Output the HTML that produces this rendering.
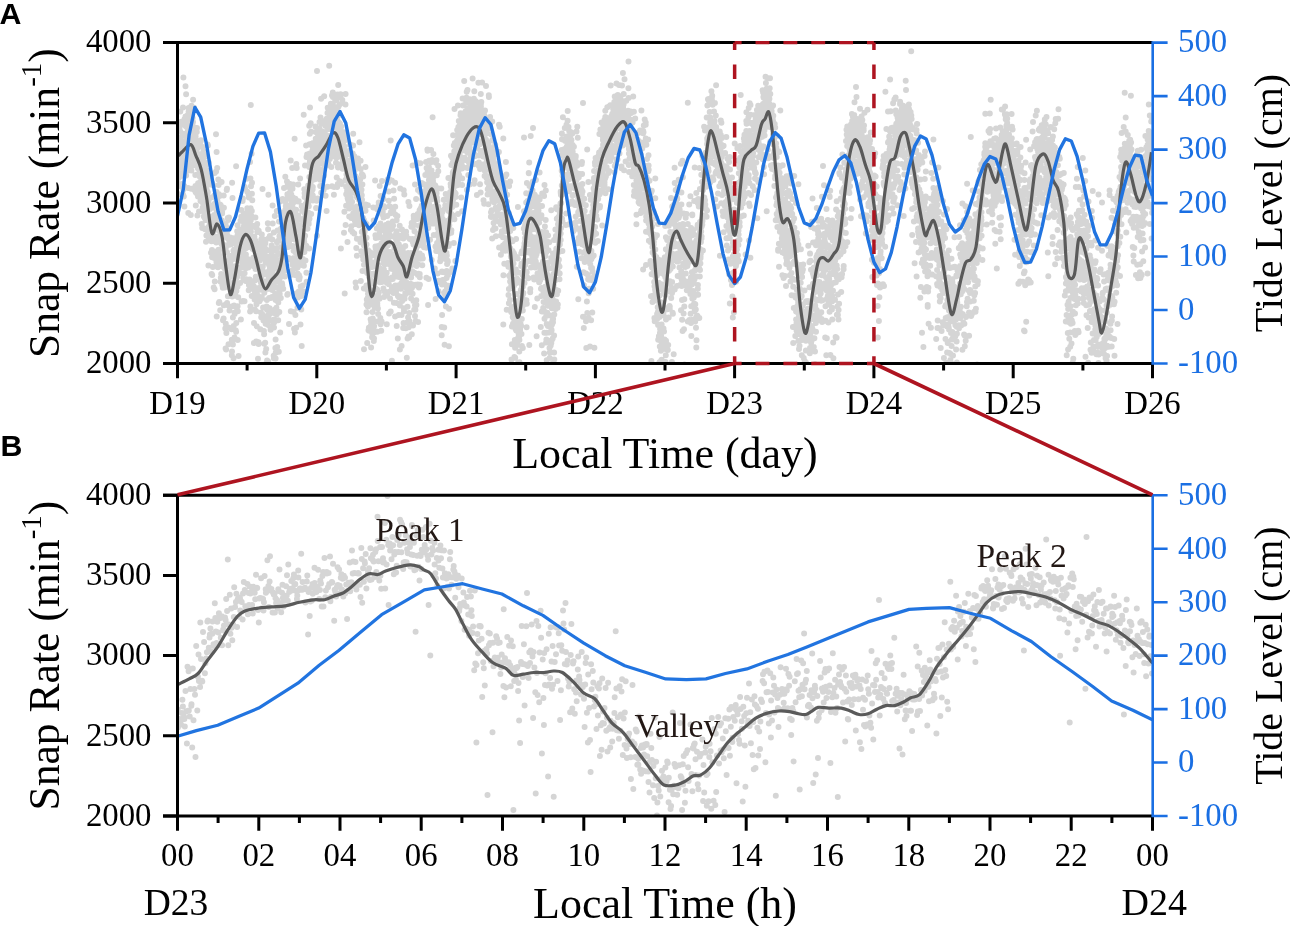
<!DOCTYPE html>
<html><head><meta charset="utf-8"><style>html,body{margin:0;padding:0;background:#fff;overflow:hidden}svg{display:block;will-change:transform}</style></head>
<body><svg width="1290" height="926" viewBox="0 0 1290 926">
<rect width="1290" height="926" fill="#fff"/>
<defs><clipPath id="ca"><rect x="177.5" y="42.6" width="975.0" height="320.9"/></clipPath><clipPath id="cb"><rect x="177.5" y="495.3" width="975.0" height="320.7"/></clipPath></defs>
<g clip-path="url(#ca)"><path d="M177.8 148.5h0M178.0 147.2h0M177.6 170.9h0M177.6 156.4h0M177.9 168.6h0M178.1 168.4h0M178.1 157.5h0M178.4 151.2h0M177.6 142.1h0M177.7 183.5h0M179.1 146.0h0M178.6 150.1h0M179.2 143.4h0M179.0 173.6h0M179.3 152.4h0M179.0 194.3h0M179.2 160.0h0M178.9 149.6h0M178.7 178.1h0M179.3 157.5h0M180.4 143.0h0M180.1 131.5h0M180.3 111.5h0M179.6 158.3h0M180.1 185.9h0M179.9 130.8h0M179.5 155.0h0M179.6 164.8h0M179.6 127.5h0M179.6 173.8h0M181.0 176.1h0M180.8 122.8h0M180.9 166.9h0M180.7 146.9h0M180.7 139.5h0M180.5 143.3h0M180.9 175.4h0M181.0 137.2h0M181.2 173.9h0M181.4 121.7h0M181.9 167.9h0M181.6 163.5h0M181.7 145.3h0M181.5 153.1h0M181.6 184.1h0M182.1 153.2h0M181.8 143.0h0M182.3 184.6h0M182.0 154.7h0M181.8 152.0h0M183.3 189.5h0M183.0 152.9h0M183.0 107.6h0M183.4 133.8h0M182.8 162.1h0M183.0 194.4h0M182.8 166.2h0M183.4 77.5h0M183.3 151.9h0M182.9 168.0h0M183.5 144.8h0M184.5 172.3h0M184.4 206.4h0M183.7 142.1h0M183.7 124.2h0M184.3 124.0h0M184.2 185.9h0M184.4 169.0h0M184.3 159.0h0M183.8 196.5h0M185.5 116.5h0M185.2 169.2h0M184.6 171.5h0M184.6 119.1h0M185.5 125.4h0M184.6 163.0h0M185.5 86.2h0M184.9 134.9h0M185.3 144.3h0M184.7 159.6h0M185.8 170.1h0M185.9 172.1h0M186.1 94.2h0M186.0 162.5h0M186.0 135.4h0M185.5 151.6h0M185.7 141.3h0M185.8 126.2h0M186.1 175.5h0M185.7 157.9h0M187.3 120.8h0M187.4 133.6h0M187.1 121.4h0M187.0 141.2h0M187.0 126.8h0M187.4 115.4h0M187.1 151.9h0M186.6 136.8h0M186.6 166.5h0M187.3 163.2h0M187.7 134.8h0M188.4 140.6h0M187.7 119.0h0M188.5 162.9h0M187.7 129.6h0M187.7 140.9h0M188.2 127.6h0M187.5 137.3h0M188.1 187.9h0M188.3 212.9h0M188.6 170.3h0M188.8 148.5h0M188.9 151.1h0M188.6 123.8h0M189.1 149.9h0M189.2 143.9h0M188.6 111.7h0M188.6 107.9h0M188.6 119.7h0M189.1 149.0h0M189.8 130.2h0M189.6 138.7h0M189.6 136.0h0M190.3 153.2h0M190.0 138.5h0M189.8 142.9h0M190.2 147.0h0M190.4 157.6h0M190.3 113.8h0M189.9 141.1h0M191.2 118.7h0M191.2 188.8h0M190.9 148.0h0M190.6 144.9h0M190.8 167.4h0M191.4 170.6h0M190.8 135.2h0M190.7 157.6h0M190.8 215.1h0M190.7 149.6h0M191.8 158.5h0M192.0 142.1h0M191.7 154.8h0M191.6 141.5h0M191.5 137.6h0M192.1 154.1h0M192.3 131.7h0M191.9 114.0h0M192.5 139.9h0M191.5 105.8h0M193.4 140.5h0M192.6 118.0h0M193.0 164.2h0M193.1 99.8h0M193.2 145.7h0M192.6 147.8h0M192.6 110.4h0M193.1 131.8h0M193.0 152.9h0M193.0 122.0h0M194.2 146.0h0M193.6 134.8h0M194.2 144.6h0M194.0 107.8h0M194.0 151.3h0M194.1 127.2h0M193.6 145.2h0M194.1 134.6h0M193.6 135.3h0M194.2 127.6h0M195.0 141.8h0M195.4 151.7h0M195.5 186.1h0M195.3 175.1h0M194.9 159.6h0M194.7 190.2h0M194.6 157.2h0M195.3 147.3h0M195.4 157.9h0M195.0 187.2h0M195.5 138.2h0M195.6 155.0h0M195.8 205.6h0M196.3 152.4h0M196.4 174.8h0M195.9 143.8h0M196.5 142.5h0M195.8 165.4h0M195.6 136.6h0M195.7 192.3h0M197.0 127.9h0M197.4 215.4h0M197.1 193.8h0M197.2 147.7h0M197.2 155.1h0M196.8 132.0h0M197.4 141.6h0M196.8 158.7h0M197.5 148.2h0M197.1 143.6h0M197.7 166.5h0M198.0 196.5h0M198.4 155.1h0M197.7 159.1h0M197.8 157.3h0M198.1 183.3h0M198.2 141.6h0M197.9 168.3h0M197.6 165.1h0M198.0 153.9h0M199.4 159.0h0M198.9 173.7h0M199.5 166.0h0M198.5 154.1h0M199.4 160.4h0M198.9 159.0h0M199.3 186.4h0M198.6 156.4h0M199.0 211.4h0M199.1 144.0h0M200.0 195.3h0M199.7 176.6h0M200.1 173.1h0M200.1 182.1h0M199.6 140.9h0M199.9 158.9h0M200.1 157.1h0M200.5 201.0h0M200.4 164.9h0M200.5 190.3h0M200.8 140.9h0M200.9 165.2h0M201.2 167.0h0M200.8 169.8h0M201.2 175.2h0M201.0 140.2h0M201.5 173.2h0M200.7 145.7h0M200.8 146.2h0M200.7 164.7h0M202.2 193.3h0M201.7 224.1h0M201.6 186.7h0M202.4 186.0h0M202.2 227.9h0M201.7 157.3h0M202.2 163.2h0M201.9 155.6h0M201.7 165.3h0M202.5 191.5h0M203.5 158.7h0M203.3 208.4h0M202.5 147.1h0M202.7 207.4h0M203.4 151.6h0M203.3 197.8h0M202.5 187.0h0M203.2 165.8h0M202.8 202.7h0M202.8 163.3h0M203.8 216.4h0M204.4 185.3h0M204.4 186.4h0M204.5 228.6h0M203.9 162.5h0M204.4 194.7h0M204.3 212.9h0M204.1 155.1h0M203.8 182.1h0M203.7 167.3h0M204.7 213.0h0M204.8 218.1h0M205.4 207.5h0M204.6 193.9h0M205.2 190.5h0M205.1 229.3h0M205.2 180.0h0M205.3 181.1h0M205.1 186.5h0M204.7 173.8h0M205.7 165.1h0M205.9 193.2h0M206.0 204.7h0M206.5 170.3h0M206.0 241.8h0M205.5 156.3h0M205.6 220.1h0M206.4 191.0h0M206.4 192.8h0M206.4 235.4h0M207.1 208.0h0M206.6 218.3h0M206.8 189.9h0M206.5 185.4h0M207.2 195.4h0M207.3 216.0h0M206.6 177.3h0M207.1 218.3h0M206.7 173.4h0M206.8 216.1h0M207.8 192.3h0M208.4 265.4h0M207.9 203.4h0M207.5 179.5h0M207.9 145.4h0M208.0 234.0h0M207.5 176.0h0M207.6 144.5h0M207.9 217.3h0M208.0 234.8h0M208.6 232.5h0M208.7 162.2h0M209.4 221.8h0M209.4 217.4h0M209.4 228.6h0M209.3 204.8h0M208.9 226.4h0M208.7 200.2h0M209.0 227.1h0M209.2 239.1h0M209.5 217.7h0M210.3 217.3h0M210.1 208.9h0M209.9 207.4h0M209.9 182.3h0M209.5 233.4h0M210.0 224.4h0M210.0 184.4h0M210.0 239.5h0M209.6 237.3h0M211.0 222.1h0M211.2 217.4h0M211.0 207.1h0M211.5 230.6h0M211.4 241.2h0M210.7 175.9h0M211.0 252.8h0M211.3 218.2h0M210.6 225.3h0M211.4 218.0h0M212.3 183.6h0M211.7 232.3h0M212.0 250.1h0M211.7 239.8h0M212.2 275.1h0M211.6 274.0h0M212.1 257.3h0M212.1 197.2h0M211.6 223.5h0M212.3 216.8h0M213.5 206.9h0M212.9 267.0h0M213.2 239.7h0M213.1 222.2h0M213.1 230.3h0M212.5 233.7h0M213.1 185.2h0M212.6 228.4h0M213.2 256.5h0M212.6 232.5h0M213.7 217.6h0M214.1 221.5h0M213.6 231.2h0M213.6 257.8h0M214.4 204.0h0M213.5 252.4h0M214.1 215.1h0M214.4 195.4h0M213.7 287.5h0M213.9 238.7h0M214.6 289.3h0M215.4 229.3h0M214.7 172.9h0M215.3 225.6h0M214.8 281.5h0M215.3 257.2h0M214.5 227.1h0M215.2 203.2h0M214.7 228.9h0M214.8 241.3h0M216.2 218.1h0M216.1 209.3h0M216.3 222.2h0M216.5 262.4h0M216.4 223.9h0M216.2 260.1h0M216.2 242.4h0M215.7 202.8h0M216.1 171.5h0M216.0 134.2h0M217.2 168.0h0M217.1 240.2h0M216.7 316.4h0M216.6 251.6h0M216.6 212.7h0M216.5 236.7h0M217.2 204.0h0M216.6 191.9h0M216.9 266.2h0M216.6 152.0h0M218.4 253.0h0M217.6 236.5h0M218.3 179.6h0M218.1 197.0h0M217.6 226.1h0M217.8 211.5h0M217.5 218.3h0M217.9 267.3h0M218.5 249.7h0M217.5 201.5h0M218.9 194.3h0M219.0 263.6h0M219.4 237.0h0M218.5 215.9h0M219.3 302.0h0M219.0 230.6h0M218.7 205.0h0M218.8 303.1h0M218.8 220.6h0M218.6 185.0h0M219.6 208.2h0M220.1 195.8h0M219.9 240.4h0M220.4 226.9h0M219.7 256.9h0M219.9 204.6h0M219.7 195.4h0M220.3 219.4h0M219.8 260.6h0M220.2 310.3h0M220.7 238.8h0M220.6 204.9h0M221.4 243.8h0M221.2 274.1h0M220.7 233.8h0M221.0 258.9h0M220.8 277.7h0M220.6 242.0h0M220.6 281.8h0M221.2 231.0h0M221.7 262.8h0M221.9 248.5h0M221.9 220.4h0M222.1 213.5h0M221.6 182.0h0M222.4 266.6h0M222.1 212.3h0M222.2 256.2h0M222.3 285.1h0M222.1 211.3h0M222.8 287.7h0M223.3 279.3h0M223.1 224.1h0M223.1 261.3h0M223.2 278.0h0M223.3 286.5h0M223.0 320.2h0M222.7 257.9h0M223.4 279.9h0M223.0 286.0h0M224.0 285.0h0M223.9 207.8h0M223.7 195.6h0M223.6 318.6h0M223.9 249.2h0M223.5 279.1h0M223.9 233.4h0M223.7 285.0h0M224.4 268.3h0M223.9 305.2h0M224.6 287.6h0M225.0 230.0h0M224.7 245.2h0M225.3 328.5h0M225.0 250.2h0M225.3 261.6h0M225.4 252.1h0M224.9 278.3h0M224.5 252.0h0M224.8 283.2h0M225.9 247.3h0M226.4 237.2h0M225.6 348.6h0M225.6 224.1h0M226.1 349.6h0M226.2 277.7h0M225.6 273.2h0M225.8 323.8h0M226.4 333.1h0M227.2 305.0h0M226.7 190.0h0M227.0 188.7h0M227.1 303.0h0M226.7 266.9h0M227.0 277.8h0M227.0 227.7h0M226.5 251.8h0M227.0 252.3h0M226.9 234.3h0M228.5 262.4h0M227.5 230.3h0M228.2 220.0h0M228.0 365.7h0M228.4 279.2h0M227.8 218.1h0M227.9 238.7h0M227.7 275.0h0M227.9 296.2h0M228.3 266.6h0M229.0 217.5h0M229.2 286.2h0M228.8 278.6h0M228.5 344.2h0M228.5 265.6h0M228.5 327.5h0M229.2 260.0h0M229.4 242.2h0M229.2 266.4h0M230.2 283.0h0M230.3 272.2h0M229.7 306.6h0M230.2 237.6h0M230.3 263.5h0M229.8 287.7h0M229.8 255.7h0M229.6 244.8h0M229.5 310.5h0M230.4 265.8h0M230.5 244.5h0M231.5 260.0h0M230.9 285.8h0M230.7 283.5h0M230.6 294.7h0M231.2 276.2h0M230.6 276.8h0M231.2 243.7h0M232.1 182.8h0M231.8 339.7h0M232.2 341.1h0M232.3 296.4h0M231.8 355.2h0M232.0 351.4h0M231.9 255.8h0M231.6 329.2h0M231.9 258.7h0M231.9 256.5h0M233.4 250.8h0M232.6 295.6h0M233.2 255.9h0M233.5 358.3h0M233.1 238.2h0M232.9 344.4h0M233.1 306.0h0M232.5 270.5h0M232.9 317.6h0M232.5 198.1h0M234.3 249.6h0M234.4 267.0h0M234.2 272.8h0M234.1 305.4h0M233.7 325.9h0M234.1 270.1h0M234.0 283.8h0M234.3 338.7h0M233.6 292.7h0M234.1 250.4h0M235.4 243.6h0M234.7 288.4h0M234.7 242.5h0M234.9 312.5h0M234.6 314.0h0M234.6 281.7h0M235.3 258.8h0M235.0 266.2h0M234.5 337.5h0M235.1 257.3h0M236.3 322.9h0M236.3 267.4h0M235.8 281.4h0M235.6 295.7h0M236.1 166.2h0M236.4 290.9h0M236.1 331.7h0M235.8 330.6h0M236.1 250.8h0M235.9 251.8h0M237.5 286.7h0M236.8 277.6h0M237.4 273.8h0M237.3 253.8h0M237.1 310.1h0M237.3 276.5h0M237.2 231.2h0M236.6 246.9h0M236.8 253.8h0M236.7 271.3h0M238.2 256.7h0M237.5 235.5h0M237.7 340.1h0M237.6 225.2h0M237.6 306.2h0M238.0 232.7h0M238.3 249.7h0M237.7 253.0h0M238.2 297.3h0M237.8 311.3h0M238.7 271.3h0M238.7 238.5h0M238.6 356.0h0M239.2 234.4h0M238.8 259.7h0M238.6 256.6h0M239.4 249.3h0M239.5 232.3h0M240.3 248.6h0M240.3 248.8h0M239.7 267.7h0M240.1 239.6h0M239.7 243.7h0M239.6 235.9h0M240.1 245.7h0M240.1 283.0h0M240.3 250.6h0M240.2 257.9h0M241.2 254.6h0M241.3 210.1h0M241.0 273.2h0M241.4 230.7h0M240.7 229.8h0M240.9 258.7h0M240.5 220.7h0M240.6 267.5h0M241.3 216.7h0M240.9 319.5h0M241.6 301.6h0M242.0 235.3h0M242.0 262.5h0M241.7 240.4h0M241.8 266.2h0M242.2 244.7h0M241.5 219.5h0M242.2 229.6h0M242.4 266.9h0M242.0 247.0h0M242.8 230.6h0M243.1 255.2h0M242.6 240.8h0M243.3 215.1h0M242.9 258.8h0M242.9 198.6h0M243.3 240.9h0M242.9 300.9h0M243.3 278.2h0M242.6 201.1h0M244.5 236.4h0M244.1 266.2h0M244.0 213.3h0M243.5 252.2h0M244.5 301.3h0M244.3 214.8h0M244.4 225.4h0M244.2 223.4h0M244.0 215.3h0M244.0 225.7h0M245.5 224.3h0M244.6 273.2h0M245.5 232.4h0M245.0 265.4h0M244.6 229.6h0M244.8 262.4h0M244.6 256.1h0M245.1 188.8h0M244.7 186.9h0M245.1 243.3h0M245.8 241.4h0M245.9 268.2h0M245.5 248.4h0M246.1 223.3h0M245.8 234.1h0M245.7 280.9h0M246.4 261.5h0M245.9 254.4h0M245.6 279.0h0M245.7 226.2h0M246.9 178.7h0M247.3 208.2h0M247.2 240.5h0M247.3 191.7h0M247.4 239.0h0M247.3 235.5h0M247.0 219.1h0M247.3 218.9h0M247.1 213.4h0M247.2 246.1h0M247.9 223.0h0M248.3 267.5h0M248.0 247.3h0M247.6 259.1h0M248.1 259.5h0M248.3 221.1h0M248.5 194.4h0M247.5 264.5h0M248.1 280.0h0M248.0 224.0h0M249.0 230.0h0M248.9 218.3h0M248.9 216.8h0M248.6 214.0h0M248.9 197.6h0M249.5 218.6h0M248.9 284.9h0M249.0 238.0h0M248.7 290.2h0M249.0 233.2h0M250.4 306.4h0M250.4 178.4h0M249.7 213.0h0M249.7 237.6h0M250.1 162.1h0M250.1 311.4h0M249.9 218.1h0M249.5 279.6h0M250.3 232.9h0M250.0 226.9h0M250.8 105.1h0M251.1 227.4h0M250.6 241.8h0M250.6 230.3h0M251.0 186.3h0M250.6 214.2h0M251.3 238.8h0M250.7 220.6h0M250.6 208.3h0M250.9 231.8h0M251.6 153.8h0M251.9 193.7h0M251.7 296.1h0M251.8 211.1h0M252.3 200.2h0M252.0 182.8h0M251.7 241.8h0M251.8 216.6h0M252.0 247.2h0M251.9 263.1h0M253.5 240.4h0M253.0 245.3h0M252.9 288.0h0M252.9 287.0h0M252.7 249.0h0M253.2 257.8h0M252.7 282.9h0M253.3 263.5h0M252.9 259.7h0M252.9 225.8h0M253.9 286.6h0M254.0 323.1h0M254.0 247.9h0M254.4 236.7h0M253.9 239.9h0M254.4 244.1h0M254.0 247.9h0M253.9 343.1h0M254.1 245.6h0M253.7 266.2h0M254.8 309.5h0M254.9 280.4h0M254.8 249.5h0M254.6 290.9h0M254.8 299.2h0M255.4 217.5h0M254.6 299.5h0M255.2 265.6h0M254.9 246.1h0M255.3 240.6h0M256.1 311.2h0M256.2 341.6h0M255.5 269.1h0M255.8 276.7h0M255.5 248.7h0M256.3 250.1h0M256.2 227.4h0M255.8 278.0h0M256.3 258.9h0M256.4 277.8h0M256.5 304.2h0M256.7 326.3h0M257.2 257.3h0M257.2 223.9h0M256.8 294.2h0M257.4 251.0h0M257.2 231.8h0M256.6 227.9h0M256.9 278.9h0M257.3 260.2h0M258.2 265.9h0M258.5 342.2h0M258.0 296.6h0M257.9 279.3h0M257.8 258.2h0M257.7 232.1h0M258.0 295.8h0M257.8 251.7h0M257.6 244.5h0M258.0 358.8h0M258.7 230.7h0M259.3 244.8h0M258.6 260.6h0M258.6 287.9h0M258.7 250.9h0M258.8 277.5h0M258.9 276.9h0M259.5 279.1h0M258.6 344.1h0M258.6 267.6h0M259.9 274.1h0M260.4 277.8h0M260.1 257.8h0M259.7 260.5h0M259.5 301.3h0M259.7 243.5h0M260.3 329.2h0M259.8 289.7h0M259.9 256.9h0M260.9 282.5h0M261.1 299.1h0M261.0 246.5h0M260.7 271.1h0M261.2 277.1h0M260.9 312.5h0M260.9 286.6h0M261.2 317.3h0M261.3 239.2h0M261.8 234.5h0M261.8 281.5h0M262.2 314.2h0M261.8 274.9h0M262.1 289.2h0M261.8 297.0h0M262.5 189.0h0M262.3 269.0h0M261.8 251.6h0M263.5 274.5h0M262.8 254.3h0M262.5 273.2h0M262.6 239.0h0M262.9 258.3h0M263.1 307.6h0M262.6 318.2h0M262.6 247.6h0M262.8 266.5h0M263.0 283.0h0M263.7 319.2h0M264.1 315.9h0M263.9 239.5h0M264.1 334.3h0M264.3 343.7h0M263.6 283.9h0M263.9 330.9h0M264.3 281.5h0M264.3 292.8h0M263.5 320.4h0M264.7 283.7h0M265.4 243.3h0M265.4 352.5h0M264.7 242.5h0M264.8 253.1h0M264.6 245.3h0M265.2 290.0h0M265.1 284.3h0M265.2 342.7h0M265.7 316.5h0M265.6 262.6h0M265.6 323.8h0M265.8 364.0h0M265.9 322.5h0M266.2 249.4h0M266.4 283.2h0M266.0 321.6h0M266.3 317.7h0M266.2 349.0h0M267.0 309.8h0M267.4 250.2h0M266.6 306.5h0M267.1 360.4h0M266.7 256.7h0M266.9 299.9h0M266.5 288.9h0M267.0 318.8h0M266.5 281.3h0M266.8 272.3h0M267.8 223.3h0M268.5 276.6h0M268.1 361.5h0M268.1 229.2h0M267.9 308.6h0M268.4 194.7h0M267.8 285.8h0M268.1 257.1h0M268.1 317.4h0M267.8 324.7h0M269.0 288.7h0M268.8 312.3h0M268.5 238.4h0M269.1 298.1h0M268.7 280.9h0M269.2 314.4h0M269.4 325.7h0M268.6 271.5h0M269.1 264.9h0M269.6 308.3h0M269.8 273.8h0M269.7 281.4h0M269.9 268.4h0M270.1 267.1h0M270.2 282.6h0M270.1 310.6h0M269.8 235.9h0M269.7 320.3h0M270.4 258.7h0M270.8 256.0h0M271.2 262.6h0M270.6 329.8h0M270.8 297.9h0M271.1 280.1h0M271.4 285.1h0M271.5 251.9h0M270.8 257.0h0M270.7 286.6h0M271.3 272.7h0M272.0 246.9h0M272.1 270.0h0M272.2 272.1h0M272.3 239.5h0M272.3 271.0h0M272.0 296.9h0M271.6 245.6h0M272.3 290.0h0M272.5 283.1h0M271.5 272.3h0M272.6 266.8h0M273.4 275.7h0M272.6 277.8h0M272.7 223.4h0M273.3 319.7h0M273.1 278.3h0M273.3 256.2h0M272.6 205.6h0M272.6 320.3h0M273.9 358.3h0M273.7 268.6h0M273.8 283.5h0M274.3 319.5h0M273.8 313.1h0M273.7 355.7h0M274.4 280.8h0M273.8 232.4h0M274.0 327.5h0M274.1 322.5h0M275.1 309.6h0M275.4 347.9h0M274.8 216.1h0M274.7 287.5h0M274.6 275.3h0M274.8 261.1h0M275.2 294.1h0M274.7 278.2h0M276.2 259.2h0M275.9 277.7h0M275.5 264.8h0M275.6 339.4h0M275.6 299.9h0M275.6 358.5h0M276.0 259.9h0M276.4 307.7h0M275.7 352.7h0M275.8 250.4h0M276.8 314.3h0M276.9 287.4h0M276.9 262.9h0M277.0 242.3h0M277.2 347.0h0M276.9 248.0h0M276.9 266.1h0M276.9 297.8h0M277.5 230.6h0M276.8 210.9h0M277.9 281.0h0M278.3 302.4h0M278.4 267.4h0M278.1 254.2h0M278.4 275.6h0M278.1 301.8h0M278.2 320.3h0M278.2 240.7h0M278.2 269.7h0M279.1 279.7h0M278.8 351.8h0M279.0 221.6h0M278.7 270.2h0M279.4 240.6h0M279.3 267.0h0M278.7 210.7h0M279.3 291.6h0M279.4 236.3h0M279.3 312.1h0M279.7 293.7h0M280.3 284.9h0M280.0 201.4h0M280.2 332.6h0M280.0 270.5h0M280.2 253.7h0M280.0 252.9h0M279.9 289.9h0M279.7 288.4h0M280.2 274.6h0M280.8 271.9h0M281.1 247.1h0M280.7 276.9h0M280.9 231.9h0M280.9 259.8h0M280.9 228.7h0M281.3 238.8h0M281.4 289.0h0M281.5 217.0h0M280.8 297.9h0M282.3 229.6h0M282.4 247.6h0M281.5 235.7h0M282.3 264.2h0M282.0 213.0h0M282.0 283.3h0M282.2 248.1h0M282.2 263.1h0M282.3 285.3h0M281.6 288.1h0M282.6 254.4h0M282.6 199.1h0M283.2 288.7h0M282.9 265.3h0M283.5 263.9h0M282.8 241.6h0M282.5 269.2h0M282.8 274.0h0M283.4 221.5h0M282.6 252.5h0M284.4 258.3h0M283.7 228.1h0M284.0 213.0h0M284.1 244.9h0M284.3 266.1h0M283.6 229.3h0M284.0 220.1h0M283.8 226.8h0M283.8 262.8h0M284.0 188.0h0M284.9 276.6h0M285.1 236.4h0M285.4 213.0h0M285.4 215.7h0M285.3 210.0h0M284.8 201.3h0M285.3 239.8h0M284.6 224.8h0M285.3 176.8h0M284.8 266.9h0M286.2 258.6h0M285.5 247.7h0M285.8 205.9h0M286.1 212.3h0M286.4 228.6h0M286.3 219.4h0M285.9 199.9h0M285.7 247.6h0M285.6 219.3h0M286.2 199.2h0M287.3 294.7h0M287.4 186.6h0M286.8 219.9h0M287.4 194.3h0M287.0 181.5h0M286.6 205.3h0M286.8 238.7h0M287.4 206.2h0M287.1 186.8h0M287.2 270.4h0M287.8 218.3h0M287.7 294.1h0M287.8 209.1h0M288.1 211.2h0M288.1 247.1h0M287.6 229.8h0M287.6 206.1h0M288.2 236.7h0M287.7 183.1h0M288.4 259.2h0M288.6 225.1h0M289.0 208.2h0M288.6 232.2h0M289.0 242.1h0M288.7 219.7h0M288.7 238.6h0M289.0 324.1h0M289.0 225.6h0M289.1 224.9h0M288.7 258.0h0M289.5 197.4h0M290.4 210.4h0M290.1 183.9h0M290.2 192.9h0M289.7 220.9h0M290.1 211.7h0M290.3 222.8h0M290.4 191.5h0M290.4 205.0h0M289.7 224.4h0M291.2 207.2h0M290.7 223.1h0M290.8 311.3h0M291.0 211.8h0M291.3 214.5h0M290.7 160.5h0M291.3 274.7h0M290.8 233.5h0M291.5 214.3h0M291.3 194.6h0M292.4 261.2h0M292.1 186.0h0M292.3 246.3h0M292.5 207.3h0M292.4 264.6h0M291.8 203.7h0M291.7 201.8h0M292.0 226.5h0M292.2 168.1h0M292.3 270.2h0M293.4 211.5h0M293.2 234.8h0M292.8 245.9h0M292.5 188.8h0M292.5 230.7h0M293.1 203.1h0M292.8 197.5h0M293.1 263.7h0M292.6 213.9h0M293.2 184.6h0M293.6 312.0h0M293.7 239.1h0M294.5 239.5h0M294.1 328.7h0M293.9 258.0h0M294.5 223.4h0M294.3 229.1h0M293.7 226.1h0M294.0 227.6h0M293.6 250.7h0M295.4 198.8h0M295.4 314.9h0M294.6 138.7h0M294.9 274.9h0M295.1 201.2h0M295.4 230.6h0M294.9 332.4h0M295.2 252.3h0M294.9 294.4h0M295.2 211.9h0M295.8 293.4h0M295.6 222.9h0M296.1 209.7h0M296.1 268.1h0M296.3 217.0h0M296.5 229.0h0M296.3 163.9h0M296.2 327.7h0M295.8 200.1h0M296.3 220.6h0M296.6 253.5h0M297.2 234.9h0M296.8 235.7h0M297.5 307.8h0M296.7 259.3h0M296.8 237.2h0M296.6 223.8h0M297.5 263.0h0M296.7 167.9h0M297.1 274.0h0M297.8 248.8h0M298.1 201.4h0M298.3 215.6h0M298.0 297.6h0M298.1 250.0h0M298.3 243.1h0M297.9 244.5h0M297.6 267.5h0M298.3 184.4h0M297.6 273.6h0M299.1 233.1h0M299.3 227.4h0M299.4 232.0h0M299.3 279.6h0M298.7 201.3h0M299.2 243.8h0M298.6 279.1h0M299.0 275.3h0M299.2 228.6h0M298.8 291.4h0M300.3 306.9h0M300.3 296.1h0M300.4 256.6h0M300.1 178.4h0M299.6 239.4h0M299.8 225.4h0M300.1 254.3h0M299.7 277.3h0M300.2 292.7h0M300.2 237.5h0M301.3 296.1h0M300.6 261.7h0M300.6 219.4h0M300.5 234.0h0M300.6 245.8h0M300.8 243.0h0M300.7 286.6h0M301.3 309.5h0M300.5 324.6h0M300.9 264.5h0M302.1 210.8h0M302.0 236.1h0M301.7 345.9h0M302.5 242.8h0M302.5 231.6h0M302.0 252.5h0M302.2 238.1h0M301.9 264.9h0M301.7 205.9h0M301.7 246.4h0M302.7 209.0h0M303.5 211.8h0M303.4 223.9h0M302.6 207.2h0M302.5 233.3h0M302.8 209.8h0M302.7 285.5h0M302.5 242.1h0M302.9 259.0h0M302.6 219.0h0M303.7 114.7h0M304.4 252.0h0M304.0 246.0h0M304.1 238.4h0M303.7 291.5h0M304.2 241.7h0M304.5 222.9h0M304.3 189.2h0M303.6 241.2h0M303.9 265.8h0M305.3 206.6h0M305.4 218.5h0M304.6 193.2h0M305.0 165.6h0M304.7 244.5h0M304.6 212.5h0M304.6 196.9h0M305.1 235.8h0M304.9 219.8h0M305.0 213.8h0M306.2 214.2h0M306.2 245.7h0M305.6 203.9h0M305.7 224.3h0M305.7 224.9h0M306.1 145.6h0M305.5 260.6h0M305.5 209.9h0M305.7 226.6h0M306.4 272.7h0M307.4 202.1h0M307.3 204.7h0M307.5 228.8h0M306.7 246.7h0M306.6 281.7h0M306.5 157.0h0M307.1 154.6h0M307.1 201.5h0M306.6 191.1h0M306.9 199.4h0M308.2 212.6h0M308.0 165.3h0M308.2 185.4h0M308.5 195.4h0M307.9 191.4h0M308.3 156.5h0M307.9 196.8h0M308.1 189.4h0M308.3 202.4h0M308.2 198.1h0M309.0 165.7h0M309.1 214.9h0M309.2 248.6h0M309.2 166.9h0M309.2 125.7h0M308.7 223.9h0M308.9 186.2h0M308.8 206.3h0M308.6 222.2h0M309.4 177.1h0M310.3 195.5h0M309.7 166.1h0M309.5 218.7h0M309.8 133.7h0M310.3 188.3h0M309.6 144.2h0M309.8 153.6h0M310.5 193.0h0M310.0 107.5h0M309.9 161.2h0M311.2 214.0h0M310.8 184.7h0M310.5 162.7h0M310.7 123.3h0M311.2 166.5h0M310.7 143.9h0M310.5 180.6h0M311.5 192.2h0M311.1 131.8h0M310.8 156.4h0M311.6 158.8h0M311.6 172.5h0M312.5 154.4h0M311.7 196.9h0M311.8 156.2h0M312.2 146.1h0M312.4 163.9h0M312.3 158.3h0M312.4 150.8h0M311.5 153.7h0M313.4 148.9h0M313.2 143.0h0M312.6 180.1h0M313.2 158.7h0M312.7 198.8h0M312.6 189.4h0M312.9 200.5h0M312.8 187.1h0M313.0 160.9h0M312.8 195.5h0M314.3 163.2h0M313.9 171.8h0M314.1 162.9h0M314.2 152.2h0M313.7 152.3h0M314.0 165.5h0M313.6 150.2h0M313.7 160.9h0M313.6 148.4h0M314.4 174.7h0M314.6 157.3h0M315.4 126.5h0M315.4 178.4h0M314.7 151.3h0M315.4 169.6h0M315.4 164.1h0M315.2 144.3h0M314.7 166.5h0M314.9 179.3h0M314.7 156.1h0M316.2 176.4h0M316.2 158.6h0M315.7 138.8h0M315.6 132.1h0M316.4 175.2h0M316.4 143.9h0M315.7 162.5h0M315.7 152.6h0M315.9 167.1h0M316.1 208.1h0M316.9 235.8h0M316.7 158.1h0M317.0 70.9h0M317.1 156.8h0M317.3 174.1h0M316.7 174.4h0M316.8 142.1h0M316.5 178.1h0M316.7 200.7h0M316.8 154.5h0M318.1 168.4h0M317.6 198.5h0M317.6 133.7h0M318.4 149.2h0M317.7 139.0h0M317.9 137.7h0M318.2 177.6h0M318.4 148.7h0M317.6 158.2h0M317.8 155.0h0M319.5 121.9h0M319.3 169.8h0M319.2 160.8h0M319.2 159.8h0M319.3 171.3h0M318.6 147.5h0M319.1 146.8h0M318.7 140.8h0M319.0 199.4h0M319.1 164.1h0M320.2 186.0h0M320.2 151.3h0M320.1 179.8h0M319.7 143.2h0M320.5 117.6h0M320.4 173.6h0M320.2 136.2h0M319.6 128.7h0M319.7 159.4h0M319.9 151.7h0M320.6 170.5h0M320.9 135.9h0M320.9 145.2h0M321.2 147.8h0M320.9 176.9h0M321.1 98.7h0M321.2 192.8h0M320.8 177.0h0M321.3 185.7h0M321.1 123.9h0M321.5 145.2h0M321.6 135.6h0M321.7 169.9h0M321.8 147.1h0M322.5 176.5h0M322.5 172.6h0M321.8 140.1h0M322.0 162.9h0M321.6 151.0h0M322.1 157.9h0M322.8 141.9h0M323.0 131.8h0M323.4 153.5h0M323.2 147.5h0M323.2 153.5h0M322.6 120.9h0M322.7 163.8h0M322.7 121.4h0M323.2 151.8h0M323.1 153.2h0M324.1 142.0h0M324.0 175.8h0M323.5 148.5h0M324.1 168.3h0M324.1 150.4h0M324.2 157.2h0M323.7 147.9h0M324.2 96.2h0M324.3 133.7h0M323.6 189.9h0M324.6 134.2h0M325.4 139.5h0M325.0 156.5h0M325.0 155.4h0M325.2 142.4h0M324.6 135.6h0M325.0 136.7h0M324.8 133.2h0M325.2 122.4h0M325.4 165.0h0M326.1 121.0h0M325.8 146.9h0M326.5 162.6h0M326.1 153.5h0M325.6 144.9h0M325.6 125.9h0M325.6 195.7h0M326.3 143.8h0M325.6 151.4h0M326.3 157.2h0M326.7 118.8h0M326.6 145.6h0M327.5 135.8h0M327.4 186.8h0M327.0 122.1h0M327.0 125.9h0M327.2 152.3h0M326.6 210.9h0M326.8 137.8h0M327.5 155.9h0M328.4 148.2h0M327.8 160.9h0M327.9 161.9h0M327.5 113.1h0M328.1 161.4h0M328.3 129.2h0M327.8 127.8h0M327.9 147.4h0M327.7 107.7h0M328.4 158.0h0M328.7 165.1h0M329.2 65.7h0M329.3 126.5h0M329.3 123.0h0M329.0 140.7h0M329.3 114.0h0M329.4 158.6h0M329.2 119.1h0M328.5 110.0h0M328.8 126.8h0M330.3 137.8h0M329.7 147.4h0M329.8 136.1h0M329.6 124.2h0M330.2 119.2h0M330.3 138.8h0M329.8 158.9h0M330.4 115.5h0M329.8 122.8h0M330.1 127.3h0M331.0 107.6h0M331.2 146.8h0M330.9 154.8h0M330.6 122.0h0M330.5 112.7h0M330.9 141.2h0M331.0 137.0h0M330.7 109.9h0M331.3 167.1h0M330.9 103.7h0M332.2 135.5h0M331.8 152.1h0M331.7 110.3h0M331.6 129.3h0M332.5 130.5h0M332.4 120.2h0M332.3 94.8h0M331.7 156.8h0M332.0 186.2h0M332.0 95.4h0M333.1 111.5h0M332.9 97.1h0M332.8 114.0h0M333.0 135.9h0M332.5 123.4h0M332.7 106.9h0M333.0 105.2h0M332.7 110.9h0M333.2 118.6h0M332.8 92.6h0M334.4 144.4h0M333.6 122.8h0M334.3 148.0h0M334.1 186.9h0M333.8 128.3h0M333.7 138.0h0M334.1 133.8h0M333.6 136.8h0M333.8 135.0h0M333.9 194.8h0M335.0 114.0h0M335.1 131.0h0M334.7 118.7h0M334.9 97.2h0M334.9 124.3h0M334.7 107.4h0M335.1 144.1h0M334.9 98.9h0M335.4 119.6h0M335.1 138.9h0M336.2 147.2h0M336.4 152.3h0M336.1 100.4h0M336.0 162.7h0M335.7 152.7h0M335.5 115.8h0M336.0 112.3h0M335.8 155.6h0M336.4 110.0h0M335.9 133.7h0M337.3 122.7h0M336.9 151.9h0M337.0 119.4h0M336.7 177.5h0M336.5 157.7h0M336.6 141.4h0M336.6 128.6h0M337.4 94.6h0M337.1 187.1h0M336.9 150.7h0M338.2 125.5h0M338.4 142.4h0M338.1 167.5h0M337.6 133.2h0M338.2 146.4h0M337.7 143.2h0M338.2 84.9h0M337.9 166.9h0M337.8 184.0h0M338.2 126.4h0M338.7 122.3h0M338.6 156.3h0M339.2 115.1h0M339.1 147.8h0M339.4 125.4h0M339.4 164.5h0M339.4 144.8h0M338.9 150.5h0M338.5 142.4h0M338.5 106.6h0M339.9 104.3h0M339.9 123.4h0M340.5 126.2h0M339.9 132.2h0M340.4 156.1h0M340.5 97.6h0M339.8 137.3h0M339.7 181.2h0M340.0 147.0h0M340.4 137.6h0M340.6 94.3h0M341.1 131.5h0M341.4 148.1h0M340.8 137.5h0M341.4 144.8h0M341.2 126.4h0M340.6 141.5h0M341.2 135.8h0M340.9 248.4h0M340.9 127.3h0M342.3 99.9h0M341.9 166.3h0M342.0 148.9h0M342.2 141.7h0M342.5 150.7h0M342.1 142.0h0M341.7 184.1h0M341.6 155.0h0M342.4 134.7h0M342.2 158.1h0M342.8 159.8h0M343.3 163.9h0M342.7 147.4h0M343.4 164.7h0M343.3 165.8h0M343.4 145.0h0M343.5 132.5h0M343.4 141.2h0M342.6 168.7h0M343.2 133.1h0M344.0 232.7h0M343.7 141.5h0M344.1 162.9h0M344.0 166.4h0M343.8 132.3h0M344.1 149.3h0M344.4 211.8h0M343.6 145.3h0M344.5 146.7h0M343.5 151.7h0M344.6 146.5h0M345.4 137.2h0M344.9 137.9h0M345.4 136.9h0M344.9 138.2h0M344.7 293.5h0M344.6 150.0h0M345.0 158.3h0M345.3 137.2h0M345.5 104.4h0M346.2 187.1h0M346.5 174.5h0M346.1 136.5h0M346.1 205.7h0M345.5 180.0h0M345.6 225.1h0M345.8 139.9h0M346.5 166.6h0M346.2 194.2h0M345.6 94.1h0M346.8 153.5h0M347.5 242.1h0M347.5 162.3h0M347.2 163.2h0M346.9 169.2h0M346.7 180.0h0M347.1 194.0h0M347.1 191.0h0M346.9 176.9h0M346.9 170.6h0M348.3 182.6h0M347.6 161.8h0M347.9 175.4h0M348.2 153.9h0M348.0 199.5h0M347.7 162.7h0M347.6 198.1h0M347.9 190.2h0M348.0 175.3h0M347.8 185.7h0M349.4 162.0h0M348.5 182.3h0M349.3 208.4h0M348.6 201.5h0M348.8 176.4h0M349.0 151.0h0M349.2 174.3h0M349.4 172.3h0M348.7 180.4h0M349.2 216.6h0M349.8 173.6h0M349.9 160.2h0M349.9 203.8h0M350.5 201.3h0M349.6 167.8h0M350.2 181.0h0M350.3 216.3h0M350.0 166.9h0M350.0 169.2h0M350.1 144.6h0M350.5 186.5h0M350.8 173.0h0M351.1 153.7h0M350.9 230.1h0M350.8 197.4h0M350.6 181.9h0M351.4 226.3h0M351.2 218.1h0M350.9 192.6h0M350.9 181.3h0M352.5 216.2h0M352.4 166.9h0M352.5 232.0h0M351.7 175.2h0M352.0 168.3h0M352.1 201.7h0M351.8 164.5h0M352.2 182.8h0M352.0 187.3h0M352.3 156.4h0M352.7 153.6h0M352.8 183.1h0M353.2 133.8h0M352.7 188.1h0M352.9 165.7h0M353.2 213.6h0M352.7 157.4h0M353.1 145.5h0M352.8 181.4h0M353.5 189.8h0M354.2 217.5h0M353.8 174.0h0M354.3 156.2h0M353.8 187.6h0M354.2 233.5h0M353.9 157.2h0M353.8 216.7h0M353.8 207.3h0M354.4 214.9h0M353.9 156.2h0M355.3 223.9h0M354.9 220.8h0M355.1 210.3h0M354.9 190.6h0M354.9 163.6h0M355.1 217.5h0M354.5 166.7h0M354.7 170.3h0M355.4 168.6h0M354.8 175.7h0M355.8 158.5h0M355.6 176.2h0M355.8 164.2h0M355.6 282.6h0M355.7 191.5h0M355.9 219.8h0M356.3 184.5h0M356.0 287.5h0M355.6 193.3h0M356.3 248.0h0M357.0 197.3h0M356.8 178.2h0M356.9 255.7h0M356.7 206.6h0M356.6 179.1h0M357.0 211.8h0M357.2 208.5h0M357.0 192.5h0M356.9 214.7h0M356.9 238.8h0M358.1 196.1h0M358.5 208.6h0M357.6 166.7h0M357.8 190.7h0M357.8 218.0h0M357.9 192.3h0M358.2 165.4h0M357.7 210.5h0M358.0 158.5h0M357.5 222.4h0M359.5 184.3h0M359.0 180.9h0M358.7 190.6h0M359.1 187.5h0M359.1 184.8h0M359.1 200.1h0M359.0 225.2h0M359.2 216.9h0M359.1 179.4h0M358.9 190.1h0M360.1 179.7h0M360.5 242.2h0M360.2 201.1h0M360.4 218.4h0M360.2 213.8h0M360.3 195.6h0M359.5 142.2h0M360.2 221.9h0M360.4 223.5h0M359.5 192.4h0M360.6 199.4h0M360.7 199.8h0M360.8 281.0h0M361.5 189.8h0M361.3 251.3h0M361.2 194.0h0M360.6 160.7h0M361.4 202.4h0M361.2 216.0h0M360.7 169.1h0M361.8 232.0h0M362.2 205.3h0M361.7 237.9h0M362.0 211.6h0M361.5 210.6h0M361.9 174.3h0M361.8 195.3h0M362.0 199.8h0M362.4 184.4h0M361.7 211.6h0M362.9 256.6h0M363.1 239.5h0M362.9 230.8h0M362.5 271.0h0M362.8 175.3h0M363.1 218.0h0M363.3 259.5h0M363.2 176.4h0M362.9 255.2h0M362.6 218.6h0M364.0 245.4h0M363.9 288.6h0M363.7 243.9h0M364.0 264.8h0M364.0 349.3h0M363.7 239.2h0M364.3 222.6h0M364.3 234.2h0M364.2 208.5h0M363.9 220.1h0M364.6 232.1h0M365.1 222.7h0M364.6 252.0h0M364.7 236.9h0M364.8 225.0h0M364.8 244.1h0M364.9 239.8h0M364.7 230.9h0M364.8 230.0h0M365.5 210.7h0M365.5 166.9h0M365.9 288.5h0M365.6 204.5h0M365.9 249.5h0M366.3 270.5h0M366.4 285.5h0M366.2 225.1h0M365.7 260.5h0M366.4 223.9h0M366.5 304.4h0M367.1 300.5h0M366.6 237.7h0M367.2 289.4h0M367.2 343.0h0M366.5 244.5h0M366.8 299.5h0M367.2 273.1h0M367.0 228.3h0M366.5 312.3h0M367.9 250.3h0M367.9 297.6h0M368.0 306.5h0M367.9 269.6h0M368.5 250.7h0M367.9 205.3h0M367.8 306.5h0M368.4 288.8h0M367.9 270.5h0M368.0 293.8h0M369.4 297.0h0M368.9 327.8h0M368.9 265.1h0M369.2 330.7h0M369.4 277.4h0M368.5 330.2h0M368.6 300.9h0M368.7 285.2h0M368.6 267.8h0M369.3 288.3h0M369.8 300.2h0M370.2 290.2h0M370.4 252.6h0M369.6 261.8h0M370.2 293.4h0M370.0 275.4h0M369.9 276.7h0M369.8 273.6h0M369.6 257.6h0M369.6 293.8h0M371.0 261.9h0M371.4 323.3h0M370.8 290.4h0M371.1 347.6h0M371.3 297.3h0M370.6 319.3h0M371.1 321.7h0M370.6 326.3h0M372.1 337.3h0M372.5 304.5h0M371.9 283.2h0M372.2 255.6h0M372.1 330.4h0M372.5 312.1h0M372.2 267.1h0M372.4 334.1h0M372.3 283.4h0M372.8 318.8h0M373.3 207.6h0M372.7 281.2h0M372.8 290.8h0M372.7 318.5h0M372.8 295.3h0M372.9 302.0h0M372.5 297.5h0M373.5 299.7h0M373.8 341.0h0M374.1 326.3h0M373.7 329.8h0M374.5 283.1h0M374.3 305.9h0M374.0 338.4h0M373.8 332.4h0M373.7 220.4h0M374.1 273.5h0M375.4 246.6h0M375.4 275.6h0M374.6 274.2h0M375.1 180.4h0M375.4 235.2h0M375.3 298.8h0M374.6 307.6h0M375.2 253.2h0M374.6 266.6h0M375.4 306.8h0M375.9 261.8h0M376.5 266.0h0M375.6 321.6h0M375.9 289.2h0M375.9 296.2h0M375.7 248.7h0M376.0 262.2h0M375.8 238.0h0M376.5 275.4h0M375.6 288.4h0M376.9 235.9h0M377.3 209.3h0M377.1 258.6h0M377.1 289.5h0M377.0 247.7h0M376.6 279.7h0M377.3 303.6h0M377.4 331.7h0M377.3 305.8h0M376.8 228.4h0M378.3 265.5h0M377.9 308.4h0M378.3 237.5h0M378.4 297.1h0M378.4 271.2h0M378.0 266.7h0M378.2 251.7h0M378.1 246.0h0M378.2 313.9h0M378.4 266.4h0M379.3 233.9h0M378.7 226.3h0M378.7 202.6h0M378.8 254.9h0M379.5 298.7h0M379.0 255.0h0M378.8 292.6h0M379.3 322.0h0M378.5 205.5h0M378.7 267.5h0M379.9 268.4h0M379.8 254.8h0M379.6 249.4h0M379.6 204.5h0M380.0 282.2h0M379.7 186.1h0M380.3 318.0h0M380.3 258.0h0M380.3 203.1h0M380.5 223.5h0M381.3 230.1h0M381.2 330.7h0M381.1 255.6h0M380.6 324.3h0M381.4 243.6h0M380.6 195.9h0M381.3 275.3h0M381.3 269.5h0M381.3 277.1h0M381.4 272.4h0M381.6 321.5h0M381.6 278.7h0M382.2 214.3h0M381.5 272.4h0M381.7 237.7h0M382.0 181.0h0M381.6 249.5h0M382.2 276.6h0M381.8 282.0h0M382.0 228.4h0M383.4 198.9h0M383.4 262.7h0M382.8 211.9h0M382.7 251.9h0M383.5 217.5h0M383.4 288.5h0M382.6 246.7h0M383.2 198.2h0M383.0 226.7h0M383.4 270.5h0M384.4 264.0h0M384.4 243.4h0M384.4 255.2h0M384.3 248.1h0M383.9 269.6h0M384.0 296.9h0M383.7 247.9h0M384.5 238.4h0M383.9 206.2h0M384.4 207.8h0M384.9 279.3h0M385.1 261.7h0M385.5 232.0h0M384.7 291.6h0M385.1 231.4h0M384.8 257.5h0M384.9 240.7h0M384.6 242.1h0M384.8 276.9h0M385.3 235.7h0M386.0 255.6h0M386.2 250.5h0M385.9 264.0h0M385.6 228.3h0M386.2 277.3h0M385.5 262.3h0M386.1 229.7h0M385.7 252.7h0M386.3 240.8h0M386.3 224.7h0M387.2 231.5h0M387.5 235.2h0M387.0 283.0h0M386.7 272.8h0M386.5 279.3h0M387.2 215.9h0M386.7 225.4h0M386.8 324.3h0M387.1 295.5h0M387.5 243.3h0M388.4 223.4h0M388.3 238.9h0M387.7 179.4h0M388.0 233.3h0M388.3 244.5h0M387.8 245.6h0M388.3 182.4h0M388.2 261.6h0M388.0 243.3h0M387.8 230.2h0M388.6 241.4h0M388.7 191.5h0M388.6 259.2h0M388.8 255.6h0M388.8 284.2h0M389.2 232.5h0M389.1 313.4h0M388.5 227.3h0M388.8 200.8h0M388.5 292.0h0M389.8 263.6h0M389.7 234.4h0M389.9 254.5h0M390.1 264.8h0M389.8 252.1h0M389.8 179.7h0M390.3 224.9h0M389.6 252.2h0M390.1 298.6h0M389.5 206.3h0M390.7 258.6h0M391.0 212.0h0M390.7 140.4h0M390.7 311.6h0M390.5 257.1h0M391.0 256.1h0M391.3 212.5h0M390.6 213.3h0M391.3 268.8h0M390.9 229.6h0M391.8 288.4h0M392.0 227.6h0M391.6 258.1h0M392.1 207.4h0M392.5 254.7h0M391.8 180.4h0M391.9 360.7h0M391.9 277.4h0M392.0 228.7h0M391.5 279.2h0M392.6 225.9h0M393.5 207.7h0M393.5 236.4h0M393.1 210.4h0M393.4 211.8h0M392.8 221.4h0M393.4 262.0h0M393.5 254.3h0M392.7 279.0h0M393.1 225.5h0M393.9 302.7h0M393.6 268.2h0M393.6 293.1h0M393.5 190.5h0M394.0 269.8h0M394.3 277.0h0M394.4 247.9h0M394.0 286.8h0M394.1 198.7h0M394.5 247.9h0M394.5 245.3h0M394.9 265.1h0M395.4 285.6h0M395.2 206.8h0M394.8 269.1h0M395.1 316.4h0M394.7 274.2h0M395.5 214.7h0M394.7 244.2h0M395.1 182.7h0M396.0 292.0h0M396.2 238.4h0M396.0 234.1h0M395.9 248.6h0M395.9 238.8h0M395.9 276.6h0M396.5 303.1h0M395.9 259.0h0M396.1 254.9h0M396.4 264.8h0M396.8 252.8h0M397.4 275.1h0M396.7 242.7h0M397.0 216.5h0M396.7 326.0h0M396.6 220.3h0M397.5 235.1h0M396.6 263.5h0M396.6 231.3h0M397.4 215.9h0M398.1 238.7h0M397.7 235.3h0M398.2 264.1h0M398.1 287.7h0M397.9 296.0h0M397.8 338.6h0M398.5 251.6h0M397.9 246.7h0M398.1 275.6h0M398.1 263.5h0M398.8 315.0h0M398.8 244.3h0M398.8 285.2h0M398.9 297.3h0M398.7 275.5h0M398.8 277.1h0M399.3 238.0h0M399.3 270.9h0M398.9 261.2h0M399.9 305.6h0M399.9 349.6h0M400.0 268.7h0M399.8 296.5h0M400.0 257.3h0M399.6 237.5h0M399.7 225.8h0M399.7 256.4h0M399.8 276.9h0M400.2 188.5h0M401.2 283.5h0M400.8 270.1h0M401.3 249.3h0M401.5 284.0h0M400.8 288.7h0M401.3 263.9h0M401.2 285.6h0M400.6 251.4h0M401.3 248.0h0M400.8 235.8h0M401.6 346.1h0M401.8 278.4h0M401.9 267.6h0M402.1 301.0h0M402.0 277.8h0M401.7 258.1h0M402.0 229.4h0M402.4 254.6h0M401.5 314.9h0M401.6 272.2h0M403.3 256.0h0M403.2 328.1h0M403.2 247.3h0M403.2 279.2h0M402.6 257.7h0M402.9 278.2h0M403.1 273.3h0M402.8 250.3h0M403.4 276.4h0M403.3 238.6h0M403.6 323.1h0M403.8 308.2h0M404.0 259.6h0M404.3 194.5h0M403.8 274.7h0M403.9 232.7h0M403.7 190.3h0M403.8 285.4h0M404.0 311.2h0M404.2 256.5h0M405.4 235.0h0M404.8 259.5h0M405.3 294.2h0M405.5 287.3h0M405.3 245.9h0M404.9 264.2h0M404.6 298.7h0M405.2 294.6h0M405.3 293.1h0M404.5 270.0h0M406.3 235.6h0M405.7 268.6h0M406.4 236.8h0M405.8 328.3h0M406.3 253.9h0M405.9 257.6h0M406.1 231.8h0M406.2 282.1h0M407.3 257.3h0M407.3 322.5h0M407.5 306.8h0M406.6 284.9h0M406.8 270.9h0M407.4 286.1h0M407.1 267.2h0M406.8 357.8h0M407.5 288.9h0M406.6 271.2h0M407.6 338.6h0M408.5 270.1h0M407.7 276.0h0M408.0 286.8h0M408.2 257.8h0M408.2 252.9h0M408.2 254.8h0M407.5 284.0h0M408.1 317.6h0M408.4 201.9h0M409.0 266.7h0M409.5 321.2h0M408.5 254.1h0M408.6 336.4h0M408.8 254.2h0M408.7 327.2h0M409.1 337.5h0M409.2 313.0h0M409.4 206.1h0M409.8 292.3h0M410.1 261.5h0M409.8 238.9h0M409.5 292.7h0M409.9 262.1h0M409.7 257.7h0M410.4 257.4h0M410.2 275.2h0M410.5 283.8h0M411.0 253.5h0M411.0 275.8h0M411.3 226.7h0M411.1 298.4h0M410.5 324.3h0M411.1 293.1h0M410.7 253.0h0M411.1 277.4h0M411.2 263.6h0M411.8 334.2h0M411.7 223.1h0M412.3 256.3h0M411.9 264.9h0M412.1 284.4h0M412.2 271.2h0M411.7 288.2h0M411.8 259.1h0M411.7 255.0h0M412.3 238.9h0M412.6 165.5h0M412.6 293.7h0M413.2 285.0h0M413.3 285.9h0M413.0 222.1h0M412.7 242.0h0M413.0 325.6h0M412.8 256.6h0M413.1 257.8h0M413.5 301.0h0M414.4 225.1h0M413.7 215.8h0M414.5 243.0h0M414.2 309.8h0M414.4 272.8h0M413.5 255.4h0M413.5 244.6h0M414.4 240.9h0M414.5 230.9h0M413.8 218.0h0M414.5 231.3h0M415.0 305.3h0M414.8 260.5h0M415.3 239.3h0M415.0 184.4h0M415.4 309.7h0M415.2 258.7h0M415.3 260.5h0M415.1 244.6h0M415.0 316.0h0M415.8 320.9h0M416.4 305.1h0M415.5 284.8h0M416.3 300.2h0M416.3 259.2h0M416.3 248.2h0M416.0 256.5h0M415.8 238.8h0M416.5 252.7h0M416.1 199.0h0M417.3 264.0h0M417.3 241.3h0M416.8 254.9h0M416.9 243.9h0M417.5 234.4h0M417.3 217.0h0M416.9 219.3h0M416.8 162.4h0M417.2 218.8h0M416.6 265.9h0M417.8 284.5h0M418.2 264.5h0M417.7 274.5h0M417.7 214.0h0M417.9 275.0h0M418.1 322.1h0M417.7 234.2h0M417.8 241.2h0M418.0 189.9h0M418.1 213.7h0M418.9 287.4h0M418.6 234.2h0M418.7 245.6h0M419.0 242.0h0M418.8 239.2h0M418.8 240.5h0M418.8 225.8h0M418.5 273.8h0M419.2 256.7h0M419.4 236.0h0M419.7 253.5h0M420.0 225.3h0M419.6 210.2h0M420.1 191.9h0M419.9 284.8h0M420.4 239.6h0M419.6 256.2h0M419.7 274.1h0M420.3 163.3h0M419.8 277.2h0M421.2 218.5h0M421.3 233.3h0M420.6 209.3h0M421.0 184.4h0M421.3 212.7h0M420.7 225.3h0M420.6 258.8h0M420.6 208.4h0M421.1 237.8h0M421.1 229.9h0M421.6 227.3h0M422.0 255.6h0M422.4 195.9h0M422.3 265.3h0M422.3 213.5h0M422.5 184.3h0M422.3 199.4h0M421.7 205.7h0M421.7 183.0h0M422.2 223.3h0M423.5 243.7h0M423.2 199.5h0M423.4 210.2h0M423.0 220.3h0M422.8 208.9h0M422.7 218.4h0M422.8 196.5h0M422.6 213.8h0M423.1 227.0h0M422.8 258.5h0M424.0 233.8h0M423.7 212.1h0M423.9 236.7h0M424.1 219.2h0M424.1 219.7h0M423.5 183.9h0M424.0 247.2h0M423.9 240.8h0M423.8 191.6h0M424.4 222.2h0M424.8 218.7h0M424.7 204.8h0M424.6 215.3h0M425.3 175.1h0M425.4 215.6h0M425.4 184.7h0M424.8 200.5h0M424.7 207.3h0M425.1 235.0h0M425.0 228.7h0M425.8 196.9h0M426.1 162.1h0M426.5 247.7h0M425.7 219.3h0M425.6 185.5h0M426.0 192.6h0M426.2 189.3h0M426.4 277.7h0M426.5 185.6h0M425.8 234.4h0M427.4 149.6h0M427.4 197.1h0M426.6 168.0h0M426.7 197.4h0M427.5 192.2h0M427.3 194.0h0M427.4 211.0h0M426.5 191.9h0M426.6 223.4h0M427.2 196.4h0M428.0 222.3h0M427.9 215.2h0M428.3 210.7h0M427.6 206.2h0M428.1 305.0h0M427.6 185.1h0M428.3 227.9h0M427.6 197.7h0M427.6 150.8h0M427.5 172.5h0M429.5 189.6h0M428.6 278.9h0M429.4 191.5h0M429.1 191.7h0M429.3 205.8h0M429.2 204.5h0M428.6 203.8h0M428.9 167.3h0M429.1 160.8h0M428.9 180.1h0M430.1 192.8h0M430.1 182.3h0M430.0 239.8h0M429.8 195.4h0M430.3 180.1h0M429.8 181.1h0M430.0 193.8h0M429.9 170.4h0M430.3 218.8h0M429.6 183.2h0M430.5 177.2h0M430.9 162.2h0M430.7 197.3h0M431.1 161.8h0M430.7 220.8h0M431.1 199.5h0M431.1 150.1h0M430.8 194.4h0M431.4 208.2h0M430.7 189.9h0M432.0 223.6h0M431.6 174.5h0M432.2 177.7h0M431.5 170.5h0M432.3 210.6h0M432.4 193.8h0M431.7 260.0h0M432.1 160.1h0M431.6 195.5h0M431.6 160.7h0M433.2 220.3h0M433.5 214.7h0M433.4 183.5h0M432.8 186.7h0M433.0 177.9h0M433.4 154.1h0M432.6 117.2h0M433.0 181.1h0M433.2 221.7h0M433.4 191.6h0M433.8 186.1h0M433.8 175.3h0M434.2 211.3h0M434.2 218.9h0M433.8 206.9h0M433.8 234.9h0M434.0 198.1h0M434.2 186.2h0M434.0 174.8h0M434.2 195.0h0M434.8 161.7h0M435.2 190.5h0M434.9 220.6h0M434.5 223.6h0M435.4 246.5h0M434.8 268.4h0M435.2 198.3h0M435.3 185.4h0M435.3 199.1h0M434.9 223.1h0M436.4 160.3h0M436.4 205.8h0M435.9 162.7h0M435.8 197.0h0M436.2 251.0h0M436.5 188.2h0M436.0 197.9h0M436.0 215.8h0M436.3 196.1h0M435.6 299.1h0M437.4 243.6h0M436.9 197.8h0M437.1 243.1h0M436.8 175.3h0M437.3 201.2h0M436.6 193.2h0M436.9 221.9h0M437.1 205.9h0M437.1 248.5h0M437.5 273.5h0M438.3 206.7h0M438.3 171.3h0M438.1 233.2h0M437.8 250.1h0M438.3 225.2h0M437.6 210.9h0M437.6 188.8h0M438.4 236.4h0M438.1 165.8h0M437.8 228.3h0M439.0 240.1h0M439.3 248.4h0M438.6 280.7h0M438.5 291.3h0M438.6 188.4h0M438.9 241.6h0M438.9 210.9h0M438.7 281.9h0M439.0 220.7h0M439.2 216.9h0M440.4 214.3h0M440.0 238.5h0M440.2 225.2h0M440.0 211.1h0M440.2 215.3h0M439.6 230.7h0M439.7 216.2h0M440.4 214.6h0M439.7 251.7h0M440.1 261.3h0M441.3 188.5h0M441.2 253.4h0M440.6 257.8h0M441.1 229.7h0M441.3 210.7h0M441.0 255.0h0M440.7 223.6h0M441.5 215.4h0M441.4 244.4h0M440.6 244.6h0M442.4 212.0h0M441.9 225.8h0M442.0 284.6h0M442.1 315.0h0M441.8 234.3h0M441.7 335.2h0M442.1 271.9h0M442.0 271.5h0M441.7 227.0h0M441.7 327.0h0M442.5 237.8h0M442.6 219.1h0M443.4 225.2h0M443.0 237.9h0M443.4 236.8h0M442.7 279.9h0M443.3 224.1h0M442.7 227.8h0M443.2 243.2h0M442.5 243.0h0M444.2 327.4h0M444.0 247.9h0M444.5 256.6h0M444.3 245.5h0M443.7 282.9h0M443.7 280.1h0M443.7 199.8h0M444.5 226.3h0M444.2 293.2h0M444.3 223.6h0M444.8 232.3h0M445.2 272.5h0M444.9 208.4h0M445.2 258.9h0M444.5 247.2h0M444.6 344.8h0M444.7 284.2h0M445.3 205.3h0M445.1 291.5h0M446.0 226.6h0M446.2 255.7h0M446.2 253.2h0M445.9 221.8h0M445.6 296.2h0M445.7 194.1h0M446.3 259.5h0M445.8 239.5h0M446.2 233.3h0M445.9 306.5h0M446.7 238.8h0M447.2 220.9h0M446.5 252.9h0M447.5 273.5h0M446.6 278.0h0M447.0 288.0h0M446.8 255.5h0M447.4 261.0h0M446.7 271.0h0M447.1 263.9h0M448.0 234.0h0M448.4 178.1h0M447.7 226.0h0M447.6 199.5h0M447.8 261.7h0M448.2 197.2h0M447.8 204.9h0M448.0 274.9h0M447.7 260.8h0M448.3 285.8h0M448.9 346.3h0M448.7 245.9h0M449.3 225.2h0M448.6 228.2h0M448.6 210.9h0M449.0 308.7h0M449.3 272.8h0M449.1 204.8h0M448.7 233.8h0M449.1 244.0h0M450.3 219.2h0M450.3 205.6h0M450.1 208.7h0M450.2 195.1h0M449.6 221.0h0M450.1 212.0h0M450.2 191.9h0M450.2 218.5h0M450.0 203.5h0M449.7 211.7h0M451.4 230.2h0M450.8 186.6h0M450.5 199.5h0M451.0 198.9h0M451.2 232.7h0M450.6 183.9h0M451.4 192.8h0M451.4 165.1h0M451.3 214.1h0M451.0 155.7h0M452.3 268.6h0M452.2 181.5h0M451.9 183.3h0M451.8 196.6h0M452.3 176.6h0M452.1 157.6h0M451.5 216.4h0M452.0 193.1h0M451.8 271.8h0M452.3 206.9h0M452.8 162.6h0M453.5 196.1h0M453.2 199.2h0M452.6 189.4h0M452.7 177.8h0M453.2 171.7h0M453.0 203.1h0M453.1 135.2h0M452.8 172.7h0M453.1 215.5h0M453.7 182.4h0M453.9 174.3h0M454.4 170.1h0M453.8 145.4h0M454.5 109.0h0M453.8 243.1h0M453.8 165.5h0M454.4 219.2h0M453.7 187.6h0M454.3 151.2h0M455.1 176.1h0M454.6 145.4h0M454.8 142.9h0M455.0 180.8h0M455.4 164.3h0M454.6 192.3h0M455.4 143.7h0M455.4 261.0h0M455.5 179.2h0M455.0 173.7h0M455.8 160.5h0M455.6 156.5h0M455.6 193.4h0M456.4 182.7h0M456.3 148.1h0M456.3 151.2h0M455.5 179.4h0M456.3 204.8h0M455.6 197.1h0M456.2 185.5h0M457.0 177.7h0M457.2 130.0h0M456.6 168.5h0M457.1 140.4h0M457.3 154.6h0M456.7 183.1h0M457.0 155.2h0M457.0 148.6h0M457.1 135.2h0M457.4 155.9h0M458.3 172.3h0M457.8 165.3h0M458.0 185.1h0M457.9 154.5h0M458.4 127.0h0M457.9 105.6h0M458.3 174.0h0M457.9 181.7h0M458.0 213.9h0M458.3 133.0h0M458.9 155.9h0M458.7 167.6h0M458.6 134.9h0M459.2 156.7h0M458.5 154.1h0M458.8 121.1h0M459.2 175.3h0M459.0 145.6h0M458.8 161.4h0M459.1 148.9h0M460.5 166.0h0M459.7 125.6h0M459.5 158.1h0M459.7 157.9h0M460.3 156.5h0M459.6 146.2h0M460.3 151.5h0M460.3 128.9h0M459.5 145.1h0M460.3 129.6h0M460.8 161.2h0M460.7 113.3h0M460.5 144.5h0M461.2 197.5h0M460.7 131.3h0M460.5 115.3h0M461.4 123.3h0M461.4 139.0h0M461.0 137.8h0M461.0 144.6h0M461.8 145.1h0M462.2 167.8h0M462.0 168.5h0M462.2 167.9h0M461.9 165.3h0M462.2 137.0h0M461.6 118.7h0M462.2 178.4h0M462.1 211.2h0M462.1 184.9h0M462.7 134.1h0M463.2 118.1h0M463.0 105.4h0M462.6 98.6h0M462.5 131.2h0M462.9 137.6h0M463.4 114.5h0M462.6 137.8h0M463.4 140.9h0M462.7 149.5h0M464.2 81.0h0M463.9 115.7h0M463.5 147.2h0M464.3 137.6h0M463.8 134.2h0M463.6 137.1h0M463.9 124.4h0M464.5 138.0h0M463.7 105.3h0M464.3 125.6h0M465.0 160.1h0M465.1 131.4h0M464.9 122.5h0M464.6 150.4h0M465.5 111.5h0M465.3 132.4h0M464.9 147.8h0M464.5 157.7h0M464.7 135.2h0M465.4 131.0h0M466.5 97.7h0M466.4 114.8h0M466.4 135.8h0M466.3 113.2h0M465.6 117.6h0M465.7 120.6h0M466.5 148.5h0M466.2 101.9h0M465.9 136.9h0M465.8 137.3h0M467.4 144.4h0M467.4 108.9h0M467.2 130.9h0M466.8 167.8h0M466.5 118.1h0M467.0 190.1h0M467.5 168.1h0M467.0 121.8h0M466.7 91.7h0M467.4 134.2h0M468.2 140.7h0M467.6 142.6h0M468.5 139.5h0M467.6 152.6h0M467.7 110.4h0M467.5 90.0h0M468.1 127.2h0M467.9 130.3h0M467.8 107.9h0M468.3 175.1h0M469.0 132.1h0M468.7 122.8h0M469.0 162.7h0M468.9 119.8h0M468.6 114.5h0M469.4 126.3h0M468.7 136.7h0M468.8 127.8h0M468.8 148.7h0M468.8 130.4h0M469.6 184.6h0M470.3 104.0h0M470.0 134.8h0M470.2 134.1h0M469.6 159.6h0M470.3 140.3h0M470.5 155.0h0M469.7 147.6h0M470.1 129.1h0M469.8 99.3h0M471.4 117.7h0M471.2 125.4h0M471.3 159.9h0M471.1 129.9h0M471.3 152.3h0M470.6 163.8h0M471.4 160.4h0M471.2 119.4h0M470.7 124.8h0M470.6 112.0h0M471.8 139.2h0M472.2 101.9h0M471.9 113.3h0M472.3 134.0h0M471.8 124.7h0M472.2 126.8h0M471.8 136.3h0M472.3 104.4h0M471.6 108.0h0M471.9 128.8h0M473.0 142.2h0M473.2 136.3h0M472.9 136.8h0M472.5 123.9h0M473.0 121.3h0M472.5 142.4h0M473.4 113.8h0M473.0 100.7h0M473.1 102.0h0M472.6 78.6h0M473.8 139.9h0M474.3 91.3h0M474.0 153.3h0M474.1 133.8h0M473.8 119.8h0M474.2 100.5h0M473.9 98.8h0M473.8 124.6h0M473.9 164.2h0M474.0 183.8h0M474.9 109.9h0M474.6 180.3h0M475.1 132.9h0M474.8 125.4h0M474.7 119.7h0M475.2 141.0h0M475.3 156.1h0M475.0 141.7h0M475.4 128.1h0M475.2 114.7h0M476.3 108.2h0M475.9 126.7h0M476.2 142.1h0M476.4 125.8h0M475.8 101.3h0M476.5 148.0h0M475.7 112.5h0M476.2 129.3h0M475.6 131.7h0M475.6 130.2h0M476.9 195.0h0M476.9 109.4h0M476.6 163.8h0M476.6 105.0h0M477.4 122.6h0M477.1 117.3h0M477.2 121.0h0M477.2 144.8h0M477.1 111.3h0M477.5 146.0h0M477.7 102.8h0M477.8 134.7h0M478.5 131.1h0M477.9 104.4h0M478.5 110.3h0M478.4 82.7h0M478.0 140.2h0M477.9 122.6h0M478.5 124.2h0M477.9 120.2h0M479.2 113.2h0M479.3 124.1h0M479.0 128.1h0M479.0 108.9h0M479.2 103.7h0M478.9 162.6h0M478.9 165.9h0M478.9 114.3h0M478.9 155.6h0M479.4 127.5h0M480.4 151.1h0M480.2 125.1h0M479.9 144.2h0M480.2 105.5h0M480.0 115.6h0M480.0 184.3h0M480.1 169.0h0M480.3 121.5h0M480.1 124.6h0M480.2 115.1h0M481.3 102.0h0M480.8 94.1h0M481.4 114.3h0M481.4 109.8h0M481.5 125.6h0M480.9 103.9h0M480.9 106.6h0M480.6 192.4h0M481.3 121.8h0M481.3 113.5h0M481.9 132.5h0M482.4 153.2h0M481.9 131.3h0M481.9 131.3h0M481.7 125.1h0M482.2 142.3h0M482.2 126.9h0M482.3 134.4h0M482.1 82.6h0M481.5 121.5h0M483.1 164.5h0M483.1 119.5h0M483.1 112.8h0M482.6 113.0h0M482.8 141.2h0M482.8 135.3h0M483.4 133.5h0M483.1 150.8h0M483.2 156.4h0M483.2 141.6h0M483.5 200.3h0M484.2 155.8h0M483.9 152.3h0M484.4 156.2h0M484.3 115.0h0M484.2 131.8h0M483.9 130.9h0M484.2 203.7h0M483.8 130.9h0M483.9 150.7h0M484.7 138.6h0M485.3 168.0h0M485.0 131.1h0M484.7 126.0h0M484.8 170.8h0M485.3 127.4h0M485.0 110.4h0M484.6 152.6h0M484.7 133.3h0M484.6 176.0h0M486.0 141.1h0M485.8 124.2h0M486.1 175.8h0M486.0 139.7h0M485.6 148.0h0M485.6 134.1h0M486.0 85.9h0M486.4 177.8h0M486.0 123.4h0M486.2 168.1h0M486.8 133.4h0M486.5 141.6h0M486.9 167.6h0M487.2 127.4h0M487.1 182.3h0M486.7 162.0h0M486.7 159.5h0M487.0 162.2h0M487.0 142.0h0M486.6 149.4h0M487.7 166.9h0M487.7 189.3h0M488.4 204.3h0M487.6 194.4h0M488.3 167.3h0M488.2 148.9h0M488.4 129.0h0M488.3 168.3h0M487.8 159.7h0M488.4 169.8h0M488.9 164.0h0M488.6 145.0h0M488.8 95.2h0M488.8 186.0h0M489.4 170.1h0M488.8 124.6h0M488.9 97.1h0M489.4 150.4h0M489.2 159.5h0M489.2 157.8h0M489.7 187.7h0M489.6 183.0h0M489.9 181.2h0M489.7 148.2h0M490.1 191.6h0M489.5 148.4h0M490.2 188.8h0M490.1 117.0h0M489.6 158.3h0M489.7 153.9h0M490.8 163.6h0M491.0 212.3h0M490.8 163.3h0M491.4 134.4h0M491.2 185.6h0M491.2 175.1h0M491.1 147.9h0M491.3 216.9h0M490.9 216.7h0M491.1 167.6h0M492.4 199.4h0M491.7 210.3h0M492.2 238.4h0M492.2 121.6h0M492.3 198.5h0M492.2 140.2h0M491.9 162.2h0M492.0 184.0h0M492.0 173.0h0M492.4 165.1h0M493.1 195.9h0M493.0 229.9h0M492.7 192.8h0M492.7 157.7h0M493.4 159.0h0M492.9 181.9h0M492.6 153.0h0M493.0 183.4h0M492.6 178.7h0M492.8 166.9h0M493.8 180.7h0M494.3 154.7h0M494.1 202.2h0M493.6 223.1h0M493.6 201.6h0M494.1 180.3h0M493.6 160.7h0M494.3 228.1h0M493.7 191.5h0M493.8 170.6h0M495.5 176.8h0M495.0 150.3h0M494.6 170.0h0M495.2 216.7h0M494.7 169.8h0M495.2 144.7h0M494.7 193.0h0M495.4 170.7h0M495.5 228.6h0M495.3 177.2h0M496.0 192.5h0M496.4 168.5h0M496.0 193.6h0M495.5 199.9h0M496.1 193.3h0M496.2 164.1h0M495.8 207.5h0M495.6 220.2h0M495.9 236.2h0M496.5 153.0h0M496.9 209.7h0M496.8 172.3h0M497.3 213.6h0M497.1 170.4h0M496.9 182.6h0M497.2 153.5h0M496.6 199.7h0M497.3 183.5h0M496.7 164.7h0M496.6 199.1h0M497.8 188.7h0M497.9 175.1h0M498.2 176.5h0M497.7 209.5h0M498.2 209.3h0M498.1 196.5h0M497.9 181.4h0M498.4 200.7h0M498.4 168.6h0M497.9 175.4h0M499.4 206.3h0M499.4 197.7h0M499.3 179.3h0M499.1 247.5h0M498.7 176.3h0M499.0 124.7h0M498.6 166.5h0M498.8 221.5h0M498.8 173.8h0M498.9 152.1h0M500.3 190.2h0M499.9 172.5h0M499.7 126.8h0M500.3 206.4h0M500.5 176.4h0M499.6 222.1h0M499.6 190.3h0M500.0 215.8h0M499.7 183.2h0M500.5 189.5h0M500.7 181.5h0M501.4 218.1h0M501.1 195.2h0M500.9 235.6h0M501.3 217.3h0M501.3 206.6h0M500.9 254.8h0M501.2 205.5h0M500.9 193.0h0M500.8 224.5h0M501.9 231.3h0M502.5 187.5h0M502.0 214.5h0M502.2 186.5h0M502.0 218.9h0M502.5 191.3h0M501.8 231.8h0M502.3 188.1h0M502.1 216.4h0M502.1 176.2h0M503.3 177.6h0M503.3 324.4h0M503.3 138.6h0M503.4 275.2h0M502.9 250.3h0M503.3 217.6h0M503.0 245.4h0M502.8 207.4h0M502.9 237.3h0M502.6 189.4h0M504.3 201.8h0M503.6 206.3h0M504.4 196.8h0M504.1 230.3h0M504.1 225.1h0M503.8 203.9h0M503.8 247.8h0M503.8 219.6h0M504.3 263.8h0M504.4 215.4h0M505.1 222.6h0M504.9 186.0h0M505.0 190.8h0M505.2 176.4h0M504.9 243.7h0M505.2 231.4h0M504.8 204.4h0M505.1 197.7h0M505.2 250.8h0M505.4 206.0h0M506.2 208.8h0M505.9 162.0h0M505.9 213.7h0M506.4 208.5h0M506.4 244.6h0M505.7 238.3h0M505.7 209.8h0M505.6 183.1h0M506.1 212.0h0M506.4 174.4h0M507.2 194.8h0M506.6 220.0h0M507.2 184.5h0M507.4 227.0h0M506.6 229.4h0M507.5 183.6h0M506.7 201.6h0M507.3 229.3h0M507.5 220.6h0M506.7 309.8h0M507.8 215.7h0M508.3 243.5h0M508.4 266.8h0M508.2 240.5h0M508.5 243.2h0M507.9 217.4h0M507.9 222.6h0M508.0 262.9h0M508.1 220.5h0M508.3 244.6h0M508.9 228.8h0M509.5 276.3h0M509.0 213.2h0M508.9 303.2h0M509.1 186.0h0M508.9 225.7h0M508.9 289.1h0M509.0 246.8h0M509.2 275.8h0M508.5 295.0h0M510.0 299.9h0M509.8 230.8h0M510.3 239.3h0M510.2 181.4h0M510.2 231.1h0M510.4 252.2h0M510.1 281.4h0M510.4 277.5h0M510.3 248.6h0M510.1 217.9h0M510.5 224.0h0M510.8 256.6h0M511.2 285.2h0M511.1 273.1h0M511.3 225.2h0M510.6 310.4h0M511.1 257.0h0M511.5 256.2h0M511.4 287.4h0M511.1 311.9h0M512.2 263.5h0M512.5 251.1h0M511.9 326.6h0M511.7 269.9h0M512.0 278.8h0M511.5 359.6h0M511.9 270.8h0M511.7 307.0h0M512.4 262.6h0M511.9 344.3h0M512.6 326.6h0M513.3 227.9h0M512.7 317.1h0M513.0 323.8h0M513.2 268.8h0M512.6 252.3h0M512.7 288.2h0M513.0 258.8h0M512.6 241.3h0M512.9 317.1h0M513.7 270.5h0M514.4 311.4h0M513.7 252.9h0M513.5 263.6h0M514.2 254.3h0M513.6 312.9h0M514.4 357.0h0M514.4 272.5h0M513.9 285.7h0M513.5 318.3h0M515.1 306.0h0M515.4 342.6h0M514.8 339.9h0M515.2 306.6h0M515.2 357.7h0M514.9 314.0h0M515.1 347.7h0M515.1 325.9h0M514.9 312.1h0M516.0 273.0h0M516.1 238.9h0M516.3 301.2h0M515.9 269.4h0M516.3 330.4h0M516.0 308.5h0M515.9 320.0h0M515.7 329.6h0M517.1 272.7h0M516.7 308.9h0M516.6 283.0h0M517.1 278.7h0M516.7 294.0h0M516.9 315.8h0M517.4 312.1h0M516.8 256.9h0M516.8 341.5h0M517.6 305.3h0M518.2 362.8h0M517.5 344.9h0M517.7 315.2h0M518.3 337.4h0M518.4 318.0h0M518.1 325.3h0M517.9 206.9h0M518.4 332.7h0M517.7 258.4h0M519.3 351.5h0M518.9 303.5h0M518.8 311.8h0M518.8 272.5h0M519.4 340.0h0M519.2 336.2h0M518.8 334.5h0M520.1 329.9h0M519.5 362.3h0M519.5 325.0h0M520.1 328.3h0M520.4 297.9h0M519.7 280.9h0M520.5 325.7h0M520.5 323.5h0M521.0 300.6h0M521.3 253.2h0M521.5 263.7h0M520.8 300.8h0M521.2 266.1h0M521.2 310.5h0M521.1 325.7h0M520.8 290.0h0M521.5 334.1h0M522.0 251.3h0M522.0 285.4h0M521.9 306.5h0M521.8 318.9h0M521.9 346.1h0M521.9 290.9h0M522.0 287.2h0M522.2 298.4h0M522.5 302.0h0M522.8 347.9h0M522.9 305.5h0M523.3 292.9h0M522.7 302.4h0M522.8 310.5h0M522.8 275.2h0M523.1 293.9h0M522.7 298.6h0M522.6 293.0h0M522.8 286.8h0M524.1 247.2h0M523.8 228.4h0M524.0 211.2h0M524.2 261.1h0M524.0 137.4h0M523.8 219.0h0M524.5 227.0h0M523.7 267.4h0M523.9 269.7h0M524.1 304.2h0M525.2 265.1h0M524.5 282.9h0M525.2 224.3h0M524.5 243.6h0M525.0 241.4h0M524.8 232.7h0M525.1 237.9h0M524.8 271.8h0M525.3 271.9h0M524.5 245.7h0M526.4 271.6h0M525.9 252.1h0M525.5 214.1h0M525.5 242.3h0M526.4 300.3h0M526.2 202.6h0M525.8 227.8h0M525.6 263.4h0M526.2 193.3h0M525.6 263.6h0M526.7 272.2h0M526.9 183.1h0M526.8 303.7h0M527.5 200.9h0M527.0 277.1h0M527.4 208.4h0M526.8 229.6h0M526.8 222.3h0M526.6 327.3h0M527.0 232.1h0M528.2 215.9h0M527.7 227.8h0M527.9 230.5h0M528.4 261.1h0M528.4 244.3h0M528.3 278.2h0M527.7 226.6h0M527.7 226.2h0M528.2 203.5h0M527.8 217.4h0M529.2 162.4h0M529.3 252.8h0M529.3 345.0h0M529.0 250.7h0M529.2 213.6h0M529.2 216.7h0M528.9 237.0h0M528.8 173.2h0M528.7 173.0h0M529.1 200.5h0M530.2 197.2h0M529.8 205.1h0M530.3 289.1h0M530.0 212.8h0M530.2 292.2h0M529.9 207.6h0M529.5 186.1h0M529.6 231.0h0M530.4 218.5h0M530.2 184.9h0M530.7 136.1h0M531.0 192.9h0M531.4 191.1h0M530.7 251.5h0M531.4 226.3h0M531.0 206.6h0M531.3 204.4h0M530.7 235.9h0M531.2 240.7h0M531.0 267.4h0M531.9 261.7h0M532.0 215.1h0M531.7 191.4h0M531.6 227.0h0M531.7 189.7h0M532.3 253.0h0M531.9 229.4h0M532.3 256.4h0M532.5 190.2h0M532.2 245.2h0M532.9 181.4h0M533.1 224.3h0M533.0 237.3h0M533.2 249.3h0M533.0 128.0h0M532.7 256.2h0M533.1 193.6h0M532.8 239.1h0M533.3 212.9h0M533.0 254.6h0M534.2 279.6h0M534.4 219.8h0M533.6 277.6h0M533.7 267.0h0M533.6 243.1h0M534.0 206.2h0M534.3 216.7h0M534.0 202.3h0M533.7 220.1h0M534.4 239.2h0M535.1 213.4h0M535.5 204.2h0M535.3 242.0h0M534.5 196.2h0M535.2 267.4h0M535.3 219.3h0M534.8 307.1h0M534.6 223.3h0M534.9 198.6h0M534.7 194.7h0M536.3 249.1h0M536.4 229.6h0M535.8 261.5h0M535.9 179.9h0M535.5 203.6h0M535.6 251.6h0M536.4 237.3h0M535.6 228.2h0M536.1 215.6h0M535.8 256.3h0M536.6 336.2h0M536.7 227.8h0M536.7 224.9h0M537.3 298.5h0M537.5 210.8h0M536.8 221.8h0M537.5 229.6h0M537.1 209.9h0M537.2 220.5h0M536.5 254.2h0M538.4 206.6h0M537.5 273.5h0M537.7 202.8h0M538.1 246.3h0M538.0 251.0h0M538.2 197.6h0M537.9 275.9h0M537.6 241.9h0M537.8 266.8h0M538.2 216.1h0M539.1 279.0h0M538.7 243.8h0M538.9 238.1h0M539.4 274.6h0M538.9 232.8h0M539.2 222.5h0M539.3 282.3h0M538.5 210.6h0M539.4 216.9h0M539.1 282.2h0M540.2 271.9h0M540.2 280.2h0M539.9 215.7h0M540.0 265.2h0M539.6 172.4h0M540.5 248.5h0M540.1 241.6h0M540.0 280.6h0M540.5 274.1h0M539.6 199.6h0M540.8 327.0h0M541.0 288.8h0M540.7 243.4h0M541.5 217.7h0M541.4 243.9h0M541.4 215.3h0M541.0 241.9h0M541.3 296.0h0M541.0 246.0h0M540.7 218.3h0M541.6 287.9h0M542.2 193.6h0M541.9 311.5h0M541.6 248.4h0M541.8 345.2h0M541.9 274.4h0M541.6 232.0h0M541.6 275.7h0M542.0 206.0h0M542.1 251.1h0M543.1 261.7h0M543.0 261.6h0M542.8 269.7h0M543.2 244.4h0M542.9 235.6h0M543.2 307.9h0M543.2 244.3h0M543.0 262.1h0M543.2 291.0h0M543.4 272.3h0M544.1 195.9h0M544.5 185.0h0M544.3 264.0h0M544.1 353.4h0M544.3 289.0h0M543.6 302.0h0M543.8 244.0h0M544.1 237.3h0M544.4 332.8h0M544.1 232.6h0M545.2 286.7h0M545.2 277.4h0M544.9 226.6h0M545.3 296.6h0M544.7 270.0h0M545.4 256.1h0M544.7 311.7h0M544.5 318.8h0M544.9 288.5h0M546.4 339.4h0M546.1 246.4h0M546.2 316.0h0M546.4 275.6h0M545.9 267.8h0M546.1 342.6h0M545.7 220.0h0M545.8 190.4h0M546.4 251.9h0M546.1 232.2h0M546.7 360.3h0M546.5 272.1h0M546.7 323.9h0M546.7 332.8h0M547.5 267.4h0M547.3 274.4h0M547.2 312.8h0M547.2 278.1h0M546.6 241.6h0M547.9 326.0h0M547.8 262.8h0M548.1 290.0h0M547.7 305.7h0M547.8 292.7h0M548.1 325.0h0M548.0 235.4h0M547.6 315.0h0M547.8 283.3h0M548.5 300.8h0M548.5 250.2h0M549.3 332.4h0M549.5 348.1h0M548.5 292.6h0M548.7 287.6h0M549.1 301.9h0M549.3 242.3h0M550.5 268.3h0M549.8 294.7h0M549.8 352.5h0M550.2 324.1h0M549.7 326.5h0M550.2 315.5h0M550.0 279.6h0M549.9 292.0h0M549.7 358.1h0M551.2 285.9h0M550.5 277.1h0M551.2 257.9h0M551.2 210.3h0M551.3 283.8h0M550.7 298.6h0M550.6 292.1h0M551.3 343.0h0M551.4 329.4h0M550.7 345.5h0M551.7 306.6h0M552.3 297.5h0M552.4 363.7h0M551.9 308.3h0M552.2 289.7h0M551.6 330.3h0M552.4 303.5h0M551.8 340.1h0M552.0 324.4h0M552.3 320.9h0M553.0 253.6h0M553.4 273.9h0M553.5 263.5h0M553.3 300.4h0M553.1 319.1h0M552.6 279.6h0M552.7 338.5h0M553.3 288.6h0M553.0 322.2h0M552.9 262.4h0M554.4 267.6h0M554.3 293.7h0M553.7 285.2h0M554.3 314.5h0M554.1 335.4h0M554.3 359.4h0M554.1 240.1h0M554.3 289.5h0M554.1 352.4h0M553.5 315.3h0M554.9 252.7h0M555.4 229.5h0M554.7 279.4h0M555.5 291.4h0M555.0 303.9h0M555.3 269.9h0M554.8 264.0h0M555.1 273.8h0M554.7 259.0h0M554.9 280.8h0M555.7 271.0h0M556.2 207.3h0M556.0 306.3h0M556.0 257.2h0M555.9 236.1h0M555.6 308.9h0M555.8 266.7h0M556.1 301.4h0M556.4 289.9h0M556.3 248.7h0M556.8 218.8h0M557.0 209.3h0M557.5 307.7h0M556.8 257.0h0M557.3 218.2h0M557.4 270.7h0M556.7 257.9h0M556.9 294.3h0M556.5 259.3h0M557.0 262.4h0M558.2 290.8h0M557.5 236.1h0M558.1 241.1h0M558.3 263.9h0M558.0 224.2h0M558.2 232.6h0M557.6 237.8h0M557.8 304.5h0M557.9 240.3h0M557.5 260.6h0M558.9 259.7h0M559.4 239.0h0M559.5 279.2h0M558.9 234.2h0M558.6 228.3h0M558.7 216.7h0M559.4 273.3h0M558.7 245.4h0M559.2 251.7h0M558.6 266.9h0M559.7 236.7h0M559.7 273.6h0M559.9 241.0h0M559.5 244.9h0M559.5 266.5h0M559.8 212.8h0M559.9 244.6h0M559.6 240.6h0M559.8 220.8h0M560.0 211.0h0M561.0 218.0h0M560.7 192.8h0M561.2 203.0h0M560.7 233.5h0M561.0 228.2h0M560.7 191.4h0M560.7 240.0h0M560.9 194.8h0M561.4 195.2h0M560.5 203.6h0M562.4 221.5h0M561.7 149.9h0M561.8 185.4h0M562.4 251.1h0M562.0 218.6h0M561.9 155.3h0M562.0 139.3h0M561.7 170.8h0M562.4 191.9h0M561.9 133.5h0M563.2 139.7h0M563.4 177.9h0M562.9 117.3h0M562.7 164.7h0M562.8 173.8h0M562.6 175.7h0M563.1 162.9h0M563.1 181.9h0M562.9 164.5h0M563.3 180.7h0M564.2 166.8h0M564.2 193.6h0M564.4 163.4h0M563.7 176.2h0M564.2 151.3h0M563.9 161.4h0M563.8 156.8h0M563.8 166.4h0M564.1 154.6h0M564.3 179.5h0M565.2 155.0h0M564.5 156.7h0M564.7 149.1h0M564.8 127.9h0M565.4 141.0h0M565.4 191.8h0M565.4 184.9h0M565.2 157.5h0M564.6 178.5h0M564.8 154.4h0M566.5 124.8h0M565.6 187.6h0M565.6 161.1h0M565.9 225.0h0M566.0 154.7h0M566.0 166.4h0M566.5 184.9h0M566.3 167.4h0M565.6 186.2h0M566.2 213.5h0M566.6 160.7h0M566.6 149.3h0M567.3 165.6h0M566.7 180.4h0M566.6 136.4h0M567.3 157.3h0M566.9 146.5h0M566.8 166.2h0M567.1 140.8h0M567.2 156.4h0M567.6 145.0h0M568.2 173.9h0M567.7 144.9h0M568.0 174.9h0M567.5 158.4h0M568.1 174.6h0M568.0 145.8h0M568.5 126.9h0M567.7 110.9h0M567.6 120.8h0M568.6 168.6h0M568.9 179.3h0M569.4 145.3h0M568.9 149.4h0M568.5 150.6h0M569.2 131.1h0M568.9 160.0h0M569.1 224.2h0M569.0 153.1h0M568.9 191.2h0M570.4 152.6h0M570.5 167.5h0M570.0 144.8h0M569.5 164.8h0M570.0 160.0h0M569.8 167.0h0M569.6 164.4h0M570.2 186.3h0M570.0 203.9h0M570.3 136.4h0M570.7 166.4h0M571.4 149.2h0M571.4 140.0h0M570.7 157.2h0M570.5 177.3h0M570.9 162.7h0M571.4 177.8h0M571.0 155.8h0M571.1 132.2h0M570.8 148.3h0M571.5 146.8h0M572.3 133.4h0M572.4 150.8h0M572.1 152.5h0M572.4 186.1h0M572.2 162.2h0M572.1 201.3h0M571.9 187.6h0M571.6 165.5h0M572.0 167.8h0M573.5 163.0h0M572.6 145.0h0M573.1 173.6h0M572.8 186.0h0M572.7 151.8h0M572.6 195.5h0M573.0 166.8h0M572.6 186.1h0M572.9 176.4h0M573.2 195.0h0M573.5 230.9h0M573.8 170.6h0M573.7 223.3h0M573.9 146.7h0M574.4 175.8h0M574.5 164.5h0M573.9 175.8h0M574.0 186.7h0M574.0 157.5h0M573.7 171.7h0M575.0 204.5h0M574.9 204.9h0M574.7 171.2h0M574.8 179.7h0M575.4 182.8h0M575.0 188.4h0M574.6 169.9h0M575.2 164.9h0M574.6 158.3h0M575.1 180.0h0M575.8 155.9h0M575.7 216.5h0M576.0 189.0h0M576.5 131.4h0M576.2 186.1h0M575.9 222.3h0M575.6 172.9h0M575.7 157.0h0M576.1 227.4h0M576.1 161.6h0M577.1 165.8h0M577.1 242.2h0M577.3 126.8h0M577.1 173.5h0M576.8 179.5h0M577.5 189.8h0M577.4 204.9h0M576.8 266.7h0M577.1 189.6h0M577.0 202.7h0M577.8 137.7h0M578.2 212.3h0M578.3 198.8h0M578.5 204.4h0M578.3 299.3h0M577.5 243.3h0M578.3 229.0h0M578.0 176.5h0M577.7 173.5h0M577.7 189.6h0M578.6 194.1h0M579.0 191.8h0M579.4 251.7h0M579.5 185.2h0M579.2 238.2h0M578.5 194.2h0M578.6 238.0h0M578.8 177.3h0M578.5 193.4h0M579.4 214.0h0M580.5 194.4h0M580.0 192.9h0M580.1 173.9h0M579.5 209.2h0M579.7 242.5h0M580.5 232.5h0M580.3 221.1h0M580.4 191.6h0M579.8 207.9h0M580.2 240.2h0M581.5 189.5h0M581.1 233.7h0M581.4 241.0h0M580.9 204.7h0M580.8 235.9h0M580.6 210.3h0M581.4 258.3h0M581.0 232.2h0M580.8 186.3h0M580.6 234.2h0M582.1 174.1h0M582.4 184.1h0M582.0 161.9h0M581.9 227.7h0M582.2 202.4h0M581.9 194.3h0M581.9 204.5h0M582.1 244.3h0M581.7 164.1h0M582.2 212.4h0M582.5 191.5h0M583.4 219.3h0M583.2 228.5h0M583.4 215.4h0M583.0 103.0h0M582.6 202.9h0M583.1 237.5h0M583.0 316.7h0M582.9 222.6h0M583.5 252.5h0M583.9 285.2h0M583.6 215.2h0M584.1 210.7h0M583.5 237.4h0M583.7 244.9h0M583.8 328.1h0M584.2 198.7h0M583.8 219.4h0M583.6 211.3h0M583.5 272.3h0M585.0 231.5h0M585.2 224.1h0M585.4 252.5h0M584.7 243.6h0M584.8 226.1h0M585.3 258.2h0M584.6 222.7h0M584.7 261.9h0M585.5 233.9h0M584.7 211.0h0M585.8 245.6h0M585.9 225.4h0M585.5 217.0h0M585.7 219.6h0M586.3 348.1h0M585.7 246.2h0M586.1 273.6h0M585.8 205.2h0M586.0 321.2h0M585.6 251.2h0M586.7 228.6h0M587.4 244.7h0M587.2 238.5h0M587.0 232.9h0M586.9 301.6h0M587.2 149.6h0M586.8 254.4h0M587.3 312.9h0M587.4 248.2h0M587.0 259.1h0M588.4 181.9h0M588.2 244.0h0M587.9 275.1h0M588.5 223.5h0M588.3 248.2h0M588.1 279.2h0M587.7 289.2h0M588.1 253.0h0M587.8 248.7h0M589.0 279.8h0M589.1 288.8h0M588.7 293.2h0M589.1 226.9h0M588.7 259.6h0M588.6 317.8h0M588.9 246.2h0M588.6 245.2h0M588.9 241.3h0M590.2 254.6h0M590.3 240.7h0M590.0 346.4h0M589.7 217.1h0M589.9 195.1h0M589.5 278.7h0M590.0 216.6h0M590.4 250.2h0M590.2 263.9h0M590.4 252.6h0M591.4 250.9h0M591.2 240.9h0M591.1 268.1h0M590.8 256.2h0M590.7 199.7h0M591.1 320.3h0M591.2 218.7h0M591.3 259.3h0M590.6 252.3h0M592.3 220.6h0M592.4 211.9h0M591.7 236.7h0M592.3 312.6h0M591.8 226.9h0M592.0 267.9h0M592.3 236.3h0M591.7 221.7h0M592.3 280.3h0M591.7 229.5h0M592.8 232.4h0M593.2 205.0h0M592.5 256.9h0M593.4 181.5h0M593.5 207.9h0M593.3 230.6h0M593.2 288.7h0M592.8 231.3h0M593.1 240.8h0M592.6 271.5h0M594.4 347.7h0M594.2 190.9h0M594.0 276.3h0M593.9 197.0h0M594.0 235.1h0M594.1 171.1h0M594.0 178.0h0M594.2 204.4h0M593.7 255.5h0M593.6 188.4h0M594.9 193.9h0M594.6 232.4h0M595.0 203.9h0M594.7 184.5h0M595.1 165.1h0M594.9 162.4h0M595.1 226.9h0M595.3 242.8h0M595.3 178.9h0M594.8 192.1h0M595.8 192.4h0M595.6 196.4h0M596.3 210.8h0M596.5 195.0h0M596.3 215.7h0M595.6 157.9h0M596.2 208.6h0M596.0 188.2h0M596.1 233.8h0M596.0 211.1h0M597.0 159.0h0M597.3 197.5h0M596.8 185.8h0M597.1 175.7h0M596.6 203.9h0M597.2 219.5h0M596.6 195.9h0M596.5 193.8h0M597.2 205.5h0M596.5 188.4h0M597.8 183.7h0M598.1 170.5h0M598.2 198.6h0M597.8 241.0h0M598.2 176.6h0M598.2 173.0h0M598.1 181.4h0M598.0 172.8h0M598.4 178.6h0M598.1 198.9h0M598.6 172.3h0M598.7 178.0h0M599.4 134.1h0M599.3 155.8h0M598.8 182.9h0M598.7 163.7h0M599.1 152.5h0M599.2 164.4h0M598.6 155.5h0M599.0 162.9h0M599.7 154.5h0M600.0 151.9h0M600.0 206.0h0M599.6 178.2h0M599.7 194.2h0M599.8 207.6h0M599.6 174.8h0M600.4 129.5h0M600.1 177.2h0M599.6 153.7h0M601.3 170.7h0M601.2 184.4h0M601.2 156.4h0M600.9 174.7h0M601.1 130.2h0M601.0 131.4h0M601.3 166.8h0M600.8 190.8h0M601.3 178.2h0M601.4 149.8h0M601.9 180.8h0M602.0 131.1h0M602.5 151.7h0M602.4 171.8h0M602.0 181.5h0M601.6 122.4h0M602.4 135.4h0M601.7 168.9h0M602.2 225.5h0M602.0 173.9h0M602.7 151.1h0M602.9 140.0h0M603.3 187.7h0M603.1 138.1h0M603.1 144.8h0M603.2 169.0h0M603.2 177.1h0M603.1 147.5h0M603.2 125.4h0M602.7 151.9h0M604.5 130.2h0M604.3 144.1h0M604.4 119.9h0M603.8 165.5h0M604.0 141.8h0M604.5 182.3h0M603.7 143.5h0M604.3 152.6h0M604.0 145.8h0M604.0 139.9h0M604.5 179.8h0M605.2 162.1h0M605.4 123.5h0M605.1 149.4h0M604.5 185.3h0M604.8 137.8h0M605.1 178.5h0M605.3 110.7h0M605.3 116.9h0M604.5 184.6h0M605.9 176.0h0M606.2 129.3h0M606.1 146.8h0M606.2 168.5h0M606.1 135.3h0M605.8 139.6h0M606.3 140.0h0M605.8 133.4h0M605.9 176.6h0M605.5 193.3h0M606.8 141.4h0M607.2 145.6h0M607.3 107.3h0M607.2 151.0h0M606.7 136.0h0M606.7 141.3h0M606.6 134.1h0M607.3 157.5h0M606.6 167.3h0M607.5 140.1h0M607.7 141.3h0M607.8 150.3h0M608.3 189.3h0M608.1 146.4h0M607.5 156.6h0M607.8 157.8h0M608.4 172.9h0M608.0 118.3h0M607.7 147.2h0M607.8 146.2h0M608.8 139.4h0M609.4 156.2h0M609.2 171.1h0M609.3 143.1h0M609.5 130.0h0M608.5 125.6h0M609.2 158.0h0M608.8 142.1h0M609.4 155.4h0M609.2 154.1h0M610.5 131.6h0M609.8 131.8h0M609.9 154.3h0M609.6 152.8h0M610.1 123.5h0M610.2 161.1h0M609.7 144.1h0M609.9 131.2h0M610.2 144.6h0M610.3 105.2h0M611.2 127.3h0M610.9 155.9h0M611.1 149.1h0M611.5 116.0h0M611.2 151.3h0M611.2 132.0h0M611.0 124.0h0M611.2 145.1h0M610.7 85.6h0M610.5 139.7h0M612.3 113.8h0M611.9 147.0h0M611.6 139.4h0M611.8 125.6h0M612.2 123.1h0M611.5 157.1h0M611.9 136.5h0M611.6 150.1h0M611.6 120.6h0M611.6 128.4h0M612.6 129.0h0M612.8 135.0h0M613.2 109.1h0M613.1 152.5h0M612.7 149.2h0M613.4 124.6h0M613.0 129.9h0M612.7 151.2h0M613.5 132.7h0M613.1 118.9h0M614.4 107.8h0M614.0 115.3h0M614.2 117.6h0M613.7 123.1h0M614.5 136.4h0M614.1 128.4h0M614.5 172.3h0M614.5 148.4h0M614.5 113.4h0M614.3 102.0h0M615.3 130.6h0M615.5 108.6h0M615.1 127.9h0M614.6 106.9h0M614.8 166.0h0M614.6 130.9h0M614.8 119.9h0M614.7 96.4h0M615.4 146.1h0M614.6 116.5h0M615.7 118.7h0M616.4 152.2h0M616.5 83.5h0M616.4 159.4h0M615.9 126.4h0M616.0 112.5h0M615.7 111.8h0M615.9 163.7h0M615.8 119.3h0M615.7 115.9h0M617.0 114.0h0M616.9 109.5h0M616.6 99.5h0M617.1 104.1h0M617.5 125.1h0M616.5 148.3h0M616.7 114.5h0M617.1 101.0h0M616.5 140.8h0M617.3 122.5h0M617.9 126.1h0M618.1 128.3h0M617.7 149.8h0M617.6 110.6h0M617.9 120.1h0M617.5 159.6h0M617.8 128.1h0M617.6 118.4h0M617.8 94.9h0M617.9 105.7h0M618.9 112.8h0M618.7 122.0h0M618.9 110.7h0M618.5 103.2h0M619.3 123.5h0M619.2 112.4h0M619.2 134.9h0M619.0 84.9h0M619.4 101.7h0M618.9 96.1h0M619.6 124.9h0M620.2 122.4h0M619.7 112.6h0M620.0 137.0h0M620.5 136.3h0M620.4 107.6h0M620.4 122.4h0M619.6 128.6h0M619.6 107.6h0M619.5 153.5h0M621.5 102.5h0M620.8 143.6h0M621.5 111.8h0M621.1 120.1h0M621.5 166.6h0M621.3 117.4h0M621.2 103.2h0M621.5 145.4h0M621.0 107.1h0M620.8 99.2h0M622.0 107.7h0M622.0 85.6h0M622.3 143.7h0M622.2 131.5h0M622.3 133.0h0M622.4 106.2h0M622.4 127.3h0M622.2 134.0h0M621.6 168.3h0M621.7 142.3h0M623.1 113.3h0M623.0 127.0h0M623.0 133.9h0M622.8 145.5h0M622.9 112.5h0M622.9 73.1h0M622.8 133.8h0M622.5 121.6h0M623.1 107.1h0M622.9 125.3h0M624.0 170.2h0M623.8 122.1h0M623.7 94.0h0M623.9 127.7h0M623.6 104.3h0M624.3 122.6h0M624.3 130.9h0M623.8 129.8h0M624.5 79.3h0M624.2 121.5h0M624.6 125.5h0M625.1 141.0h0M625.3 40.1h0M624.9 122.5h0M625.0 133.1h0M625.5 112.1h0M624.9 139.3h0M624.5 123.8h0M624.9 117.8h0M625.2 120.9h0M625.6 161.4h0M626.3 100.7h0M626.2 114.5h0M625.8 111.6h0M625.6 119.9h0M626.0 119.3h0M626.0 133.8h0M626.0 118.4h0M626.4 119.3h0M626.2 131.8h0M627.4 137.1h0M626.6 134.6h0M627.0 126.2h0M627.0 133.4h0M627.0 126.6h0M626.6 125.8h0M627.2 119.5h0M627.4 136.9h0M627.2 135.3h0M627.1 127.2h0M628.4 88.3h0M628.5 61.4h0M627.6 138.8h0M628.0 144.1h0M627.6 116.7h0M628.0 110.7h0M628.2 115.7h0M628.4 133.1h0M627.7 111.7h0M627.6 116.1h0M629.1 171.9h0M628.8 140.9h0M628.6 98.1h0M629.0 114.3h0M628.9 153.4h0M628.5 145.2h0M628.5 136.0h0M628.9 149.0h0M628.8 165.1h0M628.9 125.6h0M630.3 150.7h0M630.2 154.8h0M629.9 119.9h0M629.5 158.8h0M630.5 149.9h0M629.6 133.0h0M630.4 146.3h0M629.7 129.0h0M630.0 157.0h0M629.8 122.2h0M630.8 124.0h0M631.4 120.9h0M630.7 154.3h0M631.2 131.3h0M631.0 142.0h0M631.5 121.4h0M631.5 157.2h0M631.1 112.9h0M630.6 111.5h0M630.7 141.0h0M631.6 119.9h0M632.0 154.7h0M632.2 130.4h0M632.4 143.3h0M631.7 141.6h0M632.2 176.2h0M631.9 164.5h0M632.4 143.1h0M632.5 150.1h0M632.2 142.4h0M633.3 157.4h0M633.4 170.7h0M632.7 137.7h0M632.7 132.6h0M632.6 122.4h0M633.4 170.9h0M633.3 161.6h0M632.5 122.4h0M633.2 96.4h0M632.6 138.9h0M634.3 162.3h0M633.9 195.8h0M633.9 155.0h0M633.9 111.7h0M633.8 158.6h0M633.9 168.7h0M633.8 144.2h0M634.4 191.0h0M633.8 185.0h0M634.3 191.5h0M635.4 163.7h0M634.9 171.1h0M634.6 167.8h0M635.1 170.4h0M635.4 160.5h0M634.7 163.6h0M634.5 139.7h0M635.4 155.8h0M634.6 143.4h0M635.2 118.5h0M635.8 148.6h0M635.7 166.3h0M636.4 224.3h0M636.2 158.4h0M635.6 146.1h0M636.0 190.3h0M636.0 167.3h0M636.4 180.6h0M636.5 214.8h0M636.2 191.8h0M636.7 175.2h0M636.7 181.0h0M637.5 140.2h0M637.2 158.4h0M636.8 133.0h0M637.4 139.5h0M636.8 182.9h0M637.3 196.9h0M636.6 139.8h0M637.5 165.2h0M637.6 163.2h0M637.9 155.7h0M637.9 192.1h0M638.0 176.6h0M638.2 140.6h0M638.4 173.6h0M638.3 151.0h0M638.4 160.4h0M637.8 190.7h0M637.6 143.3h0M638.8 132.8h0M639.2 165.1h0M639.5 160.1h0M639.1 178.4h0M638.6 202.3h0M639.1 152.0h0M639.0 160.4h0M639.1 154.2h0M638.8 175.7h0M638.6 188.3h0M639.6 195.9h0M639.5 203.6h0M639.8 158.6h0M640.2 177.1h0M640.3 165.3h0M639.7 192.5h0M639.6 167.8h0M639.9 178.1h0M640.1 157.9h0M640.0 130.4h0M640.6 212.9h0M641.4 174.1h0M641.3 210.6h0M640.8 154.4h0M640.9 142.2h0M640.5 172.1h0M641.4 183.0h0M641.4 110.5h0M641.0 203.9h0M641.2 159.5h0M642.1 194.9h0M642.0 186.1h0M641.6 168.8h0M642.3 174.2h0M641.8 162.8h0M642.2 198.7h0M642.2 185.7h0M642.3 148.4h0M641.9 178.0h0M642.4 165.0h0M642.7 188.5h0M642.9 208.2h0M643.0 201.5h0M643.1 133.3h0M643.0 188.6h0M643.2 143.0h0M643.2 131.0h0M643.4 185.8h0M643.3 198.6h0M643.1 269.6h0M644.1 211.8h0M643.8 209.0h0M644.0 169.8h0M644.3 175.4h0M643.8 125.5h0M643.6 178.3h0M644.3 165.4h0M643.5 132.2h0M643.5 170.5h0M643.6 200.7h0M644.6 176.8h0M645.3 193.9h0M644.7 119.4h0M644.8 211.9h0M645.0 205.7h0M645.3 183.8h0M644.8 188.8h0M645.1 181.4h0M645.0 181.5h0M645.0 173.3h0M646.4 144.8h0M646.0 231.8h0M645.7 122.6h0M645.8 138.6h0M646.3 194.2h0M645.7 124.8h0M645.8 168.9h0M646.1 220.6h0M646.2 216.4h0M646.0 265.0h0M647.4 167.0h0M646.5 198.4h0M647.0 158.9h0M646.6 189.9h0M646.8 183.3h0M647.0 196.4h0M646.9 209.2h0M646.9 192.9h0M647.2 207.5h0M646.6 177.2h0M648.1 197.3h0M648.3 171.2h0M648.3 180.0h0M647.9 212.3h0M648.1 211.5h0M648.5 223.0h0M648.5 155.3h0M648.1 139.4h0M648.0 200.2h0M648.4 200.5h0M649.1 205.8h0M648.6 165.5h0M648.7 169.8h0M648.9 240.8h0M648.9 206.1h0M648.6 223.6h0M648.8 218.2h0M649.5 228.0h0M648.6 205.4h0M649.5 180.8h0M649.6 232.7h0M650.1 240.7h0M649.6 228.1h0M650.4 241.9h0M649.5 215.9h0M649.8 227.4h0M649.8 196.1h0M650.1 263.9h0M649.8 195.3h0M649.7 202.6h0M651.4 225.8h0M651.0 212.1h0M651.4 361.0h0M650.5 260.9h0M651.0 296.3h0M650.6 198.6h0M650.6 234.0h0M650.6 234.3h0M650.6 222.5h0M651.1 192.5h0M652.1 267.6h0M651.7 235.6h0M652.4 247.1h0M651.7 222.5h0M651.6 242.6h0M651.6 274.3h0M652.1 238.0h0M652.2 226.5h0M652.0 241.2h0M651.8 190.8h0M653.3 239.2h0M652.5 237.9h0M652.5 295.9h0M652.5 302.0h0M652.7 212.8h0M653.3 253.0h0M653.5 271.9h0M652.9 246.7h0M652.6 252.5h0M653.5 211.2h0M654.2 282.1h0M653.7 300.9h0M654.0 254.4h0M654.2 299.4h0M653.8 235.9h0M653.7 234.4h0M653.8 241.8h0M653.7 244.5h0M654.5 286.3h0M654.4 317.9h0M655.3 178.6h0M655.2 237.4h0M655.4 276.4h0M655.2 273.0h0M655.4 291.6h0M655.1 289.6h0M654.6 255.2h0M654.7 321.2h0M655.3 198.2h0M655.3 249.6h0M655.8 289.0h0M655.9 261.2h0M656.1 265.7h0M655.6 288.0h0M655.8 273.5h0M656.0 217.9h0M656.3 263.9h0M655.7 271.3h0M656.3 257.0h0M655.7 284.4h0M656.9 235.3h0M657.1 288.4h0M656.9 317.4h0M657.1 313.9h0M656.8 275.7h0M656.5 295.3h0M657.2 259.0h0M656.5 266.8h0M657.1 319.0h0M657.7 286.0h0M657.7 307.2h0M658.3 264.6h0M657.5 294.3h0M658.3 270.5h0M658.1 266.8h0M658.0 223.9h0M658.2 339.8h0M657.9 311.9h0M658.1 325.1h0M658.8 285.8h0M659.3 303.2h0M658.9 336.2h0M659.4 264.0h0M659.1 324.7h0M658.7 282.8h0M658.6 284.0h0M659.3 316.3h0M658.5 264.1h0M659.9 332.9h0M660.1 328.9h0M660.3 332.1h0M659.8 346.6h0M659.6 295.6h0M659.5 317.1h0M660.2 260.3h0M659.5 362.2h0M661.4 345.8h0M660.9 350.8h0M661.3 272.9h0M661.1 302.6h0M661.1 336.1h0M660.7 283.9h0M661.3 303.1h0M661.2 360.4h0M661.4 289.3h0M661.3 341.5h0M661.7 359.8h0M661.6 324.6h0M661.9 286.9h0M662.1 303.3h0M661.5 305.3h0M662.5 266.7h0M662.0 267.9h0M661.9 342.6h0M662.3 262.3h0M661.6 302.6h0M662.7 303.1h0M663.1 290.2h0M663.3 290.3h0M663.4 344.9h0M663.4 313.7h0M662.8 287.4h0M663.5 328.4h0M662.6 347.0h0M663.0 268.6h0M663.6 315.2h0M664.2 274.8h0M663.9 310.8h0M663.9 271.8h0M663.8 340.9h0M664.3 348.5h0M663.6 284.9h0M664.4 274.0h0M664.0 331.4h0M663.7 292.2h0M665.3 349.1h0M665.5 362.0h0M665.3 277.2h0M664.5 284.7h0M665.2 225.9h0M664.8 257.3h0M664.6 339.5h0M665.5 276.7h0M665.6 348.7h0M665.9 237.3h0M665.5 295.0h0M666.0 319.5h0M666.0 341.3h0M665.8 355.2h0M666.4 280.9h0M665.9 249.3h0M666.0 340.8h0M667.2 238.7h0M666.7 308.1h0M666.8 263.8h0M667.2 239.9h0M667.5 257.1h0M667.0 264.7h0M666.8 259.2h0M667.0 282.8h0M667.5 309.3h0M667.1 283.6h0M668.0 283.6h0M668.0 253.8h0M667.8 349.9h0M667.9 223.0h0M667.6 268.2h0M668.2 253.2h0M668.2 270.3h0M667.5 261.9h0M668.2 344.9h0M669.5 306.0h0M668.9 291.0h0M668.7 270.3h0M669.4 308.7h0M669.0 270.7h0M668.8 225.7h0M668.8 245.7h0M669.5 239.9h0M668.7 317.4h0M668.6 239.8h0M669.7 251.0h0M670.3 232.0h0M670.3 265.8h0M670.4 238.4h0M669.9 281.3h0M670.0 221.2h0M669.8 306.4h0M670.5 268.9h0M670.0 218.5h0M669.7 308.5h0M671.2 241.9h0M671.2 263.3h0M671.3 287.4h0M671.0 198.0h0M671.3 247.6h0M670.6 266.5h0M671.2 298.0h0M670.9 237.9h0M670.9 259.3h0M671.7 246.1h0M672.2 206.5h0M672.4 257.8h0M672.1 216.3h0M672.3 243.2h0M671.9 362.1h0M671.7 247.0h0M671.6 253.2h0M672.0 293.1h0M672.1 281.9h0M672.8 266.6h0M673.0 218.3h0M672.9 313.8h0M672.6 260.3h0M672.6 312.8h0M673.0 216.1h0M673.0 240.6h0M673.5 237.7h0M673.1 233.6h0M672.5 211.2h0M673.5 223.3h0M673.8 204.9h0M673.8 222.6h0M674.4 231.8h0M673.7 223.5h0M673.9 242.9h0M674.3 216.9h0M673.9 213.3h0M674.0 242.6h0M673.7 354.2h0M674.7 289.6h0M675.4 246.2h0M674.8 224.4h0M675.0 211.5h0M674.8 218.8h0M674.5 211.2h0M675.3 208.7h0M674.7 183.1h0M674.6 167.7h0M675.2 213.2h0M676.2 203.4h0M676.3 233.2h0M676.3 227.3h0M676.0 227.5h0M676.1 203.0h0M676.1 253.9h0M676.5 219.3h0M675.6 201.7h0M675.7 189.9h0M675.6 199.7h0M676.8 231.9h0M677.0 286.0h0M676.6 225.8h0M676.8 225.5h0M677.1 261.5h0M677.4 232.9h0M677.3 199.1h0M677.1 244.3h0M676.7 204.9h0M677.0 197.7h0M678.2 228.2h0M677.6 261.6h0M677.6 218.0h0M677.7 257.1h0M677.7 187.8h0M677.8 253.5h0M678.1 236.2h0M678.5 235.9h0M677.7 275.9h0M678.3 216.4h0M678.7 217.7h0M678.6 231.6h0M679.4 232.8h0M679.4 225.1h0M678.8 235.5h0M679.4 215.7h0M678.8 259.3h0M678.7 179.8h0M679.0 213.7h0M679.1 256.9h0M679.9 212.2h0M679.7 209.7h0M679.9 247.8h0M680.2 244.4h0M679.8 252.4h0M680.0 276.0h0M680.2 285.1h0M680.3 230.3h0M680.1 232.5h0M679.5 267.6h0M681.3 228.1h0M681.0 236.9h0M680.8 233.0h0M681.0 310.3h0M681.2 242.1h0M681.4 204.6h0M681.2 271.4h0M681.4 192.5h0M680.9 277.6h0M680.9 163.7h0M682.3 228.3h0M681.8 279.9h0M682.0 276.8h0M681.7 286.0h0M682.0 232.5h0M682.4 256.9h0M682.0 300.1h0M682.4 252.6h0M682.1 319.8h0M682.4 160.7h0M682.6 331.0h0M683.4 245.0h0M682.9 177.3h0M683.2 263.7h0M682.8 229.7h0M683.0 257.5h0M682.9 223.9h0M683.0 278.8h0M683.4 249.5h0M682.7 227.1h0M683.6 313.6h0M683.7 232.2h0M684.3 306.5h0M684.5 364.5h0M683.7 224.8h0M684.0 273.9h0M684.3 299.3h0M684.0 329.3h0M683.7 213.5h0M685.2 265.2h0M685.2 241.7h0M684.8 239.1h0M685.2 251.2h0M685.3 267.1h0M684.6 250.1h0M685.0 284.6h0M684.7 254.2h0M685.3 256.6h0M685.3 281.3h0M685.6 285.2h0M685.7 258.2h0M685.8 273.4h0M685.6 259.4h0M685.9 248.8h0M685.6 234.5h0M686.3 257.1h0M686.5 214.1h0M685.7 217.7h0M686.0 231.1h0M687.0 250.2h0M687.3 256.3h0M687.4 239.6h0M687.2 242.3h0M687.2 282.7h0M686.7 254.2h0M687.4 266.0h0M686.8 290.3h0M687.3 263.9h0M686.8 246.0h0M688.3 251.9h0M687.9 252.5h0M688.2 284.5h0M688.0 255.3h0M687.8 321.5h0M688.5 287.5h0M687.6 254.0h0M687.8 264.2h0M687.8 102.8h0M687.8 224.0h0M689.3 281.2h0M689.3 238.4h0M689.2 204.4h0M689.0 245.7h0M689.0 287.1h0M689.1 241.3h0M688.5 260.8h0M689.2 251.1h0M689.4 320.0h0M689.9 261.6h0M690.2 285.8h0M690.3 254.5h0M689.8 233.2h0M690.4 196.2h0M689.9 248.4h0M690.4 290.9h0M689.9 251.5h0M690.4 294.1h0M690.2 248.8h0M691.0 248.0h0M690.9 277.4h0M691.2 306.2h0M690.8 254.0h0M690.8 284.0h0M691.1 228.1h0M690.6 313.8h0M691.3 335.9h0M691.0 322.9h0M692.0 243.3h0M692.3 214.5h0M692.4 252.9h0M692.3 215.2h0M692.4 294.6h0M692.1 284.2h0M691.9 272.2h0M692.1 319.7h0M692.2 273.1h0M692.3 298.5h0M693.2 249.5h0M693.1 234.9h0M692.6 271.9h0M693.0 291.9h0M693.4 253.9h0M693.2 229.9h0M693.3 244.8h0M693.2 291.1h0M693.4 261.0h0M694.5 279.2h0M693.9 234.5h0M694.2 200.9h0M693.6 257.9h0M694.2 303.4h0M693.5 259.9h0M693.8 297.5h0M693.7 281.8h0M694.5 245.6h0M695.4 270.0h0M694.7 167.5h0M694.9 261.5h0M694.6 311.1h0M695.3 304.3h0M694.5 270.7h0M695.5 244.0h0M695.2 255.0h0M695.2 321.6h0M694.6 260.8h0M696.3 193.1h0M696.1 317.5h0M695.5 248.5h0M695.8 309.5h0M695.9 267.8h0M696.0 327.8h0M696.4 267.7h0M695.8 276.7h0M696.4 240.4h0M696.3 347.4h0M696.7 252.1h0M697.0 243.9h0M696.9 249.8h0M696.9 294.8h0M696.7 276.5h0M696.5 340.2h0M697.5 269.3h0M697.0 315.6h0M696.6 263.3h0M697.5 316.1h0M698.1 199.0h0M697.9 203.2h0M697.7 256.5h0M697.8 288.8h0M697.5 226.4h0M698.3 228.1h0M698.1 294.7h0M698.3 237.9h0M697.9 285.1h0M697.7 224.7h0M698.7 226.9h0M699.5 234.4h0M699.4 234.3h0M699.2 260.8h0M698.8 206.6h0M699.3 318.0h0M699.1 267.9h0M699.5 168.1h0M698.8 248.9h0M699.2 260.4h0M700.4 263.5h0M700.0 221.9h0M699.9 249.0h0M699.9 255.5h0M699.8 276.6h0M700.0 269.9h0M699.8 250.1h0M699.9 188.9h0M699.9 232.3h0M700.0 235.6h0M701.4 237.5h0M701.2 231.5h0M700.9 227.6h0M700.6 256.8h0M700.7 227.6h0M700.9 241.9h0M701.5 238.4h0M701.3 174.8h0M700.5 258.2h0M700.9 253.6h0M701.7 226.6h0M701.9 220.5h0M701.7 205.4h0M702.4 199.1h0M702.4 156.1h0M701.5 203.5h0M702.3 224.8h0M701.6 236.5h0M702.1 182.0h0M701.8 199.8h0M702.5 220.9h0M702.9 186.5h0M703.2 159.9h0M702.9 250.6h0M703.0 199.2h0M703.0 181.4h0M702.6 204.0h0M702.6 218.0h0M703.2 168.4h0M703.0 189.9h0M703.8 156.4h0M704.1 202.8h0M704.1 126.8h0M703.8 162.9h0M704.0 171.9h0M704.0 175.1h0M703.7 173.0h0M704.3 197.5h0M703.7 182.5h0M703.8 176.0h0M705.0 130.6h0M704.7 160.1h0M705.2 215.2h0M705.0 200.2h0M705.1 185.0h0M705.3 204.6h0M704.5 163.7h0M705.0 170.1h0M704.7 207.7h0M705.3 153.4h0M705.7 171.4h0M705.6 152.8h0M705.5 186.5h0M705.5 159.1h0M706.3 186.8h0M706.0 167.9h0M705.6 129.3h0M705.8 208.8h0M705.5 165.2h0M705.8 168.6h0M707.1 143.9h0M707.4 105.5h0M706.6 216.7h0M707.2 138.4h0M707.4 140.4h0M706.7 117.5h0M707.4 174.1h0M707.4 162.8h0M707.0 210.4h0M706.7 178.9h0M708.1 163.7h0M708.0 99.3h0M707.7 164.1h0M708.2 136.5h0M708.4 130.9h0M708.0 149.0h0M707.8 138.2h0M708.2 171.6h0M708.4 117.8h0M708.3 168.5h0M708.8 135.7h0M708.8 100.6h0M708.6 99.1h0M709.1 144.3h0M708.8 140.1h0M709.1 140.2h0M709.4 127.1h0M708.8 141.3h0M708.6 171.0h0M709.4 118.2h0M710.2 122.2h0M709.7 112.0h0M710.5 160.0h0M710.2 141.7h0M710.2 154.7h0M710.4 117.7h0M710.3 136.1h0M710.3 182.2h0M710.0 142.9h0M710.2 101.3h0M710.5 139.0h0M710.5 119.4h0M710.8 138.6h0M711.0 125.4h0M711.4 91.2h0M710.7 149.0h0M711.3 152.1h0M711.2 133.8h0M711.0 99.9h0M710.8 134.9h0M712.4 122.9h0M711.8 140.0h0M711.7 120.9h0M711.9 140.7h0M712.4 127.0h0M711.9 97.6h0M712.2 95.7h0M711.6 124.5h0M712.0 100.6h0M712.3 145.0h0M713.0 122.8h0M713.3 150.4h0M713.3 135.9h0M713.0 125.8h0M713.3 141.8h0M713.4 180.1h0M712.7 104.7h0M712.8 177.3h0M712.9 122.3h0M712.6 148.3h0M713.9 139.5h0M714.5 121.1h0M714.2 138.4h0M713.9 147.9h0M714.0 141.9h0M714.3 122.2h0M713.5 163.4h0M714.0 111.5h0M714.5 154.8h0M713.7 139.5h0M715.1 156.6h0M715.2 146.7h0M715.3 199.5h0M714.9 135.8h0M714.7 145.7h0M714.9 103.0h0M715.0 137.2h0M715.4 164.7h0M714.8 128.5h0M714.7 143.8h0M715.6 172.9h0M716.1 156.6h0M715.8 115.5h0M716.3 171.5h0M716.0 154.8h0M715.5 139.2h0M716.4 140.9h0M716.2 126.9h0M716.0 162.6h0M716.1 85.3h0M716.7 150.4h0M717.0 143.3h0M717.0 153.2h0M717.3 140.8h0M716.9 132.3h0M717.0 139.5h0M716.8 161.0h0M717.0 206.6h0M717.0 132.6h0M717.5 149.3h0M717.7 134.7h0M717.6 147.4h0M718.4 142.9h0M717.7 167.4h0M717.8 152.6h0M718.4 137.1h0M717.8 152.2h0M718.1 142.1h0M718.2 142.9h0M718.0 193.4h0M719.0 159.4h0M719.0 160.2h0M718.9 151.7h0M719.3 186.3h0M719.4 155.0h0M718.9 157.4h0M719.3 136.5h0M718.6 161.4h0M719.3 175.7h0M719.1 165.5h0M719.9 255.8h0M719.7 155.8h0M719.8 132.0h0M719.6 134.0h0M720.5 160.5h0M720.3 163.4h0M719.7 144.1h0M719.7 131.5h0M719.8 141.0h0M720.5 149.2h0M720.8 183.3h0M721.4 173.9h0M720.8 174.8h0M720.8 135.1h0M720.8 120.6h0M721.2 171.6h0M721.0 157.4h0M721.4 154.9h0M721.2 203.2h0M721.4 122.8h0M721.8 137.9h0M722.1 195.0h0M721.6 172.3h0M722.4 181.3h0M721.8 144.9h0M721.6 157.1h0M721.5 163.3h0M722.1 154.1h0M722.0 175.7h0M722.3 153.7h0M723.4 172.7h0M722.5 174.3h0M723.0 179.6h0M723.4 185.3h0M722.9 154.2h0M722.6 211.5h0M723.1 186.3h0M722.6 165.8h0M722.7 146.5h0M723.1 216.1h0M724.0 191.0h0M724.2 166.1h0M724.3 172.0h0M723.8 181.0h0M723.6 145.8h0M724.2 176.9h0M724.4 183.0h0M724.5 204.1h0M723.7 232.3h0M724.0 183.1h0M725.1 153.0h0M724.9 172.1h0M725.4 183.3h0M724.9 183.2h0M724.8 166.8h0M725.4 186.2h0M724.9 186.8h0M725.3 186.1h0M724.9 183.9h0M724.7 205.8h0M725.7 190.0h0M726.4 238.2h0M726.4 225.9h0M725.6 170.5h0M726.3 137.0h0M726.4 209.7h0M726.3 174.9h0M725.6 172.2h0M725.8 173.4h0M725.8 202.1h0M726.8 175.4h0M727.4 238.3h0M726.8 245.6h0M726.7 167.0h0M726.5 181.7h0M727.3 212.9h0M727.2 186.9h0M727.3 193.8h0M727.3 217.3h0M727.3 212.9h0M727.9 203.9h0M728.0 227.2h0M728.4 157.5h0M728.1 186.6h0M727.5 158.7h0M727.7 212.2h0M727.8 198.9h0M727.9 179.0h0M728.2 229.0h0M728.0 250.4h0M728.7 248.8h0M728.7 185.5h0M728.9 220.8h0M728.9 221.8h0M729.2 204.0h0M729.0 218.7h0M729.3 274.4h0M728.5 259.5h0M729.1 162.0h0M729.0 223.6h0M729.8 237.9h0M729.7 230.9h0M730.4 224.5h0M730.3 200.0h0M729.7 182.8h0M729.7 157.0h0M729.8 303.4h0M729.8 211.1h0M730.3 233.7h0M730.0 169.4h0M731.3 220.9h0M730.9 280.1h0M731.4 273.9h0M730.9 230.4h0M730.8 211.7h0M730.7 190.3h0M730.8 188.6h0M730.6 189.4h0M731.3 212.1h0M730.5 263.8h0M732.3 221.3h0M732.4 296.5h0M732.0 177.6h0M732.1 218.6h0M731.9 232.1h0M731.8 195.1h0M731.6 188.0h0M732.0 285.0h0M732.3 231.1h0M732.1 211.6h0M733.1 245.6h0M732.8 317.5h0M732.9 228.0h0M733.2 198.9h0M732.9 242.7h0M732.9 227.8h0M733.1 223.7h0M733.0 262.3h0M732.8 228.3h0M732.8 256.6h0M734.2 245.5h0M733.8 231.0h0M734.2 227.6h0M733.9 312.4h0M734.4 227.0h0M734.1 209.4h0M734.1 217.6h0M734.0 254.2h0M734.0 245.0h0M733.6 272.6h0M734.6 255.6h0M735.4 250.6h0M735.0 195.5h0M734.9 229.4h0M734.7 143.5h0M734.7 249.2h0M734.9 229.4h0M734.7 214.8h0M734.9 260.8h0M734.9 231.3h0M735.6 262.7h0M736.1 257.3h0M735.8 231.3h0M735.7 224.1h0M736.4 263.7h0M735.7 245.8h0M735.9 252.0h0M735.8 216.3h0M735.9 265.9h0M736.1 281.7h0M737.5 232.1h0M737.4 148.3h0M736.9 249.5h0M737.0 200.9h0M737.3 227.4h0M736.9 218.5h0M736.8 202.8h0M737.2 213.6h0M736.6 224.1h0M736.7 227.9h0M737.9 255.2h0M737.9 240.6h0M738.4 244.9h0M737.5 216.1h0M738.4 201.1h0M738.1 260.0h0M738.2 227.7h0M738.2 190.4h0M738.0 160.6h0M738.0 221.9h0M738.6 234.6h0M739.5 239.7h0M738.8 182.7h0M738.8 173.2h0M739.0 190.7h0M738.5 230.5h0M739.5 167.6h0M738.8 261.3h0M739.4 190.3h0M738.6 195.5h0M740.3 173.6h0M740.1 145.9h0M739.7 162.8h0M739.7 226.2h0M740.3 204.4h0M740.3 195.6h0M739.5 186.4h0M740.2 157.7h0M739.9 189.7h0M739.6 222.2h0M741.2 176.7h0M741.1 185.5h0M741.3 216.6h0M741.3 160.5h0M741.4 162.3h0M741.3 170.1h0M741.1 207.5h0M740.7 95.1h0M740.8 180.7h0M740.8 151.5h0M742.0 161.8h0M741.5 196.3h0M741.8 164.6h0M741.7 170.4h0M741.7 178.5h0M741.7 156.9h0M742.2 153.2h0M741.5 183.2h0M742.0 193.5h0M742.0 185.7h0M742.7 181.9h0M743.1 199.8h0M742.9 203.5h0M743.3 168.1h0M742.8 162.4h0M743.4 191.7h0M743.3 173.5h0M742.7 165.7h0M742.8 173.7h0M742.7 154.0h0M743.7 164.2h0M744.2 182.6h0M744.3 141.3h0M743.8 215.6h0M744.5 134.8h0M743.7 176.2h0M744.4 182.6h0M743.6 153.2h0M744.5 170.1h0M743.9 138.5h0M744.7 196.5h0M745.1 139.7h0M744.8 166.4h0M745.5 151.0h0M744.5 135.3h0M744.7 186.7h0M745.3 157.2h0M745.2 144.7h0M745.3 152.6h0M745.0 149.8h0M745.6 159.2h0M746.5 152.4h0M746.3 121.1h0M746.5 142.9h0M746.3 131.0h0M745.6 254.6h0M746.2 157.4h0M746.2 165.2h0M746.3 139.2h0M746.4 112.3h0M746.9 147.5h0M747.4 157.7h0M747.5 132.4h0M746.9 164.6h0M746.8 170.1h0M746.8 131.2h0M746.6 123.7h0M747.1 153.8h0M747.1 140.1h0M747.0 160.7h0M747.7 135.6h0M747.5 180.3h0M748.3 122.5h0M748.5 151.7h0M748.4 117.4h0M747.7 123.3h0M748.1 134.5h0M748.4 140.0h0M747.9 155.5h0M747.5 151.7h0M749.4 146.7h0M748.7 175.1h0M749.0 203.5h0M749.1 240.5h0M748.6 193.0h0M748.7 107.9h0M749.4 183.0h0M748.8 178.6h0M748.6 137.5h0M748.8 161.1h0M750.4 257.8h0M750.1 157.1h0M749.5 131.0h0M750.0 145.8h0M750.4 139.0h0M749.7 103.3h0M750.5 139.5h0M750.0 142.7h0M750.0 150.7h0M749.7 206.0h0M750.7 156.5h0M750.5 146.5h0M751.1 194.9h0M750.5 105.0h0M750.7 154.4h0M751.0 135.0h0M750.9 150.0h0M750.6 122.8h0M750.5 114.8h0M750.6 149.8h0M751.9 167.6h0M752.0 160.0h0M752.2 161.9h0M752.1 148.9h0M752.3 144.6h0M752.0 166.7h0M752.1 164.6h0M752.0 167.7h0M752.4 146.5h0M752.4 139.8h0M753.2 124.3h0M752.8 123.2h0M753.1 124.5h0M753.1 153.3h0M753.0 139.4h0M752.6 124.3h0M752.8 186.2h0M753.0 156.2h0M752.6 141.0h0M753.0 146.6h0M754.1 167.7h0M753.5 144.9h0M753.9 129.5h0M753.6 141.2h0M753.7 136.6h0M753.9 165.2h0M753.9 126.3h0M754.5 190.1h0M754.3 140.3h0M754.5 122.2h0M754.5 139.6h0M755.5 130.1h0M755.1 172.8h0M755.2 140.8h0M755.0 145.8h0M754.6 114.9h0M755.0 178.5h0M754.9 125.9h0M755.0 171.8h0M755.4 142.3h0M756.0 131.3h0M756.3 162.5h0M756.1 130.9h0M755.9 132.3h0M756.1 117.9h0M756.2 179.3h0M755.7 118.7h0M755.5 124.5h0M755.7 162.8h0M755.8 173.5h0M756.9 110.0h0M757.4 130.5h0M757.2 128.1h0M757.3 118.5h0M757.1 131.6h0M756.8 138.5h0M757.3 218.2h0M757.3 133.3h0M756.6 131.4h0M756.6 123.6h0M758.2 105.8h0M758.4 143.5h0M758.2 138.4h0M757.6 115.9h0M758.2 149.4h0M758.0 128.1h0M757.6 126.5h0M758.0 116.8h0M758.3 182.1h0M758.3 144.1h0M759.3 115.8h0M758.5 140.8h0M758.7 131.1h0M759.4 117.2h0M758.9 124.3h0M759.5 114.5h0M759.1 138.2h0M758.7 143.3h0M758.7 157.1h0M758.8 114.9h0M760.3 131.2h0M760.1 122.5h0M759.8 125.3h0M760.5 125.4h0M760.3 137.6h0M760.3 115.0h0M759.7 116.3h0M759.7 133.5h0M759.5 135.0h0M760.2 151.8h0M760.6 152.8h0M761.4 111.1h0M761.1 110.5h0M761.1 108.5h0M760.7 111.2h0M760.9 119.7h0M761.1 111.2h0M761.1 148.5h0M761.1 109.4h0M761.2 149.6h0M762.2 109.9h0M762.1 111.3h0M761.8 154.5h0M761.8 109.3h0M761.6 113.4h0M761.7 146.2h0M762.2 136.8h0M762.0 106.8h0M761.9 119.2h0M761.8 113.1h0M762.6 90.3h0M762.7 159.3h0M763.4 96.9h0M763.4 107.2h0M763.4 132.3h0M763.0 113.2h0M763.1 92.5h0M763.0 103.9h0M762.8 108.4h0M762.8 119.0h0M763.7 97.8h0M763.8 116.6h0M764.0 103.5h0M764.4 109.3h0M764.0 119.0h0M764.1 119.8h0M764.1 174.3h0M764.4 130.6h0M763.7 146.4h0M763.8 167.0h0M764.6 118.2h0M765.2 121.4h0M764.7 155.1h0M764.7 122.4h0M765.1 121.1h0M765.5 76.8h0M764.6 135.4h0M765.1 155.1h0M765.3 127.6h0M764.9 111.2h0M766.1 110.1h0M766.2 122.0h0M766.3 89.8h0M765.7 123.9h0M765.7 92.8h0M765.9 82.9h0M765.8 121.3h0M766.2 104.9h0M765.9 119.7h0M765.9 100.7h0M766.9 92.1h0M766.9 90.3h0M766.7 211.2h0M767.0 111.5h0M766.7 110.9h0M766.8 88.6h0M767.1 95.1h0M766.5 102.3h0M767.1 118.7h0M767.1 101.9h0M767.9 92.7h0M767.8 117.0h0M767.8 149.8h0M768.3 101.5h0M768.2 100.2h0M768.3 158.3h0M768.0 120.5h0M767.5 103.1h0M767.6 155.8h0M767.6 78.1h0M768.6 113.7h0M768.7 109.0h0M769.4 98.7h0M768.9 89.7h0M768.7 113.9h0M769.1 111.9h0M769.1 104.7h0M768.9 114.3h0M769.2 103.4h0M769.3 115.2h0M770.0 113.0h0M769.8 114.6h0M770.0 78.3h0M769.7 88.3h0M769.9 108.3h0M769.9 127.1h0M770.3 141.4h0M770.1 105.5h0M770.4 124.4h0M770.3 93.9h0M770.8 109.6h0M770.9 121.4h0M770.8 111.4h0M771.1 105.9h0M771.0 105.7h0M771.1 115.8h0M770.6 111.8h0M770.5 125.2h0M771.3 123.4h0M770.9 165.4h0M771.6 112.9h0M771.8 119.8h0M772.2 118.1h0M771.6 110.9h0M772.2 115.4h0M771.9 107.0h0M771.9 117.3h0M772.1 169.0h0M772.4 140.6h0M772.2 119.7h0M773.1 105.5h0M773.2 136.2h0M773.3 115.8h0M773.2 154.9h0M773.0 124.6h0M773.0 144.3h0M772.7 117.9h0M773.0 120.7h0M772.9 135.2h0M772.8 165.1h0M773.8 158.1h0M774.0 153.4h0M774.3 143.8h0M774.0 166.1h0M774.4 186.0h0M774.1 140.0h0M774.2 138.1h0M774.0 142.0h0M774.4 151.3h0M774.0 134.5h0M774.8 165.5h0M774.8 157.7h0M775.1 178.4h0M775.4 169.7h0M774.7 124.0h0M775.4 171.1h0M774.9 165.7h0M775.0 155.9h0M775.2 176.1h0M775.2 127.4h0M776.4 205.2h0M776.2 176.6h0M776.0 197.6h0M776.3 178.6h0M776.3 147.5h0M776.2 185.9h0M775.6 176.1h0M776.1 143.5h0M775.7 220.3h0M776.2 166.6h0M777.0 173.3h0M777.3 193.0h0M777.5 216.7h0M777.0 177.3h0M776.6 196.3h0M776.7 214.1h0M777.1 202.2h0M776.7 156.9h0M777.2 135.8h0M777.4 226.9h0M778.1 249.4h0M778.4 210.6h0M778.3 204.5h0M778.1 165.6h0M777.6 175.2h0M778.1 250.7h0M778.4 192.7h0M777.6 177.1h0M778.4 151.2h0M778.1 188.7h0M779.0 266.8h0M778.6 203.8h0M778.7 220.4h0M779.5 215.2h0M778.9 191.6h0M778.9 243.7h0M778.6 210.1h0M779.2 182.6h0M779.5 207.5h0M779.2 152.1h0M779.6 205.3h0M780.0 194.5h0M780.2 231.5h0M779.7 167.0h0M780.3 110.6h0M780.5 243.3h0M779.9 231.8h0M779.9 209.6h0M779.7 205.7h0M779.6 172.8h0M781.4 192.9h0M780.8 184.4h0M780.5 215.5h0M781.2 225.8h0M780.8 178.0h0M781.4 192.1h0M780.9 209.9h0M780.5 177.8h0M780.6 189.8h0M781.2 197.6h0M782.4 245.4h0M781.8 223.9h0M781.8 203.6h0M782.4 275.2h0M781.5 231.5h0M782.2 211.2h0M781.8 238.2h0M782.5 252.4h0M782.4 235.8h0M782.3 235.7h0M782.8 193.5h0M783.4 209.4h0M782.7 165.3h0M783.3 225.8h0M782.7 224.3h0M782.8 234.7h0M783.0 209.2h0M783.5 207.3h0M783.3 178.7h0M782.6 187.8h0M784.5 250.3h0M783.8 231.2h0M783.8 185.9h0M783.8 182.9h0M784.4 234.9h0M784.1 200.3h0M783.5 238.9h0M784.3 253.4h0M783.6 278.1h0M783.8 204.4h0M784.8 242.5h0M785.1 209.5h0M785.0 275.9h0M785.5 226.2h0M784.9 253.5h0M785.1 199.8h0M785.2 224.0h0M784.7 209.0h0M785.2 217.8h0M784.6 251.9h0M785.5 185.9h0M786.5 237.4h0M785.9 232.3h0M786.3 243.3h0M786.2 257.5h0M786.0 285.9h0M786.3 264.0h0M785.6 249.2h0M786.3 254.4h0M786.0 214.8h0M787.4 211.7h0M786.8 241.8h0M787.4 195.8h0M786.6 176.2h0M787.3 247.0h0M786.5 218.7h0M786.9 232.1h0M786.8 219.4h0M786.8 192.4h0M786.9 260.4h0M788.0 238.6h0M788.5 204.8h0M787.6 231.0h0M787.8 211.6h0M788.2 203.7h0M788.1 180.9h0M787.7 240.4h0M787.9 182.1h0M788.5 204.7h0M788.2 237.0h0M789.2 231.1h0M789.3 251.1h0M789.2 235.8h0M788.6 254.7h0M789.1 175.9h0M788.5 233.2h0M788.8 250.4h0M788.8 191.1h0M789.3 195.5h0M789.0 236.3h0M790.2 206.9h0M790.3 206.1h0M790.3 193.6h0M789.9 256.4h0M789.5 267.8h0M790.0 230.8h0M790.0 264.4h0M790.2 245.6h0M790.1 196.2h0M790.0 275.2h0M791.0 183.6h0M791.2 208.2h0M791.3 252.6h0M791.0 235.0h0M791.5 272.9h0M791.5 234.1h0M790.7 214.9h0M790.5 281.5h0M791.3 214.0h0M791.3 213.0h0M792.5 199.1h0M792.2 214.0h0M792.4 243.3h0M792.2 278.6h0M791.7 242.4h0M791.9 232.2h0M792.2 226.4h0M792.3 237.8h0M791.6 295.3h0M792.2 250.4h0M792.9 239.2h0M792.9 326.9h0M793.4 262.4h0M792.8 221.5h0M792.7 241.1h0M793.2 286.7h0M793.2 343.1h0M792.8 221.4h0M793.1 243.7h0M793.4 239.1h0M794.2 176.0h0M794.3 254.9h0M794.3 295.4h0M794.1 218.6h0M794.1 252.7h0M793.8 308.0h0M794.4 261.5h0M794.4 239.0h0M794.4 227.8h0M793.6 263.7h0M794.6 249.0h0M794.9 279.8h0M795.4 240.9h0M795.0 308.5h0M795.0 235.1h0M794.9 234.4h0M794.6 261.0h0M795.3 247.5h0M794.9 235.3h0M795.3 336.1h0M795.7 262.2h0M795.9 202.9h0M796.1 319.5h0M796.5 323.3h0M795.7 248.1h0M795.6 297.6h0M795.6 237.6h0M796.1 311.4h0M796.1 309.3h0M796.2 263.4h0M797.4 240.0h0M796.9 232.9h0M796.6 238.0h0M796.6 236.9h0M796.8 289.8h0M797.4 306.0h0M797.1 249.9h0M796.6 330.7h0M797.4 306.1h0M796.6 264.7h0M798.4 244.7h0M797.9 265.2h0M798.4 326.5h0M797.9 312.7h0M798.4 184.2h0M797.7 299.6h0M798.5 290.9h0M797.6 243.3h0M798.2 302.5h0M798.3 341.0h0M798.5 270.7h0M799.3 294.5h0M798.7 329.7h0M799.5 345.7h0M798.7 295.1h0M799.0 315.0h0M799.2 313.3h0M799.3 306.5h0M799.0 348.9h0M800.4 321.3h0M800.1 297.9h0M799.5 334.2h0M800.0 297.4h0M799.9 288.8h0M800.5 317.4h0M800.5 265.1h0M799.7 305.1h0M800.7 327.7h0M801.3 275.4h0M801.3 268.0h0M800.7 282.8h0M801.2 304.4h0M800.5 310.5h0M800.9 249.3h0M800.6 297.7h0M802.4 271.4h0M802.1 276.9h0M802.2 318.9h0M801.8 355.2h0M801.7 296.1h0M802.1 338.7h0M802.0 340.1h0M801.5 321.5h0M801.7 330.7h0M803.0 304.4h0M803.5 334.3h0M802.9 328.9h0M802.6 311.0h0M802.5 305.7h0M802.9 269.6h0M803.2 264.4h0M803.1 325.0h0M802.8 326.6h0M804.0 323.3h0M804.5 290.6h0M803.6 325.5h0M804.2 313.6h0M804.1 325.5h0M803.7 357.9h0M804.6 339.7h0M804.7 360.9h0M804.5 365.0h0M805.1 335.1h0M805.2 326.9h0M805.9 318.7h0M805.9 340.8h0M806.1 301.2h0M806.5 320.0h0M806.2 312.7h0M805.9 350.5h0M806.1 337.6h0M806.0 362.8h0M806.8 315.8h0M807.2 332.5h0M806.9 323.1h0M806.5 301.9h0M807.2 329.3h0M807.0 317.8h0M806.9 364.9h0M808.0 333.3h0M808.3 302.2h0M807.7 326.0h0M808.0 329.9h0M808.3 332.0h0M808.0 320.6h0M807.9 308.7h0M807.9 301.1h0M808.3 245.7h0M809.4 339.4h0M808.9 312.3h0M808.8 331.1h0M809.4 262.3h0M808.9 324.1h0M809.3 350.5h0M808.9 317.0h0M809.1 323.9h0M810.0 329.8h0M810.0 253.6h0M810.4 312.3h0M810.5 301.5h0M810.2 335.7h0M809.9 333.5h0M810.0 348.0h0M810.0 260.9h0M809.5 287.2h0M809.8 353.2h0M811.1 227.1h0M810.5 335.9h0M811.4 316.0h0M810.6 260.8h0M811.5 338.4h0M811.1 342.7h0M810.5 332.8h0M811.0 269.7h0M810.5 331.3h0M811.9 325.9h0M812.2 307.1h0M812.4 329.0h0M812.5 198.6h0M811.6 340.5h0M812.4 318.9h0M811.8 221.7h0M811.5 340.0h0M811.5 309.5h0M813.1 242.6h0M812.8 273.0h0M813.0 283.7h0M813.4 274.9h0M812.6 316.4h0M812.7 270.6h0M812.9 348.6h0M813.1 330.7h0M812.8 315.6h0M814.4 228.6h0M813.9 299.4h0M814.0 267.6h0M814.4 338.2h0M814.1 299.7h0M813.7 297.8h0M813.8 276.8h0M813.8 346.9h0M814.3 292.5h0M815.3 271.7h0M814.9 283.1h0M814.6 287.5h0M815.4 268.6h0M815.1 282.2h0M815.5 284.5h0M815.0 351.5h0M815.2 305.8h0M815.0 364.2h0M815.5 269.6h0M816.0 331.7h0M816.0 245.2h0M815.5 285.8h0M816.1 242.0h0M815.6 242.3h0M815.8 323.0h0M816.3 261.4h0M815.8 322.3h0M816.4 257.2h0M816.8 314.2h0M816.7 310.0h0M816.8 264.3h0M816.8 269.9h0M817.1 300.6h0M816.6 275.5h0M817.3 288.5h0M816.8 208.1h0M817.3 254.7h0M816.6 271.2h0M818.3 319.9h0M818.0 220.8h0M818.4 232.5h0M817.7 230.8h0M818.1 234.3h0M818.5 299.7h0M817.7 255.4h0M818.3 238.6h0M817.7 259.3h0M817.7 318.5h0M818.8 291.6h0M818.6 290.0h0M818.6 281.7h0M819.5 282.0h0M819.0 268.1h0M818.8 252.1h0M819.2 241.8h0M818.5 262.9h0M819.4 251.0h0M818.5 227.3h0M820.0 299.6h0M819.6 314.6h0M820.5 264.1h0M820.0 290.0h0M820.3 250.3h0M820.0 298.8h0M820.4 262.5h0M820.1 254.0h0M820.4 293.7h0M820.0 286.3h0M821.2 218.8h0M820.7 293.4h0M820.6 285.0h0M821.2 300.7h0M820.6 251.0h0M820.8 245.2h0M821.1 248.4h0M820.5 251.1h0M821.3 289.5h0M821.3 312.3h0M822.5 300.2h0M822.2 268.4h0M821.6 319.0h0M821.9 196.7h0M822.2 267.0h0M822.1 322.0h0M822.4 222.4h0M822.5 253.7h0M822.5 235.2h0M821.9 275.2h0M823.0 166.0h0M823.3 258.2h0M823.5 285.7h0M822.9 225.7h0M822.6 226.8h0M822.9 197.0h0M823.1 267.7h0M823.2 259.2h0M823.4 256.4h0M823.1 266.8h0M823.6 263.4h0M824.4 267.7h0M824.0 185.2h0M823.6 235.4h0M824.2 225.4h0M824.0 243.9h0M824.4 233.8h0M823.5 272.8h0M824.1 253.5h0M824.4 236.3h0M824.6 239.9h0M825.2 337.5h0M825.0 283.3h0M824.8 252.7h0M825.0 255.4h0M825.5 306.3h0M825.0 242.2h0M824.7 252.7h0M825.4 267.9h0M824.7 259.4h0M825.6 269.8h0M826.0 289.1h0M826.1 284.8h0M826.3 355.2h0M825.8 284.2h0M826.3 267.9h0M826.4 247.5h0M825.9 244.3h0M825.7 320.7h0M826.0 277.3h0M827.1 253.4h0M826.9 290.8h0M826.9 298.7h0M827.4 229.3h0M827.5 289.7h0M826.5 208.9h0M826.8 338.3h0M827.2 278.6h0M826.8 266.5h0M826.8 262.4h0M827.8 220.1h0M828.3 245.4h0M828.4 301.8h0M828.5 279.7h0M827.8 296.0h0M827.9 258.1h0M827.8 263.0h0M828.4 322.5h0M828.0 228.4h0M828.8 260.9h0M829.2 294.3h0M828.5 286.0h0M829.5 235.3h0M828.5 296.3h0M829.1 304.4h0M829.3 231.8h0M828.9 267.6h0M829.1 234.4h0M829.2 279.1h0M829.7 197.0h0M830.5 259.8h0M829.8 274.9h0M829.6 311.7h0M829.7 196.4h0M830.2 234.9h0M830.2 190.8h0M829.8 283.2h0M830.0 225.1h0M830.4 354.9h0M830.9 250.4h0M831.3 257.9h0M830.6 237.5h0M831.2 255.8h0M831.3 263.5h0M830.6 273.2h0M831.0 289.8h0M830.5 263.4h0M831.3 258.7h0M830.9 285.6h0M832.1 231.9h0M832.4 220.4h0M832.3 319.5h0M832.2 295.8h0M831.9 309.4h0M832.0 301.6h0M832.4 247.1h0M832.0 307.7h0M832.2 259.4h0M832.4 220.5h0M832.6 257.5h0M833.4 358.2h0M832.8 240.5h0M833.1 262.3h0M833.1 226.1h0M833.3 264.6h0M833.0 290.8h0M833.5 254.8h0M832.5 297.9h0M833.2 342.5h0M833.5 267.1h0M833.8 237.9h0M834.4 256.6h0M834.1 271.1h0M833.5 223.9h0M833.5 273.1h0M834.1 229.3h0M834.1 237.8h0M834.2 282.8h0M833.6 273.9h0M834.6 252.1h0M834.5 230.2h0M834.9 263.7h0M835.5 226.5h0M834.7 242.1h0M835.4 246.0h0M835.2 260.2h0M834.6 246.0h0M834.8 237.7h0M835.0 299.8h0M836.1 274.6h0M835.9 252.1h0M835.7 258.5h0M836.0 233.4h0M835.9 243.0h0M835.6 337.1h0M836.4 229.9h0M836.1 209.5h0M836.4 243.3h0M835.8 282.2h0M836.6 337.8h0M836.7 265.5h0M837.4 306.5h0M836.9 314.7h0M836.7 201.3h0M837.1 255.6h0M837.3 248.2h0M837.2 269.1h0M836.7 276.9h0M836.8 229.1h0M837.6 255.2h0M837.6 245.1h0M837.7 216.3h0M837.5 243.8h0M838.0 252.3h0M838.5 319.5h0M837.9 222.5h0M837.9 314.9h0M838.2 256.7h0M838.0 294.6h0M838.8 212.3h0M839.2 216.2h0M839.3 245.5h0M839.4 231.1h0M838.8 279.2h0M838.6 310.1h0M839.3 173.0h0M838.7 237.5h0M839.1 303.8h0M839.1 220.9h0M839.8 174.6h0M840.1 225.3h0M840.4 167.5h0M840.3 233.8h0M840.4 223.4h0M840.4 238.1h0M839.6 235.5h0M839.7 223.8h0M839.9 237.9h0M840.4 254.5h0M840.7 198.4h0M841.0 228.5h0M841.0 252.9h0M840.6 275.1h0M841.2 292.1h0M840.9 214.5h0M841.0 232.4h0M841.0 216.2h0M841.3 227.1h0M840.9 230.5h0M841.9 192.0h0M841.6 247.0h0M841.9 177.7h0M841.6 277.3h0M841.7 231.3h0M842.5 222.8h0M842.4 154.4h0M842.2 241.3h0M842.1 274.1h0M842.1 245.9h0M843.3 193.4h0M842.7 199.6h0M843.1 213.4h0M843.4 242.3h0M843.5 177.0h0M843.4 232.4h0M843.3 201.6h0M843.0 205.7h0M843.4 199.6h0M843.3 199.5h0M843.6 191.3h0M843.8 177.4h0M843.5 251.2h0M843.7 266.1h0M844.1 202.3h0M844.3 162.7h0M843.6 269.3h0M843.5 188.7h0M843.6 178.1h0M843.8 221.0h0M845.2 182.1h0M844.8 203.9h0M844.5 187.3h0M844.7 224.0h0M845.2 219.2h0M845.1 208.8h0M844.6 191.5h0M844.7 193.0h0M845.3 223.2h0M844.6 188.1h0M846.0 141.1h0M846.0 179.5h0M845.8 233.0h0M845.8 172.2h0M846.0 169.3h0M846.3 184.3h0M845.6 192.1h0M845.5 246.3h0M846.1 178.4h0M846.1 162.8h0M846.7 134.6h0M847.2 146.0h0M847.2 163.7h0M847.4 173.5h0M846.7 169.6h0M846.9 156.7h0M847.3 126.6h0M846.5 129.8h0M847.3 135.9h0M847.3 242.3h0M847.5 166.7h0M848.3 170.4h0M848.3 155.2h0M848.2 159.6h0M848.3 166.4h0M848.0 178.2h0M847.9 179.4h0M847.5 188.3h0M848.1 186.8h0M848.4 163.1h0M848.8 190.9h0M849.0 132.9h0M848.6 188.1h0M848.6 181.4h0M849.1 140.6h0M849.4 192.9h0M849.0 166.7h0M848.5 171.0h0M849.1 174.5h0M849.4 148.6h0M850.2 141.5h0M850.4 137.2h0M849.9 143.8h0M850.0 186.3h0M849.8 159.6h0M850.2 143.3h0M849.5 172.4h0M850.4 127.5h0M849.7 137.4h0M849.9 150.5h0M851.4 152.7h0M850.6 137.2h0M851.1 141.5h0M850.9 176.3h0M851.0 124.4h0M850.6 142.9h0M851.2 132.0h0M850.8 218.3h0M851.1 168.0h0M850.8 178.4h0M851.9 113.9h0M851.9 154.5h0M852.2 120.9h0M851.8 130.7h0M851.6 209.0h0M851.6 175.2h0M852.3 172.2h0M852.2 140.7h0M851.5 138.7h0M851.8 133.3h0M852.5 145.1h0M852.8 141.7h0M853.2 168.2h0M853.0 127.7h0M853.1 155.9h0M852.9 170.6h0M853.1 160.2h0M852.9 116.5h0M852.6 165.2h0M853.1 156.6h0M854.4 139.6h0M854.3 161.3h0M854.5 145.3h0M854.2 115.0h0M854.5 102.3h0M854.0 135.2h0M854.2 131.5h0M853.9 133.2h0M854.5 133.9h0M853.5 144.2h0M854.9 173.6h0M855.3 145.6h0M854.9 151.8h0M854.7 141.6h0M855.2 131.7h0M854.6 137.6h0M854.6 139.6h0M854.8 119.9h0M855.3 148.7h0M855.3 125.5h0M855.9 125.4h0M856.5 97.1h0M855.7 167.2h0M856.2 127.5h0M855.6 161.8h0M856.1 130.8h0M856.0 87.0h0M855.9 143.1h0M856.5 133.5h0M855.9 136.9h0M856.9 126.6h0M857.3 146.9h0M857.2 118.9h0M857.4 123.9h0M856.8 133.5h0M856.8 133.4h0M856.9 134.1h0M857.0 167.1h0M857.4 173.8h0M857.3 146.0h0M858.3 148.9h0M858.2 145.7h0M858.1 165.3h0M857.9 128.6h0M858.0 173.5h0M857.6 142.8h0M858.2 162.3h0M858.0 156.0h0M858.4 168.2h0M858.2 163.2h0M858.9 144.4h0M858.9 149.8h0M858.8 138.2h0M859.4 161.9h0M858.9 152.2h0M859.3 132.7h0M859.4 153.6h0M858.9 132.9h0M859.3 156.8h0M859.1 161.8h0M860.1 124.9h0M860.1 199.6h0M859.8 136.0h0M860.4 159.7h0M859.7 145.3h0M859.7 190.1h0M860.0 108.8h0M860.1 123.6h0M859.8 121.6h0M859.6 118.9h0M860.6 149.6h0M861.3 139.9h0M861.0 216.2h0M861.5 134.3h0M861.5 116.6h0M860.8 136.4h0M861.0 186.7h0M860.7 166.0h0M861.0 140.7h0M861.1 150.6h0M861.5 119.8h0M861.7 184.0h0M861.9 135.7h0M861.8 173.4h0M862.3 120.0h0M861.6 159.7h0M862.4 152.7h0M861.8 149.5h0M862.0 172.9h0M862.4 148.9h0M862.7 181.0h0M862.8 153.8h0M863.0 176.2h0M863.5 197.2h0M863.1 138.9h0M863.3 143.6h0M863.2 214.5h0M863.1 157.2h0M862.8 167.4h0M863.2 125.1h0M864.2 217.6h0M863.6 167.7h0M863.9 164.7h0M864.0 137.9h0M864.0 125.5h0M863.6 128.7h0M864.3 160.9h0M863.7 130.5h0M864.2 156.9h0M864.5 112.7h0M864.6 150.5h0M864.8 139.6h0M864.7 187.7h0M865.1 156.2h0M865.3 179.4h0M864.9 156.1h0M865.4 155.6h0M864.7 156.4h0M865.2 151.3h0M864.5 187.5h0M865.8 233.6h0M866.1 143.7h0M865.6 141.2h0M866.2 152.4h0M866.3 160.5h0M865.8 174.0h0M865.8 152.2h0M866.0 147.0h0M866.5 193.5h0M866.3 186.5h0M866.8 146.9h0M866.7 217.0h0M866.9 215.4h0M866.8 170.8h0M867.0 189.4h0M867.1 164.9h0M866.8 221.2h0M866.9 138.9h0M867.2 164.8h0M867.4 194.5h0M868.3 194.2h0M867.8 137.2h0M867.5 109.8h0M867.6 165.8h0M868.3 139.0h0M868.3 163.4h0M867.9 164.2h0M868.4 175.1h0M868.4 203.4h0M867.7 177.1h0M869.3 237.7h0M868.5 176.4h0M869.4 151.9h0M868.6 137.4h0M868.8 183.0h0M869.1 155.7h0M868.6 167.8h0M869.0 169.6h0M868.9 169.7h0M868.5 206.3h0M870.3 159.2h0M869.9 185.5h0M870.1 140.6h0M869.8 201.5h0M870.5 197.0h0M870.0 172.5h0M869.8 164.2h0M869.6 143.3h0M870.0 148.8h0M870.2 240.0h0M870.8 195.0h0M871.4 190.6h0M871.2 239.0h0M871.3 186.9h0M870.8 195.9h0M870.8 132.6h0M871.1 196.4h0M871.1 181.9h0M871.0 204.4h0M870.9 194.8h0M872.2 217.1h0M872.0 149.1h0M871.8 230.2h0M872.3 276.9h0M872.0 164.5h0M871.6 196.4h0M871.9 259.8h0M872.4 235.5h0M871.8 211.1h0M872.2 225.4h0M873.2 201.3h0M873.4 194.2h0M873.4 230.1h0M873.2 227.9h0M872.6 175.6h0M873.1 227.8h0M873.0 181.5h0M873.4 156.2h0M872.9 205.1h0M873.0 221.7h0M873.6 238.0h0M874.4 156.7h0M874.0 262.8h0M873.9 233.7h0M874.4 195.1h0M873.6 190.8h0M873.7 198.2h0M874.3 175.5h0M874.5 176.7h0M873.8 212.3h0M874.6 235.0h0M874.6 209.8h0M874.7 260.6h0M875.2 153.3h0M874.9 176.7h0M874.8 207.6h0M874.5 184.3h0M875.2 193.9h0M875.0 219.1h0M875.3 219.8h0M876.2 228.7h0M875.6 176.4h0M875.9 247.2h0M875.6 220.3h0M876.3 198.1h0M875.6 195.6h0M875.7 238.1h0M876.2 232.6h0M876.0 239.7h0M876.0 238.5h0M877.3 221.3h0M876.8 196.3h0M876.7 186.5h0M877.2 274.1h0M876.6 219.9h0M876.8 258.9h0M877.3 240.8h0M876.6 275.6h0M877.1 219.1h0M877.0 285.1h0M877.9 283.5h0M877.6 221.4h0M877.8 337.6h0M877.6 230.4h0M878.4 227.5h0M877.8 264.3h0M877.7 305.9h0M878.4 207.4h0M877.8 261.7h0M877.7 258.1h0M878.7 246.1h0M879.0 273.2h0M879.1 242.5h0M879.0 224.8h0M878.7 239.6h0M879.3 216.7h0M878.7 285.7h0M879.2 216.3h0M879.4 297.3h0M878.9 320.9h0M879.5 231.1h0M880.1 287.5h0M879.9 269.1h0M879.6 215.8h0M880.5 203.4h0M880.4 239.0h0M879.9 198.1h0M880.2 207.7h0M880.3 225.9h0M880.4 253.9h0M880.7 215.2h0M880.6 251.6h0M880.8 217.3h0M881.4 243.6h0M880.5 200.8h0M881.3 230.5h0M880.9 231.4h0M881.5 226.6h0M881.1 226.5h0M881.2 226.7h0M882.0 242.8h0M881.7 258.3h0M882.1 226.0h0M882.5 168.1h0M882.5 233.1h0M882.2 220.4h0M881.5 235.9h0M882.0 212.3h0M882.0 239.4h0M881.7 215.4h0M882.7 208.6h0M882.9 201.5h0M883.5 217.9h0M882.6 228.3h0M883.2 160.5h0M882.8 166.8h0M883.0 226.8h0M883.0 284.2h0M882.8 205.4h0M883.1 164.2h0M884.2 172.9h0M884.0 285.9h0M883.5 166.3h0M883.8 204.4h0M884.2 185.6h0M883.7 182.5h0M884.1 176.4h0M883.7 155.9h0M883.7 183.9h0M883.8 162.2h0M885.2 246.7h0M884.7 159.1h0M885.5 209.8h0M884.7 185.8h0M885.2 208.0h0M885.4 91.7h0M884.8 213.4h0M884.9 204.1h0M885.3 175.2h0M884.8 212.7h0M886.1 192.1h0M886.4 129.1h0M886.1 188.5h0M886.1 214.9h0M886.5 199.0h0M886.1 185.4h0M886.1 188.3h0M885.5 187.4h0M886.3 154.1h0M886.5 221.8h0M887.4 160.5h0M886.6 189.7h0M886.5 179.2h0M887.1 180.1h0M887.1 208.3h0M887.1 174.3h0M887.5 173.9h0M887.5 187.9h0M886.7 204.1h0M887.1 168.7h0M888.3 193.3h0M887.5 167.8h0M888.0 111.6h0M887.9 170.4h0M888.0 142.5h0M887.9 157.8h0M887.9 220.4h0M888.2 142.0h0M888.2 181.5h0M887.7 189.2h0M889.2 136.6h0M888.9 183.2h0M889.4 188.9h0M888.6 195.1h0M888.9 168.4h0M889.5 139.8h0M888.7 215.4h0M888.7 160.9h0M888.7 179.0h0M889.5 149.7h0M890.1 131.6h0M890.2 196.6h0M890.3 151.5h0M889.6 175.7h0M890.2 165.3h0M889.8 175.5h0M890.1 79.4h0M890.3 152.9h0M890.0 147.0h0M889.5 158.4h0M890.6 151.1h0M891.4 159.7h0M890.8 188.4h0M891.1 171.1h0M890.6 176.2h0M891.4 128.0h0M891.1 150.3h0M890.7 195.4h0M891.0 184.5h0M890.7 111.3h0M892.4 155.8h0M892.2 160.3h0M892.4 194.2h0M892.2 127.8h0M891.9 150.1h0M892.3 146.6h0M891.7 173.6h0M892.2 208.2h0M891.7 141.9h0M891.8 149.2h0M893.1 153.4h0M893.3 146.5h0M893.1 103.2h0M893.5 213.6h0M892.7 163.1h0M892.9 143.0h0M892.8 150.5h0M892.8 173.4h0M893.3 187.8h0M893.2 201.7h0M894.3 139.9h0M894.2 184.5h0M894.0 167.2h0M894.1 162.8h0M894.2 156.4h0M893.8 150.4h0M893.7 154.6h0M894.4 99.5h0M893.7 167.6h0M893.7 200.8h0M895.3 177.7h0M895.4 147.7h0M895.3 145.3h0M895.4 149.6h0M894.7 127.2h0M894.8 183.6h0M895.5 176.7h0M894.6 197.4h0M894.9 132.6h0M895.1 135.2h0M896.1 180.7h0M896.3 114.2h0M896.3 123.8h0M895.6 97.5h0M896.1 155.9h0M895.7 110.6h0M896.2 133.9h0M895.8 151.0h0M896.4 152.7h0M895.8 138.6h0M897.2 170.4h0M897.3 151.5h0M897.3 138.8h0M897.4 205.2h0M897.5 131.6h0M897.2 163.4h0M897.1 137.9h0M897.4 178.6h0M897.0 134.5h0M897.5 145.3h0M897.9 123.9h0M898.0 136.2h0M898.5 125.7h0M897.8 149.6h0M897.6 142.5h0M898.4 126.1h0M898.2 176.7h0M897.6 117.8h0M897.9 140.6h0M898.0 121.1h0M899.4 132.7h0M899.2 154.1h0M899.0 120.1h0M899.2 123.3h0M899.5 189.9h0M898.6 121.3h0M898.8 114.7h0M899.1 112.5h0M899.0 150.3h0M899.1 135.4h0M900.5 182.1h0M900.1 131.0h0M899.7 129.4h0M900.1 147.2h0M900.0 116.8h0M900.1 143.8h0M900.2 102.5h0M900.3 188.3h0M900.0 104.1h0M900.1 101.7h0M901.3 113.9h0M901.0 137.8h0M901.0 183.6h0M901.2 111.8h0M901.4 142.4h0M901.0 121.9h0M901.3 152.0h0M901.5 125.3h0M901.0 141.8h0M900.8 147.8h0M901.5 153.6h0M902.1 148.7h0M901.8 164.1h0M901.8 108.7h0M902.0 125.5h0M902.0 154.9h0M901.7 137.1h0M902.0 136.3h0M901.8 139.5h0M901.6 131.0h0M902.8 129.2h0M902.6 118.0h0M903.4 144.0h0M902.6 154.3h0M903.2 105.7h0M902.6 128.9h0M902.9 128.0h0M902.8 120.1h0M903.1 128.8h0M902.9 116.3h0M903.5 117.1h0M904.3 174.6h0M904.2 121.2h0M903.7 215.9h0M904.5 120.1h0M904.1 119.6h0M903.6 132.0h0M903.9 125.2h0M903.7 131.4h0M903.6 116.2h0M904.8 135.1h0M905.3 121.7h0M905.5 154.9h0M904.7 157.1h0M905.4 188.4h0M905.0 137.8h0M904.5 167.7h0M904.9 145.2h0M905.4 130.8h0M905.1 121.0h0M906.0 90.1h0M905.8 116.3h0M905.9 119.4h0M906.0 111.5h0M905.8 120.3h0M905.7 80.7h0M905.7 135.7h0M906.5 164.1h0M905.7 136.2h0M906.4 108.7h0M906.9 117.1h0M906.9 139.5h0M907.4 115.9h0M906.9 160.8h0M907.3 126.8h0M906.5 153.1h0M906.7 123.9h0M906.7 142.9h0M907.1 137.6h0M906.8 129.7h0M908.1 141.5h0M908.0 139.4h0M908.1 120.1h0M907.7 113.0h0M908.0 135.1h0M907.8 131.7h0M908.3 144.6h0M908.4 127.3h0M908.3 135.4h0M908.3 150.3h0M909.2 118.2h0M909.1 146.2h0M908.8 118.3h0M908.9 104.4h0M909.0 109.1h0M909.3 138.9h0M909.1 128.1h0M909.3 161.0h0M908.8 130.7h0M908.5 126.8h0M910.5 144.3h0M909.6 151.6h0M910.1 135.7h0M910.4 136.1h0M909.6 122.3h0M909.7 162.6h0M909.7 151.3h0M910.1 137.9h0M910.1 150.8h0M909.8 162.4h0M910.6 125.6h0M910.6 111.9h0M911.1 159.5h0M911.0 151.7h0M911.0 172.0h0M910.9 156.2h0M911.5 158.6h0M911.3 115.4h0M910.8 161.1h0M911.2 51.3h0M912.2 235.1h0M912.0 180.4h0M911.7 181.7h0M912.2 209.1h0M912.1 183.9h0M911.6 119.1h0M911.7 144.8h0M912.3 179.1h0M912.2 149.1h0M912.1 168.3h0M912.7 128.1h0M913.0 187.6h0M913.0 168.8h0M913.1 171.9h0M912.7 148.9h0M912.6 170.6h0M913.0 164.2h0M912.5 142.6h0M912.8 172.3h0M913.5 151.7h0M914.1 208.1h0M913.7 147.3h0M913.9 188.2h0M913.7 165.8h0M913.7 182.0h0M914.3 172.1h0M914.4 169.7h0M913.5 129.4h0M913.7 140.0h0M913.9 221.6h0M914.8 186.9h0M915.5 183.8h0M915.4 165.8h0M914.7 140.2h0M915.1 163.7h0M915.0 190.0h0M915.2 181.0h0M914.7 177.0h0M914.9 194.3h0M914.6 263.3h0M916.0 241.9h0M916.2 202.3h0M916.3 159.0h0M916.3 177.3h0M916.0 188.2h0M916.4 198.9h0M916.3 162.8h0M916.2 165.5h0M915.6 151.9h0M916.2 150.5h0M917.0 124.0h0M916.6 276.4h0M916.7 216.6h0M917.4 159.9h0M917.2 196.1h0M916.5 130.1h0M917.4 213.9h0M916.8 200.6h0M917.2 124.0h0M916.7 133.6h0M918.1 228.5h0M917.5 189.9h0M918.1 231.4h0M918.2 202.4h0M918.3 179.7h0M917.7 186.5h0M918.4 233.4h0M918.1 142.7h0M917.6 169.7h0M918.0 214.1h0M919.1 190.8h0M919.3 189.6h0M918.6 220.7h0M918.7 217.0h0M918.6 252.4h0M918.8 155.1h0M918.9 228.7h0M918.9 236.6h0M918.8 164.7h0M919.5 205.7h0M919.7 215.2h0M920.2 195.6h0M920.1 234.9h0M920.0 196.1h0M919.8 209.6h0M920.3 297.8h0M920.2 211.7h0M920.5 193.2h0M919.8 197.4h0M919.8 199.5h0M920.5 242.9h0M920.6 200.8h0M921.3 214.2h0M920.9 287.1h0M920.9 239.6h0M921.4 228.7h0M920.5 251.2h0M920.8 210.0h0M921.0 198.2h0M920.5 179.4h0M922.0 332.8h0M921.8 248.2h0M921.9 217.4h0M921.8 224.9h0M922.2 157.3h0M921.7 204.5h0M922.3 162.4h0M921.6 248.4h0M921.8 263.0h0M922.4 249.6h0M923.1 200.3h0M923.5 238.1h0M922.6 221.3h0M923.4 226.1h0M923.1 210.0h0M923.4 243.9h0M923.3 233.2h0M923.4 346.9h0M923.4 244.8h0M922.9 259.6h0M924.0 266.4h0M924.4 250.5h0M923.6 221.9h0M924.4 291.4h0M924.2 205.7h0M924.3 242.7h0M923.8 217.7h0M924.5 258.8h0M923.5 259.4h0M923.8 261.7h0M924.9 228.9h0M924.9 202.2h0M924.6 156.1h0M924.7 254.1h0M924.7 248.3h0M925.3 267.6h0M925.0 151.4h0M925.3 222.9h0M924.8 178.9h0M925.1 271.6h0M925.7 196.5h0M926.0 249.5h0M926.3 265.2h0M925.9 215.0h0M925.8 171.4h0M925.7 225.8h0M926.4 288.9h0M926.4 215.3h0M925.9 264.5h0M926.1 227.6h0M926.8 223.8h0M927.2 231.6h0M927.2 266.2h0M927.5 237.4h0M926.7 257.4h0M926.6 236.3h0M927.4 222.4h0M926.6 198.0h0M926.8 286.9h0M927.2 255.4h0M927.7 306.7h0M927.9 219.9h0M928.1 291.4h0M927.8 233.5h0M928.4 287.8h0M928.3 225.6h0M927.7 225.6h0M928.3 271.8h0M927.5 276.3h0M927.7 304.9h0M929.1 216.3h0M928.6 323.8h0M929.1 225.5h0M929.0 232.9h0M928.9 209.1h0M928.7 218.3h0M928.7 227.2h0M929.2 215.8h0M928.6 226.9h0M929.1 210.5h0M930.5 233.0h0M930.4 212.6h0M930.2 214.9h0M930.4 213.4h0M930.2 265.7h0M929.8 235.6h0M930.3 226.2h0M929.7 258.1h0M929.5 231.4h0M929.8 210.1h0M931.1 198.5h0M930.5 243.3h0M930.6 228.1h0M930.7 218.2h0M930.5 219.1h0M931.5 198.7h0M931.4 172.9h0M930.9 327.7h0M931.3 234.3h0M930.9 222.0h0M931.9 225.3h0M932.1 274.6h0M931.7 224.8h0M931.6 255.7h0M932.1 162.4h0M931.7 206.3h0M931.7 216.7h0M932.3 212.7h0M932.2 230.7h0M931.7 253.0h0M932.7 229.3h0M933.2 178.8h0M933.2 212.9h0M933.0 215.1h0M932.5 241.3h0M933.4 187.9h0M933.0 238.0h0M932.6 257.7h0M933.0 199.9h0M933.4 139.6h0M933.6 214.9h0M933.5 200.6h0M933.6 230.3h0M933.7 237.6h0M934.2 193.4h0M934.0 237.0h0M934.4 223.2h0M933.9 195.4h0M934.3 214.4h0M934.2 208.3h0M934.8 206.4h0M934.8 197.0h0M934.8 218.3h0M934.5 208.5h0M934.9 196.2h0M935.2 194.6h0M935.3 238.7h0M934.9 221.3h0M934.8 206.9h0M935.2 241.7h0M936.1 242.2h0M936.1 202.2h0M936.1 276.3h0M936.1 256.0h0M936.2 339.1h0M936.3 214.8h0M936.2 188.9h0M935.9 225.8h0M935.9 242.9h0M936.5 205.2h0M937.5 285.6h0M937.1 270.1h0M936.9 233.3h0M936.9 259.4h0M936.8 249.5h0M937.4 240.6h0M936.8 210.3h0M936.7 253.2h0M937.1 284.1h0M936.6 206.1h0M938.0 212.6h0M938.0 194.4h0M937.7 320.4h0M937.9 218.2h0M937.5 205.1h0M937.8 187.9h0M938.4 167.5h0M938.4 236.8h0M937.7 199.1h0M937.5 328.0h0M938.7 224.1h0M939.3 265.2h0M939.2 231.8h0M938.6 260.8h0M938.8 234.7h0M938.9 328.2h0M939.2 279.7h0M939.0 211.7h0M939.5 255.7h0M938.9 255.9h0M940.4 287.0h0M940.1 242.1h0M940.1 282.4h0M939.6 275.1h0M939.8 301.5h0M939.5 263.8h0M939.8 250.1h0M940.0 243.0h0M940.2 274.3h0M939.7 296.1h0M940.7 274.9h0M940.9 247.0h0M941.4 250.7h0M941.4 284.2h0M941.0 236.0h0M940.9 233.4h0M940.6 298.3h0M940.7 347.9h0M940.9 239.9h0M941.3 221.6h0M942.5 252.5h0M942.1 241.5h0M942.4 246.4h0M942.1 236.6h0M942.2 290.1h0M942.4 246.9h0M941.5 248.4h0M942.0 261.9h0M941.6 330.9h0M941.6 239.1h0M943.4 325.2h0M943.3 230.7h0M942.9 274.6h0M943.4 287.3h0M942.9 201.1h0M942.6 252.1h0M942.8 246.3h0M943.2 293.0h0M943.1 276.5h0M942.6 322.2h0M943.8 268.6h0M943.9 357.9h0M944.0 270.4h0M943.5 226.6h0M944.0 269.5h0M943.8 234.3h0M944.1 272.3h0M944.0 270.0h0M944.0 260.6h0M944.0 214.4h0M945.1 268.0h0M945.4 292.0h0M945.1 238.0h0M944.6 292.8h0M944.9 269.1h0M944.8 225.7h0M945.2 306.5h0M944.6 259.0h0M945.0 264.3h0M945.4 263.5h0M945.5 338.9h0M945.7 318.1h0M945.8 318.5h0M946.1 324.8h0M945.9 304.9h0M946.3 261.6h0M946.4 229.2h0M946.1 267.4h0M946.2 362.7h0M946.6 254.3h0M947.1 352.6h0M947.4 300.0h0M947.2 256.1h0M947.2 326.4h0M947.1 283.5h0M947.0 209.0h0M947.4 263.6h0M947.4 317.2h0M947.7 260.9h0M947.5 326.6h0M948.4 325.9h0M948.2 295.6h0M948.2 277.4h0M947.8 264.0h0M947.7 342.9h0M947.6 341.7h0M948.5 308.6h0M948.2 298.4h0M949.3 353.0h0M948.9 304.3h0M949.3 297.4h0M948.9 287.2h0M949.0 329.4h0M948.8 298.5h0M949.0 310.6h0M948.8 250.6h0M948.7 327.6h0M949.7 284.9h0M950.3 289.1h0M950.4 360.0h0M949.7 287.6h0M950.4 321.0h0M950.0 292.5h0M950.2 298.4h0M950.0 296.9h0M949.6 292.3h0M950.0 268.0h0M951.4 282.0h0M951.5 258.7h0M951.0 320.7h0M950.8 310.3h0M951.4 314.4h0M950.7 315.4h0M950.6 315.3h0M950.6 354.0h0M951.0 333.0h0M951.1 290.7h0M951.9 339.5h0M952.3 332.0h0M952.3 279.3h0M951.5 302.2h0M952.4 282.4h0M951.6 346.0h0M951.9 321.3h0M953.0 355.6h0M953.1 365.6h0M953.0 297.0h0M952.9 317.8h0M953.2 336.5h0M953.1 335.4h0M952.6 313.4h0M952.9 267.3h0M954.3 312.1h0M954.4 301.5h0M954.2 288.7h0M953.8 305.9h0M954.1 364.9h0M954.0 315.5h0M954.1 286.4h0M954.5 237.2h0M954.4 309.7h0M954.4 290.4h0M954.9 363.9h0M955.4 325.2h0M954.7 312.8h0M955.3 297.9h0M955.2 292.6h0M954.6 307.6h0M955.5 365.7h0M955.3 336.2h0M954.8 266.8h0M956.3 276.3h0M956.4 315.6h0M955.9 295.5h0M955.9 319.5h0M955.6 292.5h0M956.1 349.5h0M955.7 289.1h0M956.4 275.6h0M956.0 295.0h0M956.8 326.7h0M956.6 341.5h0M957.1 292.3h0M957.1 299.5h0M957.3 302.6h0M957.2 297.2h0M956.6 305.4h0M956.9 362.6h0M956.9 333.7h0M957.2 303.0h0M957.7 289.3h0M957.5 270.6h0M957.5 269.6h0M958.4 315.5h0M958.3 325.7h0M957.6 269.5h0M957.6 316.0h0M957.9 311.1h0M958.1 270.2h0M958.8 248.2h0M958.8 248.0h0M959.2 287.3h0M959.0 248.0h0M958.8 325.3h0M959.1 237.0h0M959.3 307.5h0M959.0 328.2h0M960.1 318.1h0M960.0 289.6h0M959.7 275.2h0M959.7 309.0h0M960.1 317.7h0M960.1 265.9h0M960.0 283.7h0M960.0 225.3h0M960.2 254.6h0M961.1 325.6h0M960.8 306.8h0M960.8 274.4h0M960.8 294.2h0M961.5 276.3h0M961.2 313.2h0M960.8 245.5h0M960.9 257.2h0M960.7 271.4h0M962.4 203.4h0M962.4 261.2h0M962.1 291.6h0M962.4 281.5h0M961.8 254.5h0M962.0 314.3h0M962.4 272.2h0M961.7 283.2h0M962.4 349.7h0M962.1 243.3h0M963.0 284.6h0M963.3 253.7h0M962.6 249.9h0M963.5 252.8h0M963.4 322.6h0M963.0 290.2h0M963.1 267.1h0M962.9 252.2h0M963.0 245.6h0M962.9 314.3h0M963.6 261.5h0M964.0 220.3h0M964.1 288.8h0M963.6 274.0h0M963.5 270.5h0M963.6 279.3h0M964.4 245.3h0M964.4 323.7h0M964.3 273.8h0M964.1 334.6h0M965.2 278.9h0M965.4 230.3h0M964.7 335.6h0M964.8 274.8h0M964.8 346.3h0M964.9 260.2h0M964.6 261.9h0M965.4 245.8h0M964.9 259.4h0M965.5 255.3h0M966.3 250.3h0M966.3 264.9h0M965.7 340.8h0M965.5 274.6h0M966.0 317.1h0M965.5 206.2h0M965.7 224.8h0M965.9 262.4h0M966.7 306.2h0M967.0 248.1h0M967.0 253.0h0M967.3 257.5h0M967.0 229.1h0M967.2 212.1h0M967.0 266.0h0M967.0 301.9h0M967.2 233.1h0M967.1 183.7h0M968.1 219.7h0M968.3 271.7h0M968.1 282.2h0M967.6 298.8h0M967.6 275.3h0M967.5 280.4h0M968.4 237.6h0M967.7 262.9h0M968.2 221.5h0M968.1 243.1h0M968.5 249.4h0M969.1 335.7h0M969.1 277.3h0M969.2 223.5h0M968.7 261.1h0M968.9 290.8h0M969.2 218.5h0M968.7 251.2h0M968.7 243.1h0M969.0 312.4h0M970.3 248.8h0M970.3 301.5h0M970.0 290.1h0M970.0 293.1h0M969.8 235.1h0M970.1 246.7h0M970.3 292.5h0M969.7 248.6h0M969.6 272.6h0M970.5 249.1h0M971.2 272.2h0M970.6 242.4h0M971.0 225.4h0M970.6 290.8h0M971.0 255.8h0M970.6 262.0h0M971.1 315.9h0M970.8 136.9h0M971.3 269.5h0M972.3 270.2h0M971.9 236.9h0M972.2 259.0h0M971.5 243.5h0M971.7 314.5h0M972.3 224.1h0M972.4 242.2h0M972.4 246.8h0M972.4 250.4h0M972.5 264.0h0M972.7 221.8h0M972.6 251.3h0M973.3 247.5h0M972.9 273.1h0M972.7 190.4h0M973.1 255.0h0M972.6 276.5h0M972.7 233.1h0M973.3 251.8h0M972.6 233.5h0M974.3 295.2h0M973.8 300.8h0M973.6 221.5h0M974.2 311.7h0M973.9 268.8h0M974.3 279.9h0M974.2 228.6h0M973.9 258.4h0M974.3 232.9h0M973.6 244.2h0M975.4 214.2h0M974.8 258.3h0M975.3 262.3h0M975.1 293.1h0M975.3 286.6h0M975.4 262.0h0M975.2 247.8h0M975.3 249.8h0M975.2 239.6h0M974.5 276.5h0M975.6 239.9h0M976.1 280.2h0M975.5 235.3h0M976.1 240.6h0M975.5 311.8h0M975.9 308.7h0M976.2 224.9h0M975.6 254.9h0M975.7 204.1h0M975.7 244.5h0M977.2 248.4h0M977.4 229.3h0M977.1 246.1h0M977.1 364.4h0M977.2 204.6h0M977.0 228.9h0M977.4 251.4h0M976.9 223.3h0M976.8 263.1h0M976.5 218.9h0M978.2 224.5h0M977.6 234.2h0M978.3 204.5h0M978.5 223.2h0M978.3 256.5h0M978.0 230.6h0M977.9 281.2h0M978.4 181.6h0M978.2 225.9h0M977.6 284.3h0M978.8 191.4h0M979.2 211.7h0M979.2 247.2h0M979.5 197.4h0M978.6 258.7h0M979.0 201.8h0M978.6 247.0h0M978.8 248.6h0M978.5 222.0h0M978.6 227.5h0M979.5 179.8h0M980.2 228.5h0M980.2 183.8h0M979.9 213.0h0M980.3 218.1h0M979.9 227.5h0M980.1 226.5h0M979.9 170.0h0M979.7 238.3h0M980.5 207.1h0M981.3 164.2h0M980.6 229.7h0M981.3 217.3h0M981.2 175.6h0M981.4 220.3h0M980.6 221.7h0M980.5 222.9h0M980.9 222.9h0M981.5 212.2h0M981.2 182.4h0M981.8 171.8h0M982.4 172.2h0M982.4 260.0h0M981.7 196.3h0M981.6 225.0h0M981.6 194.1h0M982.2 175.2h0M981.7 170.0h0M982.4 170.5h0M981.6 235.8h0M982.8 188.0h0M983.3 182.4h0M983.5 186.4h0M983.4 186.8h0M983.1 168.4h0M983.4 166.9h0M983.4 189.3h0M983.4 161.3h0M982.7 248.4h0M982.9 173.6h0M983.7 172.0h0M984.2 186.2h0M983.6 204.0h0M983.8 190.1h0M983.9 160.0h0M984.3 186.4h0M983.9 171.0h0M984.4 152.7h0M984.3 154.6h0M983.5 165.4h0M984.6 155.4h0M984.8 155.3h0M985.3 167.6h0M985.3 143.3h0M985.2 146.7h0M985.4 158.5h0M985.2 170.7h0M985.0 162.7h0M985.3 113.7h0M985.2 183.9h0M986.0 204.5h0M985.7 149.3h0M986.5 147.6h0M986.4 188.6h0M985.6 200.2h0M985.7 184.9h0M986.2 161.2h0M985.5 160.8h0M986.3 180.8h0M985.9 150.6h0M986.7 224.5h0M987.2 162.9h0M987.3 189.5h0M987.2 180.6h0M986.6 201.7h0M987.4 191.8h0M986.5 156.1h0M987.1 178.0h0M987.2 170.6h0M986.6 157.7h0M988.5 131.0h0M987.8 144.3h0M988.0 203.8h0M988.0 171.9h0M987.7 155.4h0M988.2 156.6h0M987.9 155.1h0M988.1 152.5h0M987.6 170.8h0M987.7 165.1h0M989.1 145.3h0M988.5 184.4h0M988.7 175.7h0M989.3 174.7h0M988.6 169.2h0M989.0 183.9h0M988.9 186.4h0M989.1 163.2h0M989.0 211.4h0M989.1 173.1h0M990.0 155.3h0M990.4 141.2h0M989.7 189.8h0M989.8 188.9h0M989.6 132.8h0M989.8 113.6h0M990.5 169.1h0M989.7 169.4h0M990.1 162.4h0M990.1 129.1h0M990.9 204.9h0M991.0 177.1h0M991.3 209.8h0M991.3 184.0h0M990.8 141.7h0M991.4 202.0h0M991.1 161.3h0M990.7 99.8h0M990.5 157.3h0M990.8 165.0h0M992.0 201.2h0M992.2 222.8h0M992.4 162.3h0M992.4 172.5h0M992.1 152.7h0M992.0 190.7h0M991.9 209.9h0M992.3 161.0h0M992.4 214.2h0M992.4 177.9h0M993.1 192.7h0M992.7 168.9h0M993.1 156.3h0M993.3 163.6h0M993.0 173.2h0M993.2 177.4h0M992.9 179.8h0M993.1 182.2h0M993.0 144.7h0M992.8 186.2h0M993.5 190.8h0M994.2 138.8h0M993.8 199.0h0M994.1 202.3h0M994.3 186.2h0M994.2 199.1h0M994.1 151.4h0M993.6 200.5h0M994.0 146.5h0M993.6 195.6h0M994.6 230.1h0M994.7 153.0h0M995.3 243.7h0M994.8 161.4h0M994.8 188.2h0M994.5 188.3h0M995.5 161.5h0M994.7 205.8h0M995.2 201.5h0M995.4 185.9h0M996.0 202.2h0M995.7 182.4h0M995.6 183.7h0M996.0 128.6h0M996.0 174.2h0M995.6 138.2h0M996.2 231.2h0M996.2 182.2h0M995.8 154.3h0M996.1 176.6h0M996.9 180.2h0M997.0 193.8h0M997.5 161.3h0M996.9 153.8h0M997.2 199.9h0M996.8 268.4h0M997.1 149.9h0M996.8 147.1h0M997.0 180.5h0M997.0 194.8h0M998.0 139.6h0M998.2 163.6h0M997.7 189.9h0M998.0 152.4h0M998.3 143.2h0M998.4 168.7h0M998.3 193.8h0M998.5 146.9h0M998.4 146.8h0M998.0 155.9h0M998.9 164.6h0M999.1 158.0h0M998.7 159.9h0M998.6 168.9h0M999.1 148.3h0M998.8 191.7h0M998.8 175.8h0M999.0 164.4h0M999.4 217.7h0M999.0 158.9h0M1000.3 127.4h0M999.9 186.7h0M1000.4 161.3h0M1000.3 198.5h0M1000.0 199.3h0M1000.4 187.9h0M999.9 161.5h0M999.6 231.8h0M1000.0 181.8h0M1000.4 164.1h0M1001.0 217.3h0M1001.3 142.8h0M1000.7 239.2h0M1000.6 141.9h0M1001.3 162.1h0M1001.1 160.3h0M1000.5 173.4h0M1000.8 225.6h0M1001.4 150.6h0M1001.1 166.0h0M1001.8 144.2h0M1002.0 201.0h0M1001.7 165.7h0M1001.5 172.2h0M1001.6 135.1h0M1001.5 168.6h0M1002.4 142.0h0M1001.8 109.4h0M1002.0 197.2h0M1002.0 171.1h0M1002.7 148.6h0M1002.5 138.3h0M1003.0 151.2h0M1003.0 145.3h0M1002.7 131.0h0M1003.4 138.5h0M1003.1 109.3h0M1002.8 133.2h0M1002.6 157.8h0M1003.0 145.3h0M1003.7 144.6h0M1004.2 179.9h0M1004.1 142.1h0M1003.5 136.9h0M1004.0 143.3h0M1003.8 163.3h0M1004.0 142.5h0M1004.1 149.8h0M1004.0 183.3h0M1004.0 143.3h0M1005.3 132.2h0M1004.9 143.7h0M1004.6 157.7h0M1005.1 173.3h0M1004.9 144.8h0M1004.9 114.2h0M1004.7 172.0h0M1005.4 115.4h0M1004.8 139.2h0M1005.1 106.5h0M1006.4 125.8h0M1006.0 135.2h0M1005.7 159.0h0M1006.3 132.1h0M1005.7 119.2h0M1006.0 153.2h0M1006.4 126.3h0M1005.8 138.5h0M1006.3 174.1h0M1006.0 154.6h0M1006.7 139.0h0M1007.5 139.4h0M1007.2 118.7h0M1006.5 155.1h0M1007.2 128.7h0M1006.7 114.3h0M1007.2 122.9h0M1007.3 135.2h0M1006.8 170.8h0M1006.7 133.7h0M1008.4 154.4h0M1008.1 153.2h0M1007.8 147.7h0M1007.8 183.6h0M1007.5 190.6h0M1008.4 178.0h0M1007.9 150.1h0M1007.9 140.0h0M1007.6 146.3h0M1008.1 139.2h0M1009.4 152.2h0M1009.2 142.1h0M1008.9 148.7h0M1009.2 160.6h0M1009.5 151.8h0M1009.4 165.7h0M1009.3 180.1h0M1009.0 134.5h0M1009.1 194.9h0M1009.5 193.1h0M1009.5 144.2h0M1009.8 161.9h0M1010.2 167.5h0M1009.7 148.3h0M1010.1 170.2h0M1010.0 174.0h0M1010.4 158.3h0M1010.5 153.0h0M1010.0 146.6h0M1010.0 153.8h0M1010.6 172.3h0M1011.1 150.3h0M1011.1 139.6h0M1011.0 198.8h0M1011.3 154.2h0M1010.8 168.9h0M1011.0 147.7h0M1011.1 163.9h0M1010.7 160.0h0M1011.1 168.1h0M1011.9 201.4h0M1011.6 114.1h0M1012.4 184.7h0M1012.0 126.8h0M1011.9 152.5h0M1011.8 138.2h0M1012.0 170.5h0M1011.6 173.9h0M1012.2 190.6h0M1011.6 158.8h0M1013.1 199.2h0M1013.0 177.2h0M1012.8 150.6h0M1012.6 160.6h0M1013.3 158.4h0M1012.6 129.6h0M1013.3 144.0h0M1012.8 165.4h0M1013.4 162.5h0M1012.6 187.6h0M1014.2 170.8h0M1014.1 155.7h0M1013.6 185.8h0M1014.2 152.8h0M1014.4 194.5h0M1014.4 178.8h0M1013.5 169.7h0M1013.8 173.3h0M1014.5 239.8h0M1013.7 193.9h0M1014.6 163.5h0M1015.5 169.4h0M1014.8 196.9h0M1015.2 214.8h0M1014.8 162.7h0M1014.6 180.0h0M1015.3 204.1h0M1014.9 203.4h0M1015.1 254.8h0M1015.1 173.7h0M1016.0 196.2h0M1015.5 170.3h0M1016.3 193.5h0M1016.2 173.4h0M1016.4 168.5h0M1015.6 178.2h0M1016.0 173.2h0M1016.3 174.8h0M1016.1 188.6h0M1015.9 199.3h0M1016.7 195.9h0M1017.3 154.1h0M1016.6 171.0h0M1017.3 151.9h0M1017.4 150.5h0M1016.7 143.5h0M1017.3 206.6h0M1016.7 144.6h0M1017.2 192.8h0M1017.0 206.4h0M1018.3 219.3h0M1017.8 177.0h0M1018.4 216.0h0M1018.4 283.7h0M1018.5 160.7h0M1018.0 165.3h0M1017.8 185.2h0M1017.5 177.1h0M1018.4 229.9h0M1017.8 177.4h0M1018.9 192.7h0M1018.7 222.5h0M1019.4 236.5h0M1019.0 206.9h0M1019.3 193.8h0M1019.2 257.0h0M1018.6 198.3h0M1018.9 211.1h0M1018.7 240.1h0M1019.3 251.5h0M1020.4 157.4h0M1019.8 266.0h0M1020.0 281.5h0M1019.7 180.4h0M1019.9 216.4h0M1019.7 191.1h0M1019.6 239.2h0M1019.6 195.6h0M1020.1 179.8h0M1019.8 204.2h0M1021.0 241.6h0M1020.9 167.0h0M1021.4 245.0h0M1020.8 225.1h0M1021.1 216.6h0M1020.7 229.2h0M1021.0 247.0h0M1021.1 206.2h0M1021.2 165.8h0M1020.6 147.0h0M1021.8 200.6h0M1022.4 234.4h0M1021.9 243.6h0M1022.5 208.9h0M1021.8 252.8h0M1022.3 193.1h0M1022.0 215.1h0M1021.9 194.0h0M1021.5 171.7h0M1022.5 249.0h0M1023.1 217.6h0M1023.0 212.9h0M1022.7 240.2h0M1023.2 213.9h0M1023.5 218.1h0M1023.5 194.6h0M1022.9 281.7h0M1022.8 214.6h0M1023.1 261.2h0M1023.3 217.2h0M1024.0 223.3h0M1023.9 200.4h0M1023.7 195.5h0M1024.4 202.7h0M1024.4 188.0h0M1023.9 273.2h0M1024.5 173.2h0M1023.6 230.6h0M1024.0 330.4h0M1024.4 180.0h0M1025.2 285.3h0M1025.3 257.4h0M1024.6 271.4h0M1024.8 202.7h0M1025.2 222.9h0M1024.6 331.2h0M1025.5 223.2h0M1025.1 226.2h0M1025.1 233.7h0M1024.6 190.5h0M1026.1 139.8h0M1026.0 228.8h0M1026.0 188.2h0M1025.8 234.6h0M1025.9 219.3h0M1025.5 203.4h0M1025.5 224.0h0M1026.2 321.8h0M1026.3 224.7h0M1025.6 162.6h0M1027.3 193.3h0M1027.4 259.7h0M1027.0 212.6h0M1026.9 213.1h0M1026.7 245.0h0M1027.4 221.9h0M1026.6 262.2h0M1026.8 225.7h0M1027.2 251.8h0M1026.6 210.7h0M1028.0 224.9h0M1027.8 217.5h0M1027.7 223.8h0M1027.7 210.9h0M1027.9 261.0h0M1027.5 261.5h0M1028.1 218.5h0M1028.2 279.5h0M1027.6 243.8h0M1028.2 232.3h0M1029.2 186.6h0M1029.2 280.4h0M1028.8 220.7h0M1028.8 282.8h0M1028.8 224.5h0M1029.2 220.1h0M1029.1 197.3h0M1028.7 214.8h0M1029.1 241.2h0M1029.3 199.1h0M1030.1 193.6h0M1030.2 179.2h0M1030.4 226.9h0M1029.9 198.4h0M1030.3 182.4h0M1029.9 182.1h0M1030.0 184.9h0M1029.6 213.2h0M1029.9 194.1h0M1030.2 149.4h0M1030.7 206.8h0M1031.2 210.5h0M1031.3 165.2h0M1030.8 235.3h0M1031.2 221.2h0M1030.9 165.9h0M1030.7 282.5h0M1031.4 232.7h0M1030.8 252.2h0M1030.9 196.8h0M1031.6 165.1h0M1032.3 168.2h0M1031.8 219.6h0M1032.0 220.6h0M1031.6 228.2h0M1032.4 215.4h0M1032.2 180.6h0M1031.7 180.1h0M1032.3 197.6h0M1031.9 216.7h0M1033.4 171.0h0M1032.7 209.6h0M1032.7 176.1h0M1033.4 181.0h0M1032.5 189.0h0M1032.6 131.4h0M1032.7 252.0h0M1032.9 183.3h0M1033.0 122.1h0M1033.3 165.8h0M1034.3 173.8h0M1034.1 209.3h0M1034.1 145.9h0M1034.2 169.5h0M1033.7 183.5h0M1033.9 175.3h0M1033.8 245.6h0M1034.5 199.4h0M1034.0 166.1h0M1034.2 187.2h0M1035.1 222.5h0M1034.8 167.3h0M1035.0 191.0h0M1035.0 234.5h0M1035.1 142.2h0M1034.7 169.9h0M1035.0 171.9h0M1035.0 157.1h0M1034.7 193.7h0M1035.3 166.9h0M1036.2 146.7h0M1035.7 115.4h0M1036.2 166.2h0M1036.3 141.7h0M1035.6 158.9h0M1036.3 145.0h0M1036.4 188.1h0M1036.0 176.8h0M1035.8 202.3h0M1036.3 160.9h0M1037.0 169.8h0M1036.5 139.5h0M1037.4 149.3h0M1036.6 171.0h0M1037.1 139.0h0M1037.0 173.4h0M1036.7 203.2h0M1037.0 167.4h0M1036.9 110.8h0M1037.0 156.6h0M1038.1 166.5h0M1037.5 157.0h0M1038.2 199.3h0M1038.2 183.5h0M1038.1 167.3h0M1037.6 163.5h0M1038.1 151.9h0M1037.7 146.7h0M1038.3 181.5h0M1037.6 223.6h0M1038.9 167.3h0M1039.3 144.5h0M1039.3 180.3h0M1038.8 151.1h0M1038.8 129.8h0M1039.5 195.6h0M1039.0 165.7h0M1039.4 158.7h0M1039.4 130.6h0M1039.2 148.6h0M1040.0 144.5h0M1040.3 163.1h0M1040.0 192.0h0M1040.2 188.5h0M1039.8 128.5h0M1039.5 162.3h0M1040.2 180.0h0M1040.0 169.7h0M1039.5 177.8h0M1039.7 187.7h0M1040.8 138.5h0M1041.1 195.1h0M1040.8 164.9h0M1041.3 215.2h0M1040.7 145.6h0M1041.5 169.8h0M1041.2 198.8h0M1040.7 181.8h0M1040.6 151.8h0M1041.2 150.9h0M1041.8 187.7h0M1042.5 194.5h0M1041.8 155.1h0M1041.9 142.3h0M1042.3 137.6h0M1042.2 151.7h0M1042.3 152.0h0M1041.7 125.2h0M1041.6 168.9h0M1042.4 169.2h0M1042.8 203.0h0M1042.8 137.8h0M1043.2 181.1h0M1043.2 142.0h0M1043.4 149.9h0M1042.9 147.3h0M1043.0 184.9h0M1042.9 147.7h0M1042.7 142.2h0M1043.2 132.8h0M1044.0 142.9h0M1043.6 168.7h0M1044.1 159.5h0M1044.1 123.6h0M1043.9 157.1h0M1043.6 148.4h0M1043.7 199.4h0M1044.0 146.4h0M1043.9 148.0h0M1043.7 138.1h0M1044.5 148.0h0M1045.1 144.1h0M1044.6 157.0h0M1044.8 119.4h0M1044.9 144.5h0M1044.7 172.2h0M1044.7 137.8h0M1044.8 129.2h0M1044.9 143.7h0M1044.9 160.4h0M1046.3 191.1h0M1046.3 145.2h0M1045.6 188.6h0M1045.9 132.1h0M1045.7 124.3h0M1046.2 176.6h0M1045.6 152.5h0M1046.0 178.8h0M1046.0 157.3h0M1046.3 152.5h0M1047.3 201.6h0M1047.0 164.0h0M1046.5 116.9h0M1046.6 189.5h0M1047.4 164.6h0M1047.3 149.1h0M1047.4 172.9h0M1046.6 174.8h0M1047.1 164.8h0M1047.3 151.6h0M1048.2 133.2h0M1047.8 159.2h0M1047.8 252.6h0M1048.0 183.5h0M1047.6 130.8h0M1048.3 151.3h0M1047.7 193.1h0M1048.3 276.2h0M1048.3 173.2h0M1048.3 217.4h0M1049.2 178.9h0M1049.1 140.1h0M1048.7 180.1h0M1048.5 164.8h0M1048.6 163.5h0M1049.1 145.1h0M1049.5 161.7h0M1048.8 168.1h0M1049.1 156.8h0M1049.2 196.0h0M1050.3 173.0h0M1049.5 156.4h0M1050.1 196.5h0M1049.7 145.8h0M1049.6 146.6h0M1049.6 169.7h0M1049.9 193.7h0M1050.4 169.5h0M1049.6 190.9h0M1050.0 183.7h0M1050.8 147.0h0M1051.4 174.7h0M1050.6 151.7h0M1051.5 144.9h0M1051.0 190.5h0M1051.2 215.1h0M1050.5 157.4h0M1050.9 171.1h0M1050.7 127.1h0M1050.9 142.3h0M1052.0 159.0h0M1051.9 152.9h0M1052.1 174.4h0M1052.2 164.1h0M1052.1 140.1h0M1052.1 200.4h0M1052.5 244.0h0M1052.1 157.3h0M1051.9 173.8h0M1051.9 194.7h0M1052.9 136.5h0M1053.1 153.1h0M1053.1 145.8h0M1053.4 182.5h0M1053.0 193.3h0M1053.4 205.7h0M1053.3 187.5h0M1052.7 237.0h0M1053.0 173.6h0M1053.5 195.3h0M1053.6 181.5h0M1053.7 155.1h0M1054.2 217.0h0M1053.8 213.0h0M1053.9 169.3h0M1054.0 203.9h0M1054.2 129.2h0M1053.9 190.1h0M1053.7 171.9h0M1053.8 167.6h0M1054.9 180.7h0M1054.6 180.9h0M1055.1 264.3h0M1055.3 215.1h0M1054.9 207.3h0M1054.6 171.3h0M1054.9 147.5h0M1054.8 174.6h0M1055.2 159.9h0M1055.3 123.2h0M1055.6 187.0h0M1055.7 184.9h0M1055.9 157.0h0M1055.9 173.0h0M1056.4 178.5h0M1056.4 165.7h0M1055.7 119.1h0M1055.7 252.1h0M1056.2 172.0h0M1056.3 177.8h0M1056.5 200.3h0M1056.9 194.1h0M1057.2 153.4h0M1056.6 174.9h0M1056.9 185.1h0M1057.2 202.5h0M1056.9 157.5h0M1056.7 159.3h0M1057.4 258.3h0M1056.6 153.1h0M1057.9 165.3h0M1058.1 158.7h0M1058.1 189.4h0M1058.5 157.5h0M1058.1 203.9h0M1058.3 157.7h0M1057.6 230.1h0M1058.3 181.9h0M1058.1 118.8h0M1058.2 202.4h0M1058.7 175.5h0M1058.6 192.9h0M1059.4 204.0h0M1059.1 193.0h0M1059.3 156.9h0M1059.4 175.2h0M1059.2 194.1h0M1058.6 245.1h0M1059.3 221.2h0M1058.5 109.3h0M1059.9 209.8h0M1060.2 220.9h0M1059.6 182.0h0M1059.5 200.2h0M1060.0 242.2h0M1059.9 221.5h0M1059.9 201.0h0M1060.3 217.3h0M1059.7 214.8h0M1059.8 158.7h0M1060.9 213.8h0M1061.4 221.1h0M1061.4 251.7h0M1060.8 187.8h0M1061.0 208.6h0M1061.3 173.9h0M1061.1 220.7h0M1061.0 194.3h0M1060.5 218.1h0M1061.2 205.3h0M1061.8 189.8h0M1061.7 249.2h0M1061.7 183.5h0M1062.2 224.1h0M1061.9 218.9h0M1062.4 258.1h0M1062.0 199.5h0M1062.2 187.8h0M1062.0 198.9h0M1061.6 207.6h0M1062.7 218.7h0M1063.3 224.6h0M1063.3 258.7h0M1062.9 223.5h0M1063.3 246.4h0M1062.7 246.4h0M1063.1 205.8h0M1063.1 220.3h0M1062.7 245.1h0M1062.6 185.7h0M1064.3 208.5h0M1063.6 184.6h0M1064.0 199.3h0M1063.7 197.4h0M1063.9 266.1h0M1063.8 173.1h0M1063.6 232.8h0M1064.1 242.2h0M1064.0 216.0h0M1063.8 225.8h0M1064.9 249.3h0M1064.8 295.6h0M1064.8 198.7h0M1065.4 264.7h0M1065.4 257.4h0M1065.0 250.1h0M1065.3 259.1h0M1064.5 247.9h0M1065.1 229.0h0M1064.6 261.8h0M1065.8 224.0h0M1065.9 291.3h0M1065.9 283.6h0M1065.8 321.5h0M1066.0 277.6h0M1065.9 277.0h0M1065.9 258.6h0M1066.3 225.0h0M1065.8 205.1h0M1065.6 201.0h0M1067.0 279.4h0M1066.7 355.3h0M1067.3 273.3h0M1067.0 267.7h0M1067.1 278.3h0M1066.6 315.1h0M1067.0 281.3h0M1067.1 290.7h0M1066.5 220.1h0M1066.5 248.6h0M1068.1 349.6h0M1067.5 242.9h0M1067.5 304.7h0M1067.8 270.2h0M1068.2 309.0h0M1067.9 283.6h0M1068.2 268.4h0M1067.8 332.9h0M1068.2 316.6h0M1067.7 284.2h0M1069.3 338.8h0M1069.0 280.3h0M1068.7 247.7h0M1068.7 259.4h0M1069.2 238.3h0M1069.2 322.2h0M1068.5 246.3h0M1068.6 301.7h0M1069.5 257.3h0M1068.7 288.6h0M1070.2 253.9h0M1070.3 317.7h0M1070.4 298.0h0M1070.3 237.9h0M1069.6 276.8h0M1070.0 281.8h0M1070.2 332.4h0M1070.0 245.5h0M1070.2 346.7h0M1070.8 323.7h0M1071.1 290.2h0M1070.6 306.3h0M1070.7 217.5h0M1071.2 223.3h0M1071.0 270.1h0M1070.8 264.8h0M1070.7 282.8h0M1070.5 236.9h0M1071.2 227.6h0M1071.7 314.8h0M1071.7 240.7h0M1072.2 282.3h0M1071.9 254.6h0M1071.7 244.3h0M1071.8 320.6h0M1071.5 343.6h0M1072.2 264.7h0M1071.5 250.3h0M1071.5 259.2h0M1072.6 322.9h0M1072.5 292.5h0M1073.3 358.7h0M1073.3 287.2h0M1073.0 272.0h0M1072.8 230.0h0M1073.0 311.8h0M1072.7 260.6h0M1072.7 362.4h0M1073.4 279.6h0M1074.4 240.5h0M1073.6 296.1h0M1073.6 277.7h0M1073.9 278.1h0M1074.1 266.4h0M1074.4 262.0h0M1074.2 265.0h0M1074.1 282.8h0M1074.3 261.8h0M1073.7 275.8h0M1074.8 331.1h0M1075.1 284.8h0M1074.6 299.1h0M1075.5 254.9h0M1074.7 249.0h0M1075.0 313.4h0M1074.7 269.3h0M1074.6 274.9h0M1075.3 335.1h0M1075.3 294.8h0M1076.0 249.4h0M1076.2 252.3h0M1076.5 262.9h0M1076.2 278.0h0M1076.0 305.2h0M1075.6 334.5h0M1076.4 249.0h0M1076.2 254.5h0M1075.7 253.9h0M1075.8 186.9h0M1076.9 226.3h0M1076.7 256.2h0M1077.4 228.4h0M1076.9 178.7h0M1076.7 214.3h0M1077.3 234.5h0M1076.9 247.2h0M1076.9 245.1h0M1077.0 290.4h0M1077.3 234.3h0M1077.9 222.1h0M1078.3 298.7h0M1077.8 303.6h0M1077.7 167.1h0M1077.6 268.5h0M1077.9 237.6h0M1077.8 264.4h0M1077.6 257.6h0M1078.0 216.6h0M1078.2 330.8h0M1079.4 259.5h0M1079.3 274.0h0M1078.9 252.1h0M1078.9 210.7h0M1078.6 217.2h0M1078.6 332.2h0M1079.1 278.3h0M1078.8 186.9h0M1079.1 217.4h0M1078.5 259.9h0M1080.0 199.7h0M1079.7 264.8h0M1080.0 211.3h0M1080.0 273.6h0M1079.7 222.7h0M1079.9 230.4h0M1080.0 233.9h0M1079.8 268.2h0M1080.3 290.2h0M1079.8 279.5h0M1081.1 224.0h0M1081.2 246.7h0M1081.3 291.4h0M1081.3 244.1h0M1080.8 219.0h0M1081.0 275.2h0M1081.0 221.4h0M1080.8 234.5h0M1081.2 239.6h0M1082.2 243.4h0M1081.8 274.8h0M1082.3 237.5h0M1082.4 264.6h0M1082.2 210.2h0M1081.8 288.2h0M1081.8 240.4h0M1082.4 247.4h0M1082.4 237.7h0M1081.6 260.9h0M1082.8 268.7h0M1083.3 219.4h0M1083.4 190.6h0M1083.4 231.3h0M1082.5 247.5h0M1083.2 298.4h0M1082.8 157.9h0M1082.7 266.2h0M1083.1 262.9h0M1082.6 204.6h0M1083.7 293.6h0M1083.8 303.1h0M1084.2 230.5h0M1083.8 238.7h0M1084.1 196.4h0M1083.6 278.1h0M1084.4 279.8h0M1084.0 280.0h0M1083.7 252.8h0M1084.5 223.3h0M1085.2 180.9h0M1084.8 273.5h0M1085.0 293.8h0M1085.3 170.4h0M1085.4 265.2h0M1084.6 214.8h0M1084.7 288.0h0M1085.1 251.8h0M1085.0 238.0h0M1084.7 232.8h0M1086.4 278.5h0M1086.4 248.8h0M1085.9 273.1h0M1085.5 356.8h0M1086.2 305.3h0M1086.2 221.7h0M1086.2 255.1h0M1085.9 266.3h0M1086.1 237.5h0M1086.5 315.3h0M1087.5 261.6h0M1087.1 224.7h0M1086.5 241.6h0M1087.2 286.6h0M1087.0 230.1h0M1086.5 238.1h0M1087.3 267.1h0M1086.5 290.7h0M1087.0 236.2h0M1088.5 201.5h0M1087.5 277.0h0M1087.8 262.3h0M1088.2 362.8h0M1087.7 328.1h0M1087.8 230.6h0M1088.0 236.2h0M1088.2 276.1h0M1087.6 272.8h0M1089.4 243.0h0M1089.0 261.2h0M1088.6 317.4h0M1088.8 272.1h0M1088.9 244.9h0M1088.7 261.8h0M1089.1 304.8h0M1089.0 225.9h0M1089.0 297.9h0M1090.0 258.8h0M1089.8 260.3h0M1089.8 255.4h0M1090.2 282.9h0M1089.6 273.6h0M1090.3 275.3h0M1089.9 311.1h0M1090.5 302.1h0M1090.0 294.4h0M1089.6 257.0h0M1090.6 266.0h0M1091.3 280.8h0M1090.7 299.6h0M1090.8 242.8h0M1090.5 349.7h0M1090.8 342.4h0M1090.8 260.7h0M1090.5 258.8h0M1091.3 271.8h0M1091.3 270.0h0M1091.8 301.1h0M1092.5 275.0h0M1091.8 210.9h0M1091.6 245.4h0M1092.3 298.6h0M1091.7 321.9h0M1091.6 289.7h0M1091.6 352.8h0M1092.0 218.1h0M1092.8 297.4h0M1093.3 275.8h0M1092.9 310.6h0M1092.6 333.6h0M1093.3 315.4h0M1092.7 191.0h0M1093.4 346.6h0M1093.5 318.4h0M1093.2 349.9h0M1093.0 350.6h0M1094.5 333.7h0M1094.0 340.1h0M1094.0 316.9h0M1093.7 262.6h0M1094.5 278.9h0M1093.6 292.6h0M1094.4 269.6h0M1094.3 309.2h0M1094.1 322.0h0M1093.8 272.0h0M1095.4 240.4h0M1095.1 297.2h0M1095.4 325.4h0M1095.4 284.3h0M1095.5 300.3h0M1095.3 329.6h0M1095.1 263.0h0M1094.5 297.7h0M1094.8 295.3h0M1095.1 285.3h0M1095.6 261.3h0M1095.7 312.6h0M1096.4 354.2h0M1095.6 340.3h0M1095.6 308.9h0M1096.4 295.4h0M1095.8 309.2h0M1096.0 296.9h0M1095.8 283.0h0M1096.6 325.4h0M1097.2 317.7h0M1096.9 277.9h0M1097.2 279.3h0M1096.9 304.0h0M1096.6 284.2h0M1097.5 320.8h0M1096.7 337.0h0M1097.1 322.3h0M1097.6 346.4h0M1098.1 307.1h0M1098.1 285.6h0M1098.2 344.6h0M1097.5 312.4h0M1097.8 315.8h0M1097.5 353.4h0M1097.6 352.4h0M1098.1 247.8h0M1098.5 194.5h0M1099.5 313.5h0M1099.3 322.1h0M1098.7 354.5h0M1098.5 363.1h0M1098.8 334.0h0M1098.6 353.9h0M1099.8 309.2h0M1100.1 332.5h0M1099.7 366.2h0M1100.1 315.6h0M1099.8 330.8h0M1100.2 346.7h0M1099.7 272.0h0M1099.6 301.4h0M1100.6 269.3h0M1100.8 328.1h0M1101.2 319.7h0M1100.9 345.4h0M1101.3 344.4h0M1100.9 325.9h0M1101.1 317.0h0M1100.9 318.3h0M1102.0 250.7h0M1101.5 318.0h0M1102.0 298.2h0M1102.0 202.5h0M1102.8 292.8h0M1103.0 349.6h0M1102.8 298.3h0M1102.9 343.3h0M1102.9 352.2h0M1102.6 293.6h0M1104.1 348.8h0M1104.2 343.7h0M1103.8 299.5h0M1104.4 330.2h0M1103.9 353.7h0M1103.6 274.6h0M1104.1 281.4h0M1104.4 338.8h0M1104.0 320.4h0M1104.9 317.8h0M1105.0 339.4h0M1105.1 347.9h0M1105.1 364.2h0M1105.3 366.4h0M1105.4 274.3h0M1104.8 310.5h0M1104.7 365.9h0M1105.5 331.2h0M1106.2 335.4h0M1106.0 328.4h0M1105.6 320.9h0M1105.7 289.1h0M1105.6 358.2h0M1105.6 310.9h0M1106.2 338.3h0M1106.8 312.8h0M1106.6 360.8h0M1107.1 356.0h0M1106.9 288.6h0M1107.2 335.7h0M1107.2 345.7h0M1106.6 305.6h0M1107.3 245.7h0M1107.7 303.5h0M1108.4 272.8h0M1107.9 306.3h0M1108.1 337.1h0M1108.0 278.8h0M1108.0 331.7h0M1107.9 290.2h0M1109.3 305.1h0M1108.8 346.7h0M1109.0 254.7h0M1109.4 275.1h0M1108.5 255.6h0M1109.3 279.9h0M1109.3 300.6h0M1108.6 280.2h0M1109.3 336.5h0M1110.3 304.7h0M1110.3 323.6h0M1110.4 303.6h0M1110.5 323.7h0M1109.7 295.7h0M1109.6 290.1h0M1110.1 288.2h0M1109.6 194.9h0M1109.6 190.6h0M1110.5 264.7h0M1110.6 268.7h0M1111.5 246.2h0M1110.6 247.2h0M1110.9 274.1h0M1111.2 337.9h0M1110.7 254.7h0M1110.6 330.3h0M1110.9 251.0h0M1111.5 217.8h0M1110.5 277.6h0M1112.1 316.5h0M1111.7 346.5h0M1111.7 296.2h0M1111.8 320.4h0M1112.4 297.7h0M1112.4 282.5h0M1111.6 250.7h0M1112.3 257.3h0M1111.9 296.2h0M1111.5 250.9h0M1112.5 271.2h0M1113.0 301.3h0M1112.6 301.6h0M1112.6 285.9h0M1113.0 210.7h0M1113.4 249.7h0M1113.4 198.9h0M1113.2 247.6h0M1113.0 276.2h0M1113.1 255.5h0M1113.9 304.2h0M1114.2 339.0h0M1113.9 255.2h0M1114.0 250.3h0M1114.3 279.0h0M1114.3 258.1h0M1114.1 266.8h0M1114.0 254.5h0M1113.6 272.0h0M1114.4 254.2h0M1114.6 301.8h0M1115.4 280.1h0M1115.0 255.3h0M1115.3 282.2h0M1114.9 224.7h0M1115.1 231.3h0M1115.5 220.8h0M1114.5 355.8h0M1115.0 284.8h0M1114.7 257.1h0M1116.1 260.5h0M1115.8 267.9h0M1115.6 199.8h0M1116.2 284.0h0M1116.4 200.6h0M1116.0 201.0h0M1115.6 274.6h0M1116.0 282.2h0M1116.2 292.8h0M1115.6 220.8h0M1117.1 261.0h0M1117.3 218.7h0M1117.3 233.4h0M1117.1 285.3h0M1116.6 269.2h0M1116.9 274.2h0M1117.0 211.5h0M1117.3 258.5h0M1116.7 266.4h0M1116.6 202.3h0M1117.5 324.0h0M1118.1 255.2h0M1117.6 243.2h0M1117.8 267.3h0M1117.5 222.8h0M1117.7 230.5h0M1117.7 246.2h0M1118.0 207.3h0M1118.2 211.4h0M1117.6 195.7h0M1119.3 223.8h0M1118.9 219.5h0M1118.8 213.7h0M1119.0 205.2h0M1119.5 176.9h0M1118.7 192.0h0M1118.6 236.3h0M1118.9 191.4h0M1118.7 197.0h0M1119.4 243.1h0M1119.8 208.3h0M1119.6 216.4h0M1120.1 177.6h0M1119.5 197.9h0M1119.6 190.1h0M1120.2 156.9h0M1120.0 276.0h0M1119.6 191.1h0M1120.3 236.7h0M1119.5 202.3h0M1121.0 179.3h0M1121.4 172.8h0M1121.3 153.4h0M1121.4 175.6h0M1120.6 186.8h0M1121.0 215.0h0M1121.5 211.6h0M1121.2 149.8h0M1121.1 166.9h0M1121.1 211.6h0M1122.4 185.8h0M1121.6 132.9h0M1121.8 177.6h0M1122.0 180.6h0M1121.8 170.2h0M1122.2 160.5h0M1121.8 173.9h0M1121.5 224.2h0M1121.9 166.6h0M1122.4 189.2h0M1122.9 151.7h0M1123.2 154.5h0M1122.9 200.0h0M1122.9 158.2h0M1123.3 160.0h0M1123.1 211.9h0M1122.7 160.1h0M1122.5 159.8h0M1123.0 168.9h0M1123.4 194.0h0M1124.0 157.9h0M1123.8 186.7h0M1124.2 148.9h0M1124.1 155.8h0M1123.9 165.0h0M1123.9 156.1h0M1124.5 162.2h0M1123.8 190.6h0M1124.2 192.6h0M1123.7 127.0h0M1124.5 181.3h0M1124.8 143.8h0M1125.3 165.2h0M1124.7 148.0h0M1125.0 148.4h0M1124.7 92.8h0M1124.8 211.9h0M1124.7 178.0h0M1125.0 131.5h0M1124.7 169.7h0M1125.7 209.3h0M1125.8 162.0h0M1125.7 117.5h0M1126.3 232.5h0M1125.7 131.4h0M1126.3 182.0h0M1126.0 159.9h0M1125.7 150.3h0M1126.4 196.7h0M1126.0 180.1h0M1127.0 154.9h0M1127.4 148.2h0M1127.1 145.0h0M1127.2 159.2h0M1126.5 175.9h0M1127.3 165.7h0M1126.8 152.0h0M1127.1 173.6h0M1126.9 181.3h0M1127.5 148.5h0M1128.4 162.8h0M1127.5 182.5h0M1127.5 168.2h0M1127.8 135.1h0M1127.7 193.4h0M1127.6 202.7h0M1128.4 182.7h0M1128.0 166.1h0M1127.6 171.4h0M1128.5 165.9h0M1129.3 161.0h0M1128.7 175.7h0M1128.7 156.9h0M1129.0 197.7h0M1128.9 156.7h0M1128.9 163.8h0M1128.8 165.9h0M1129.2 165.9h0M1128.6 212.4h0M1129.2 140.8h0M1130.2 139.8h0M1130.1 183.5h0M1129.5 173.4h0M1130.3 166.4h0M1130.5 151.4h0M1130.3 162.7h0M1129.5 190.5h0M1130.1 170.9h0M1129.5 158.4h0M1129.9 145.6h0M1130.9 95.7h0M1131.5 149.4h0M1131.2 159.6h0M1131.0 178.4h0M1131.1 163.8h0M1130.6 221.1h0M1131.1 142.6h0M1130.7 162.4h0M1130.9 156.8h0M1131.3 159.3h0M1131.7 219.5h0M1131.7 159.9h0M1131.8 172.5h0M1132.2 199.5h0M1131.8 185.8h0M1132.1 224.0h0M1132.5 204.6h0M1131.8 187.4h0M1132.2 181.3h0M1132.2 168.3h0M1133.0 186.9h0M1133.4 165.0h0M1133.4 255.6h0M1133.3 216.7h0M1132.8 172.5h0M1133.3 190.8h0M1132.7 246.9h0M1133.1 157.9h0M1133.4 169.5h0M1132.7 169.7h0M1134.3 163.1h0M1134.3 248.1h0M1134.4 175.8h0M1133.7 227.8h0M1133.7 169.7h0M1133.5 178.8h0M1134.3 206.7h0M1133.7 261.4h0M1134.3 202.1h0M1133.7 165.6h0M1134.6 164.6h0M1135.3 171.0h0M1134.6 192.0h0M1135.1 166.3h0M1135.3 162.3h0M1135.2 189.3h0M1135.0 200.0h0M1134.7 159.0h0M1135.4 174.9h0M1134.8 185.1h0M1136.0 190.9h0M1136.3 203.5h0M1136.2 184.6h0M1135.8 174.4h0M1135.6 181.3h0M1135.9 275.0h0M1135.7 181.9h0M1136.0 202.9h0M1136.5 227.7h0M1136.0 207.0h0M1137.0 221.1h0M1137.3 154.0h0M1136.9 186.1h0M1137.2 264.8h0M1137.3 172.3h0M1137.0 181.7h0M1137.2 203.0h0M1137.2 163.0h0M1137.0 159.7h0M1136.5 216.8h0M1138.1 226.0h0M1137.8 150.7h0M1137.6 189.2h0M1138.1 183.1h0M1138.0 166.4h0M1138.1 278.2h0M1138.3 191.3h0M1138.4 187.0h0M1138.4 222.2h0M1137.7 236.9h0M1139.2 198.9h0M1139.3 173.0h0M1139.3 237.3h0M1138.7 177.7h0M1139.0 160.2h0M1139.0 205.3h0M1139.4 219.2h0M1138.8 231.9h0M1138.7 204.0h0M1139.0 191.6h0M1140.3 264.3h0M1139.7 178.5h0M1140.5 220.9h0M1140.0 204.2h0M1139.9 272.2h0M1140.3 182.7h0M1140.5 191.7h0M1140.4 217.5h0M1140.2 193.5h0M1140.4 278.0h0M1141.3 274.2h0M1140.8 197.1h0M1141.1 208.6h0M1140.7 240.5h0M1141.1 149.8h0M1141.3 186.8h0M1141.3 188.0h0M1140.9 183.1h0M1140.7 224.0h0M1140.7 185.9h0M1142.3 178.6h0M1142.1 251.4h0M1142.5 170.5h0M1142.4 219.0h0M1142.1 225.9h0M1142.0 161.3h0M1141.9 204.3h0M1142.4 171.8h0M1141.6 275.2h0M1141.5 184.6h0M1143.3 261.2h0M1142.9 211.5h0M1143.4 240.0h0M1143.0 162.8h0M1143.2 192.5h0M1142.7 203.5h0M1143.3 191.2h0M1142.6 233.5h0M1142.7 171.8h0M1143.5 179.0h0M1144.4 206.0h0M1144.4 206.2h0M1143.6 201.9h0M1144.4 170.3h0M1143.6 201.7h0M1143.5 215.9h0M1143.5 224.9h0M1143.8 167.8h0M1144.1 199.9h0M1143.9 178.4h0M1145.2 214.1h0M1144.9 194.1h0M1145.5 162.6h0M1145.4 136.0h0M1144.6 174.7h0M1145.4 169.1h0M1145.2 200.6h0M1144.9 222.9h0M1145.1 247.6h0M1145.4 156.1h0M1146.2 195.8h0M1146.1 164.6h0M1146.4 147.3h0M1146.0 174.9h0M1145.5 195.3h0M1146.5 156.5h0M1146.3 168.7h0M1145.6 161.4h0M1146.2 167.4h0M1145.7 195.5h0M1146.7 171.5h0M1147.4 170.1h0M1147.5 273.6h0M1147.2 160.6h0M1146.7 205.4h0M1147.3 188.6h0M1146.8 148.8h0M1147.1 193.3h0M1147.4 152.7h0M1147.0 160.8h0M1147.6 193.0h0M1148.1 173.6h0M1148.2 160.7h0M1147.5 202.1h0M1148.0 144.5h0M1147.8 184.9h0M1148.1 145.8h0M1147.6 139.6h0M1147.6 144.7h0M1147.9 168.8h0M1149.3 171.6h0M1148.8 104.6h0M1149.0 167.6h0M1148.7 131.0h0M1149.3 148.8h0M1148.6 175.2h0M1148.7 196.0h0M1148.7 206.3h0M1148.6 137.1h0M1148.5 194.0h0M1149.8 115.4h0M1149.9 192.0h0M1149.6 178.1h0M1149.8 137.3h0M1149.8 145.5h0M1149.8 224.0h0M1150.4 143.1h0M1150.1 143.3h0M1149.8 163.2h0M1150.5 153.6h0M1150.5 132.5h0M1150.6 179.3h0M1150.8 158.5h0M1150.8 169.1h0M1150.7 146.8h0M1150.7 160.4h0M1151.3 205.1h0M1151.4 135.5h0M1151.2 121.4h0M1150.8 136.7h0M1152.2 157.6h0M1151.7 159.0h0M1152.1 212.7h0M1152.1 118.1h0M1151.8 207.6h0M1151.6 238.5h0M1152.3 191.9h0M1152.3 140.0h0M1152.3 204.8h0M1152.3 195.8h0" stroke="#d5d5d5" stroke-width="6" stroke-linecap="round" fill="none"/>
<path d="M178.5 155.8C179.1 155.2 179.9 153.9 182.0 152.0C184.1 150.1 188.5 144.0 190.8 144.6C193.1 145.2 194.2 151.6 196.0 155.8C197.8 160.0 199.5 162.8 201.3 169.8C203.1 176.8 204.8 187.5 206.6 198.0C208.3 208.5 210.1 228.7 211.8 233.0C213.5 237.3 215.3 223.4 217.0 224.0C218.7 224.6 220.5 229.2 222.0 236.5C223.5 243.8 224.6 258.4 226.0 268.0C227.4 277.6 229.0 292.6 230.4 294.4C231.8 296.2 233.0 286.5 234.6 278.6C236.2 270.7 238.3 254.3 240.0 247.0C241.7 239.7 243.3 235.9 245.0 234.7C246.7 233.5 248.6 236.2 250.4 240.0C252.2 243.8 253.9 251.1 255.7 257.5C257.5 263.9 259.4 273.4 261.0 278.6C262.6 283.9 263.8 288.8 265.5 289.0C267.2 289.2 269.3 282.9 271.5 280.0C273.7 277.1 276.8 275.4 278.5 271.6C280.2 267.9 280.8 265.7 282.0 257.5C283.2 249.3 284.0 230.1 285.5 222.5C287.0 214.9 289.1 209.7 290.8 212.0C292.6 214.3 294.4 228.9 296.0 236.5C297.6 244.1 299.0 261.0 300.6 257.5C302.2 254.0 303.6 230.6 305.5 215.4C307.4 200.2 309.6 176.2 311.8 166.3C314.0 156.4 316.5 159.3 318.9 155.8C321.3 152.3 323.6 149.1 326.0 145.3C328.4 141.5 331.0 134.2 333.0 133.0C335.0 131.8 336.3 133.7 338.0 138.0C339.7 142.3 341.6 152.0 343.4 159.0C345.2 166.0 346.6 174.7 348.7 180.0C350.8 185.3 353.6 186.3 355.7 191.0C357.8 195.7 359.3 198.5 361.0 208.4C362.7 218.3 364.5 236.7 366.0 250.5C367.5 264.3 368.8 284.0 370.0 291.0C371.2 298.0 372.0 298.2 373.5 292.6C375.0 287.0 376.8 265.7 378.8 257.5C380.9 249.3 383.5 245.8 385.8 243.5C388.1 241.2 390.8 241.2 392.8 243.5C394.8 245.8 396.2 253.7 398.0 257.5C399.8 261.3 401.8 263.1 403.3 266.3C404.8 269.5 405.4 278.3 406.8 276.8C408.2 275.3 410.0 264.2 412.0 257.5C414.0 250.8 416.9 244.7 419.0 236.5C421.1 228.3 422.3 216.3 424.4 208.4C426.5 200.5 429.3 189.6 431.4 189.0C433.4 188.4 434.9 196.5 436.7 205.0C438.5 213.5 440.6 232.4 442.0 240.0C443.4 247.6 444.2 252.8 445.4 250.5C446.6 248.2 447.5 238.9 449.0 226.0C450.5 213.1 452.4 185.6 454.2 173.3C455.9 161.0 457.4 158.4 459.5 152.3C461.6 146.2 464.2 140.6 466.5 136.5C468.8 132.4 471.4 129.2 473.5 127.7C475.6 126.2 477.3 126.2 478.8 127.7C480.3 129.2 480.9 131.2 482.3 136.5C483.8 141.8 485.8 152.0 487.5 159.3C489.2 166.6 490.8 174.6 492.8 180.4C494.9 186.2 497.8 189.7 499.8 194.4C501.8 199.1 503.2 199.1 505.0 208.4C506.8 217.8 508.9 236.5 510.4 250.5C511.9 264.5 512.7 281.5 513.9 292.6C515.1 303.7 516.1 316.0 517.4 317.2C518.7 318.4 520.2 313.1 521.6 299.6C523.0 286.2 524.7 249.9 526.0 236.5C527.3 223.1 528.1 221.3 529.6 219.0C531.1 216.7 533.2 219.6 535.0 222.5C536.8 225.4 538.5 228.3 540.2 236.5C541.9 244.7 543.6 261.7 545.4 271.6C547.1 281.5 549.2 293.7 550.7 296.0C552.2 298.3 552.7 295.5 554.2 285.6C555.7 275.7 558.0 255.2 559.5 236.5C561.0 217.8 561.8 186.2 563.0 173.3C564.2 160.4 565.6 161.6 566.5 159.3C567.4 157.0 567.3 155.8 568.5 159.3C569.7 162.8 571.8 172.2 573.8 180.4C575.8 188.6 578.5 196.7 580.8 208.4C583.1 220.1 586.0 245.2 587.8 250.5C589.5 255.8 589.8 250.5 591.3 240.0C592.8 229.5 594.9 200.8 596.6 187.4C598.4 174.0 599.8 166.9 601.8 159.3C603.8 151.7 606.3 147.4 608.9 141.8C611.5 136.2 615.0 129.2 617.6 126.0C620.2 122.8 622.5 120.5 624.6 122.5C626.7 124.5 628.2 131.5 630.0 138.2C631.8 144.9 633.8 158.1 635.2 162.8C636.7 167.5 637.2 163.4 638.7 166.3C640.2 169.2 642.2 174.0 644.0 180.4C645.8 186.8 647.8 195.7 649.2 205.0C650.7 214.3 651.4 223.1 652.7 236.5C654.0 249.9 655.5 273.0 657.0 285.6C658.5 298.2 660.2 309.7 661.5 312.0C662.8 314.3 663.8 307.5 665.0 299.6C666.2 291.7 667.3 274.5 668.5 264.6C669.7 254.7 670.6 245.6 672.0 240.0C673.4 234.4 675.1 231.2 676.6 231.2C678.1 231.2 679.2 236.8 680.8 240.0C682.4 243.2 684.2 247.3 686.0 250.5C687.8 253.7 689.5 256.9 691.3 259.3C693.1 261.7 695.1 268.4 696.6 264.6C698.1 260.8 698.8 250.5 700.0 236.5C701.2 222.5 702.1 197.1 703.6 180.4C705.1 163.7 707.4 144.4 708.9 136.5C710.4 128.6 710.9 130.4 712.4 133.0C713.9 135.6 715.9 145.6 717.6 152.3C719.4 159.0 721.1 166.3 722.9 173.3C724.7 180.3 726.5 184.5 728.2 194.4C730.0 204.3 731.9 227.7 733.4 233.0C734.9 238.3 735.8 233.6 737.0 226.0C738.2 218.4 739.2 198.5 740.4 187.4C741.6 176.3 742.2 165.5 744.0 159.3C745.8 153.2 749.0 152.8 751.0 150.5C753.0 148.2 754.5 149.7 756.2 145.3C758.0 140.9 760.0 128.6 761.5 124.2C763.0 119.8 763.8 121.0 765.0 119.0C766.2 117.0 767.6 110.0 768.8 112.0C770.0 114.0 771.1 121.5 772.3 131.2C773.5 140.9 774.6 157.7 775.8 170.0C777.0 182.3 778.1 196.2 779.3 205.0C780.5 213.8 781.3 220.2 782.8 222.5C784.2 224.8 786.2 216.7 788.0 219.0C789.8 221.3 791.8 228.3 793.3 236.5C794.8 244.7 795.6 256.3 796.8 268.0C798.0 279.7 799.0 295.9 800.4 306.7C801.8 317.5 803.6 330.7 805.0 333.0C806.4 335.3 807.7 327.4 809.0 320.7C810.3 314.0 811.1 302.2 812.6 292.6C814.1 283.0 816.3 268.7 818.0 262.8C819.7 256.9 821.3 257.8 823.0 257.5C824.7 257.2 826.6 261.6 828.4 261.0C830.2 260.4 831.9 256.9 833.7 254.0C835.5 251.1 837.2 252.8 839.0 243.5C840.8 234.2 842.5 212.6 844.2 198.0C846.0 183.4 847.8 165.5 849.5 155.8C851.2 146.1 853.0 141.5 854.7 140.0C856.5 138.5 858.2 142.9 860.0 147.0C861.8 151.1 863.5 159.0 865.3 164.6C867.0 170.2 869.0 173.7 870.5 180.4C872.0 187.1 872.8 196.8 874.0 205.0C875.2 213.2 876.3 225.4 877.5 229.5C878.7 233.6 879.8 235.3 881.0 229.5C882.2 223.7 883.1 205.5 884.6 194.4C886.1 183.3 888.1 169.0 889.8 162.8C891.5 156.7 893.2 161.9 895.0 157.5C896.8 153.1 898.6 140.6 900.4 136.5C902.2 132.4 904.2 131.5 905.6 133.0C907.0 134.5 907.5 138.6 909.0 145.3C910.5 152.0 912.6 162.8 914.4 173.3C916.2 183.8 917.8 198.2 919.6 208.4C921.4 218.6 923.5 231.2 925.0 234.7C926.5 238.2 926.9 231.8 928.4 229.5C929.9 227.2 931.9 218.9 933.7 220.7C935.5 222.4 937.2 231.5 939.0 240.0C940.8 248.5 942.2 259.3 944.2 271.6C946.2 283.9 949.2 309.0 951.2 313.7C953.2 318.4 955.0 304.9 956.5 299.6C958.0 294.3 958.8 288.1 960.3 282.0C961.8 275.9 963.8 266.6 965.5 262.8C967.2 259.0 969.0 261.9 970.8 259.3C972.5 256.7 974.4 255.5 976.0 247.0C977.6 238.5 978.8 220.7 980.3 208.4C981.8 196.1 983.5 180.6 984.8 173.3C986.1 166.0 986.8 163.7 988.3 164.6C989.8 165.5 992.1 176.0 993.6 178.6C995.1 181.2 995.5 184.8 997.0 180.4C998.5 176.0 1000.9 158.3 1002.4 152.3C1003.9 146.3 1004.5 142.3 1005.9 144.6C1007.3 146.9 1009.0 157.4 1011.0 166.3C1013.0 175.2 1015.6 187.5 1018.0 198.0C1020.4 208.5 1023.3 226.6 1025.2 229.5C1027.1 232.4 1027.7 225.9 1029.4 215.4C1031.2 204.9 1033.5 176.5 1035.7 166.3C1037.9 156.1 1040.7 154.9 1042.7 154.0C1044.8 153.1 1046.2 156.6 1048.0 161.0C1049.8 165.4 1051.5 175.4 1053.2 180.4C1055.0 185.4 1056.7 184.0 1058.5 191.0C1060.3 198.0 1062.3 209.1 1063.8 222.5C1065.3 235.9 1065.5 262.9 1067.3 271.6C1069.0 280.4 1072.4 280.3 1074.3 275.0C1076.2 269.7 1077.0 245.2 1078.5 240.0C1080.0 234.8 1081.4 239.4 1083.0 243.5C1084.6 247.6 1086.5 256.4 1088.3 264.6C1090.1 272.8 1091.8 283.2 1093.6 292.6C1095.4 302.0 1097.6 314.0 1098.9 320.7C1100.2 327.4 1100.5 333.6 1101.7 333.0C1102.9 332.4 1104.3 325.1 1105.9 317.2C1107.5 309.3 1109.3 296.7 1111.1 285.6C1112.8 274.5 1114.9 265.1 1116.4 250.5C1117.9 235.9 1118.5 212.6 1120.0 198.0C1121.5 183.4 1123.5 166.9 1125.2 162.8C1126.9 158.7 1128.7 168.0 1130.4 173.3C1132.2 178.6 1134.1 189.7 1135.7 194.4C1137.3 199.1 1138.5 203.2 1140.3 201.4C1142.0 199.7 1144.3 192.1 1146.2 183.9C1148.1 175.7 1150.6 157.6 1151.5 152.3" stroke="#5a5a5a" stroke-width="3.2" fill="none" stroke-linejoin="round"/>
<path d="M177.5 216.0 183.3 189.1 189.1 135.1 194.9 107.4 200.7 117.2 206.5 144.2 212.3 179.4 218.1 211.5 223.9 230.0 229.7 229.9 235.5 216.7 241.3 194.4 247.1 168.7 252.9 146.4 258.7 133.1 264.6 133.0 270.4 151.8 276.2 186.2 282.0 228.3 287.8 268.5 293.6 297.4 299.4 308.4 305.2 299.3 311.0 272.3 316.8 232.8 322.6 188.8 328.4 149.0 334.2 121.4 340.0 111.5 345.8 123.1 351.6 153.4 357.4 190.3 363.2 219.3 369.0 229.0 374.8 222.5 380.6 206.5 386.4 184.8 392.2 162.2 398.0 144.2 403.8 134.8 409.6 137.9 415.4 159.0 421.3 193.7 427.1 234.1 432.9 270.8 438.7 295.2 444.5 301.8 450.3 290.7 456.1 265.0 461.9 229.2 467.7 189.9 473.5 154.3 479.3 128.6 485.1 117.7 490.9 124.5 496.7 148.1 502.5 180.2 508.3 209.3 514.1 224.9 519.9 223.4 525.7 210.7 531.5 190.6 537.3 168.5 543.1 150.3 548.9 140.7 554.7 143.7 560.5 163.1 566.3 194.9 572.1 231.7 577.9 265.0 583.8 287.0 589.6 292.7 595.4 281.9 601.2 257.2 607.0 223.3 612.8 186.6 618.6 154.1 624.4 132.0 630.2 124.5 636.0 132.9 641.8 154.5 647.6 182.6 653.4 208.1 659.2 223.1 665.0 223.6 670.8 213.2 676.6 195.5 682.4 175.3 688.2 158.0 694.0 148.5 699.8 150.0 705.6 165.5 711.4 192.0 717.2 223.7 723.0 253.6 728.8 275.1 734.6 283.5 740.4 277.0 746.3 257.1 752.1 227.7 757.9 194.4 763.7 163.8 769.5 141.8 775.3 132.6 781.1 138.2 786.9 156.7 792.7 182.4 798.5 207.0 804.3 222.9 810.1 225.4 815.9 218.4 821.7 204.7 827.5 187.8 833.3 171.5 839.1 159.8 844.9 155.5 850.7 162.7 856.5 182.8 862.3 210.8 868.1 239.7 873.9 262.2 879.7 272.6 885.5 268.9 891.3 252.5 897.1 226.8 902.9 196.6 908.8 168.0 914.6 146.4 920.4 136.0 926.2 139.1 932.0 155.1 937.8 179.3 943.6 204.8 949.4 224.3 955.2 232.0 961.0 227.8 966.8 215.4 972.6 197.8 978.4 179.2 984.2 164.3 990.0 156.6 995.8 159.0 1001.6 174.4 1007.4 198.9 1013.2 226.3 1019.0 249.5 1024.8 262.5 1030.6 262.1 1036.4 249.1 1042.2 226.3 1048.0 198.4 1053.8 170.9 1059.6 149.6 1065.4 138.8 1071.3 141.0 1077.1 156.3 1082.9 180.8 1088.7 208.4 1094.5 231.7 1100.3 244.9 1106.1 244.8 1111.9 232.8 1117.7 212.3 1123.5 188.6 1129.3 167.7 1135.1 155.1 1140.9 156.0 1146.7 180.2 1152.5 196.0" stroke="#2174e0" stroke-width="3.4" fill="none" stroke-linejoin="round"/></g>
<g clip-path="url(#cb)"><path d="M177.7 709.6h0M177.9 727.5h0M178.6 723.0h0M179.7 718.9h0M180.2 721.8h0M181.0 724.4h0M181.8 713.1h0M182.4 699.8h0M182.9 706.6h0M183.8 716.3h0M184.4 719.0h0M184.8 726.6h0M185.5 691.0h0M186.4 711.2h0M186.9 743.4h0M187.5 666.7h0M188.6 671.2h0M188.8 710.6h0M189.7 716.4h0M190.4 689.0h0M191.3 705.7h0M191.5 704.3h0M192.2 747.6h0M192.8 668.6h0M193.5 720.3h0M194.4 688.9h0M195.0 694.7h0M195.5 756.9h0M196.2 646.1h0M197.3 710.5h0M197.9 676.7h0M198.5 654.4h0M198.9 681.0h0M200.1 686.9h0M200.3 622.4h0M201.0 659.0h0M202.0 680.8h0M202.3 681.6h0M203.0 631.9h0M204.1 642.0h0M204.9 673.2h0M205.4 663.3h0M206.1 658.4h0M206.9 652.2h0M207.4 621.4h0M207.9 620.6h0M208.8 647.7h0M209.5 637.5h0M209.9 634.5h0M210.4 628.4h0M211.2 651.6h0M212.3 633.8h0M212.6 621.5h0M213.5 644.3h0M214.2 645.9h0M214.8 603.2h0M215.3 618.0h0M215.9 631.6h0M216.6 643.0h0M217.3 621.7h0M218.4 632.4h0M218.9 613.2h0M219.7 644.7h0M220.4 618.1h0M220.8 637.8h0M221.7 616.2h0M222.1 645.3h0M223.2 629.4h0M223.7 630.4h0M224.0 625.5h0M225.0 617.5h0M225.6 620.1h0M226.2 599.0h0M227.1 611.0h0M227.8 559.4h0M228.3 645.2h0M228.9 624.5h0M229.8 594.7h0M230.4 633.8h0M231.2 608.4h0M231.6 627.8h0M232.3 640.2h0M233.1 624.6h0M233.8 616.9h0M234.2 587.3h0M235.1 607.0h0M235.9 602.1h0M236.4 593.7h0M237.1 627.0h0M237.7 599.2h0M238.5 597.2h0M239.2 616.7h0M240.0 598.2h0M240.3 610.6h0M241.0 601.2h0M241.7 602.0h0M242.6 619.4h0M243.0 593.4h0M243.8 582.0h0M244.8 590.1h0M245.3 606.3h0M246.1 608.0h0M246.6 608.6h0M247.4 584.1h0M247.9 614.3h0M248.7 593.0h0M249.0 605.0h0M249.8 586.5h0M250.4 593.5h0M251.6 591.7h0M252.1 605.0h0M252.8 613.4h0M253.3 586.8h0M253.8 591.9h0M254.7 592.7h0M255.2 599.2h0M256.0 574.7h0M256.8 587.8h0M257.2 587.9h0M258.1 610.1h0M258.8 622.5h0M259.2 598.6h0M260.1 598.1h0M261.1 578.3h0M261.5 608.4h0M262.3 598.4h0M263.1 599.0h0M263.5 610.4h0M263.9 602.2h0M264.6 576.1h0M265.7 589.3h0M265.9 592.7h0M266.9 591.2h0M267.4 560.3h0M268.4 586.1h0M268.9 606.9h0M269.6 581.5h0M270.0 556.3h0M270.9 590.5h0M271.4 589.1h0M272.6 612.5h0M272.9 592.5h0M273.8 594.4h0M274.5 594.0h0M274.9 612.5h0M275.5 598.2h0M276.1 603.1h0M277.1 599.9h0M277.6 608.3h0M278.3 589.3h0M278.8 591.0h0M279.5 569.6h0M280.4 603.2h0M281.2 612.2h0M282.0 592.8h0M282.5 584.7h0M282.9 598.1h0M283.5 606.5h0M284.3 596.5h0M285.2 600.6h0M286.1 586.2h0M286.7 595.5h0M287.0 575.2h0M287.8 600.8h0M288.3 564.5h0M289.2 591.9h0M289.8 588.8h0M290.6 589.4h0M291.3 581.1h0M291.9 590.6h0M292.8 588.4h0M293.3 578.3h0M293.9 574.5h0M294.4 584.8h0M295.3 583.9h0M296.2 591.1h0M296.9 599.1h0M297.3 595.6h0M298.2 570.6h0M298.4 577.4h0M299.5 590.1h0M299.9 588.5h0M300.9 588.5h0M301.2 553.8h0M302.3 589.8h0M302.6 582.1h0M303.7 589.1h0M304.2 588.3h0M305.0 587.8h0M305.4 602.5h0M305.9 588.9h0M306.8 581.4h0M307.3 575.4h0M308.1 634.6h0M308.6 592.1h0M309.7 615.9h0M310.4 601.5h0M310.9 588.0h0M311.7 600.8h0M312.5 584.0h0M312.8 593.8h0M313.5 586.2h0M314.5 567.7h0M314.7 583.0h0M315.6 591.1h0M316.4 592.1h0M316.9 588.6h0M317.5 586.7h0M318.1 569.7h0M319.3 599.1h0M319.9 590.1h0M320.3 580.5h0M321.0 583.6h0M321.7 606.6h0M322.4 576.1h0M323.1 572.0h0M323.5 606.6h0M324.5 558.1h0M325.3 597.2h0M325.9 590.5h0M326.7 572.0h0M326.9 573.6h0M328.0 587.2h0M328.6 572.9h0M329.2 584.1h0M330.0 556.6h0M330.4 601.3h0M331.0 596.9h0M331.9 582.0h0M332.3 582.4h0M333.0 563.7h0M334.2 620.7h0M334.7 589.8h0M335.3 591.8h0M336.1 596.6h0M336.8 587.3h0M337.6 567.2h0M337.9 585.0h0M338.9 593.4h0M339.1 569.5h0M339.7 585.8h0M340.8 577.8h0M341.4 574.3h0M341.9 589.6h0M342.7 578.7h0M343.3 596.6h0M343.8 575.7h0M345.0 577.8h0M345.1 593.4h0M346.3 584.4h0M347.1 619.1h0M347.7 591.1h0M348.1 583.5h0M348.7 582.7h0M349.7 562.6h0M350.2 591.3h0M350.9 584.5h0M351.4 582.3h0M352.0 550.4h0M352.7 573.4h0M353.3 561.6h0M354.3 586.2h0M354.6 573.1h0M355.5 562.0h0M356.4 589.5h0M356.9 585.1h0M357.9 573.6h0M358.1 572.9h0M358.8 573.6h0M359.8 584.8h0M360.5 596.9h0M361.3 548.1h0M361.8 558.9h0M362.2 602.8h0M363.1 568.2h0M363.9 581.7h0M364.6 561.6h0M364.9 563.3h0M365.7 553.9h0M366.4 588.6h0M367.3 577.0h0M368.0 573.6h0M368.1 571.6h0M369.1 568.3h0M370.0 579.9h0M370.4 548.3h0M370.9 558.3h0M371.6 579.6h0M372.7 559.9h0M373.0 554.7h0M373.7 561.6h0M374.8 577.1h0M375.3 552.0h0M376.1 549.2h0M376.3 571.9h0M377.5 516.7h0M377.7 540.9h0M378.4 561.2h0M379.3 580.4h0M380.1 547.0h0M380.4 575.7h0M381.2 588.8h0M382.0 547.0h0M383.0 558.3h0M383.1 562.5h0M383.9 562.2h0M384.9 523.1h0M385.2 588.4h0M386.3 539.7h0M386.6 564.6h0M387.5 495.9h0M388.2 545.0h0M388.6 605.0h0M389.7 543.6h0M390.1 550.5h0M390.6 547.2h0M391.5 559.2h0M392.4 537.1h0M393.1 545.3h0M393.8 574.3h0M394.3 554.6h0M394.8 551.9h0M395.5 572.4h0M396.1 572.6h0M396.7 565.8h0M397.3 540.1h0M398.4 551.9h0M398.7 535.1h0M399.8 544.9h0M400.0 519.8h0M401.1 521.9h0M401.4 552.3h0M402.1 524.6h0M403.2 569.0h0M403.6 562.6h0M404.3 542.8h0M404.7 562.0h0M405.8 535.5h0M406.6 562.2h0M407.1 549.3h0M407.8 553.2h0M408.6 542.5h0M409.2 537.8h0M409.9 547.1h0M410.3 566.5h0M411.3 554.6h0M411.9 525.0h0M412.3 526.2h0M413.2 555.1h0M413.9 542.8h0M414.4 570.2h0M415.4 569.7h0M415.6 631.7h0M416.3 535.3h0M417.2 555.8h0M417.7 530.2h0M418.5 566.8h0M419.5 580.6h0M420.1 554.7h0M420.6 556.0h0M421.3 569.1h0M421.8 549.7h0M422.5 529.8h0M423.4 537.1h0M424.0 552.3h0M424.7 544.9h0M425.0 550.6h0M426.0 526.9h0M426.5 549.2h0M427.5 555.4h0M428.1 559.7h0M428.6 604.9h0M429.6 523.7h0M430.3 655.4h0M430.9 540.8h0M431.4 554.6h0M432.3 548.1h0M433.0 550.7h0M433.4 575.4h0M434.4 542.7h0M434.6 564.4h0M435.3 573.2h0M436.0 578.6h0M436.8 557.9h0M437.4 585.8h0M438.4 549.8h0M438.6 560.4h0M439.3 567.7h0M440.4 545.6h0M441.0 558.3h0M441.3 550.2h0M442.4 568.6h0M442.9 577.4h0M443.7 588.6h0M444.0 550.6h0M444.9 573.2h0M445.4 575.1h0M446.5 578.4h0M447.0 578.2h0M447.5 586.8h0M448.4 574.2h0M449.0 588.5h0M449.9 559.3h0M450.2 552.1h0M451.1 577.2h0M451.5 584.7h0M452.4 577.3h0M453.3 569.4h0M453.7 566.0h0M454.4 571.4h0M455.2 597.8h0M455.7 574.7h0M456.3 578.8h0M457.4 576.1h0M457.9 575.5h0M458.5 587.3h0M459.2 611.0h0M459.6 608.1h0M460.2 604.1h0M461.4 620.9h0M461.7 578.6h0M462.3 604.6h0M463.4 592.6h0M463.8 602.4h0M464.6 629.7h0M465.0 605.6h0M465.7 628.5h0M466.6 606.4h0M467.1 597.0h0M468.2 614.5h0M468.9 629.7h0M469.1 635.8h0M470.0 590.8h0M470.9 596.6h0M471.4 610.2h0M471.8 615.9h0M472.5 632.9h0M473.1 626.5h0M474.2 670.3h0M474.8 590.4h0M475.3 663.4h0M476.4 742.6h0M476.5 665.0h0M477.4 634.1h0M478.0 653.3h0M478.8 640.5h0M479.2 626.1h0M480.3 625.9h0M480.7 626.4h0M481.6 638.8h0M482.2 696.9h0M483.2 662.2h0M483.8 668.3h0M484.5 650.8h0M484.8 685.6h0M485.6 652.4h0M486.5 649.1h0M487.1 653.5h0M487.5 794.9h0M488.5 632.7h0M488.9 645.2h0M489.8 633.4h0M490.1 643.0h0M490.8 661.1h0M491.8 660.9h0M492.5 732.2h0M492.9 642.8h0M493.5 666.3h0M494.4 659.7h0M494.8 657.4h0M495.6 660.9h0M496.2 636.2h0M497.0 638.6h0M497.7 657.8h0M498.3 643.1h0M499.4 662.6h0M499.7 642.5h0M500.4 673.9h0M501.2 667.5h0M501.7 654.5h0M502.3 662.4h0M503.4 686.0h0M503.7 609.2h0M504.4 697.3h0M505.0 658.2h0M506.1 687.4h0M506.3 662.7h0M507.3 637.0h0M507.9 663.2h0M508.7 662.2h0M509.1 645.8h0M510.1 665.2h0M510.8 686.2h0M511.0 640.4h0M511.9 670.0h0M512.8 646.2h0M513.4 809.9h0M514.2 681.0h0M514.6 673.6h0M515.5 667.7h0M515.9 679.4h0M516.6 668.1h0M517.4 667.0h0M518.1 691.0h0M518.6 682.9h0M519.1 720.6h0M520.1 742.9h0M521.0 661.9h0M521.7 626.1h0M522.3 664.1h0M522.8 677.0h0M523.3 664.1h0M523.9 644.2h0M524.6 705.5h0M525.2 664.5h0M526.3 626.3h0M527.0 593.0h0M527.8 665.9h0M528.2 664.8h0M528.6 678.1h0M529.3 652.2h0M530.0 662.9h0M530.8 650.4h0M531.7 624.5h0M532.5 656.4h0M533.1 718.0h0M533.5 652.1h0M534.4 667.6h0M535.3 692.2h0M535.7 793.5h0M536.5 620.9h0M536.9 673.1h0M537.6 694.9h0M538.3 626.1h0M539.2 702.2h0M539.6 652.4h0M540.6 610.8h0M541.1 637.8h0M541.9 753.5h0M542.7 659.4h0M543.4 697.9h0M543.9 725.1h0M544.2 653.1h0M545.0 684.9h0M545.6 673.3h0M546.6 649.2h0M547.1 685.4h0M548.1 776.6h0M548.8 633.7h0M549.1 684.5h0M550.1 678.1h0M550.6 627.3h0M551.5 661.6h0M552.0 688.8h0M552.6 646.0h0M553.0 684.8h0M553.7 796.7h0M554.7 662.1h0M555.5 626.9h0M556.0 654.3h0M556.5 627.6h0M557.5 681.0h0M558.2 627.2h0M558.7 633.3h0M559.1 645.4h0M560.1 720.0h0M560.9 690.3h0M561.3 645.2h0M562.2 650.8h0M563.0 610.5h0M563.5 623.6h0M564.2 629.6h0M564.8 664.1h0M565.5 603.0h0M565.9 652.1h0M566.8 664.6h0M567.6 660.5h0M568.0 678.6h0M568.7 686.4h0M569.3 681.8h0M570.1 712.2h0M570.7 654.9h0M571.4 624.1h0M572.3 708.6h0M573.0 663.6h0M573.6 661.3h0M574.2 689.3h0M574.8 713.7h0M575.9 692.5h0M576.3 680.4h0M576.7 701.3h0M577.8 669.6h0M578.2 656.6h0M579.1 676.4h0M579.5 679.9h0M580.5 684.6h0M581.0 694.6h0M581.7 651.9h0M582.8 687.0h0M584.0 698.7h0M584.6 727.0h0M585.2 684.5h0M585.6 662.9h0M586.2 657.6h0M586.9 712.8h0M587.9 742.6h0M588.2 674.6h0M589.1 708.1h0M590.0 740.1h0M590.6 771.9h0M591.1 664.3h0M591.6 689.2h0M592.8 671.1h0M593.3 682.4h0M594.0 706.5h0M594.8 700.1h0M595.4 696.7h0M596.1 704.2h0M596.5 729.0h0M597.4 686.2h0M597.9 715.6h0M598.9 688.5h0M599.5 683.3h0M599.9 755.9h0M600.8 725.2h0M601.6 749.8h0M602.2 678.4h0M602.6 722.9h0M603.1 711.6h0M603.9 723.5h0M604.5 708.0h0M605.6 688.0h0M606.3 730.7h0M607.0 717.8h0M607.5 751.6h0M608.1 682.7h0M608.9 728.9h0M609.8 727.5h0M610.2 747.5h0M610.6 720.8h0M611.7 724.0h0M612.2 741.5h0M612.6 728.7h0M613.7 723.0h0M614.4 713.0h0M614.7 697.3h0M615.7 631.3h0M616.4 688.6h0M616.9 730.2h0M617.8 717.2h0M618.0 730.5h0M618.9 738.7h0M619.7 686.2h0M620.3 730.7h0M620.9 714.5h0M621.5 691.4h0M622.1 679.2h0M622.8 755.1h0M623.6 718.6h0M624.6 745.1h0M624.8 712.5h0M625.7 681.3h0M626.5 748.6h0M626.9 758.1h0M627.6 739.0h0M628.2 736.4h0M629.1 733.5h0M629.9 743.9h0M630.7 757.3h0M630.9 779.0h0M632.1 741.4h0M632.5 685.0h0M633.3 789.0h0M634.1 743.4h0M634.6 744.5h0M635.3 757.0h0M635.7 729.5h0M636.7 731.6h0M637.3 764.8h0M638.2 758.7h0M638.4 764.7h0M639.0 716.6h0M640.2 769.5h0M640.6 747.9h0M641.1 773.8h0M641.9 745.5h0M642.8 770.4h0M643.1 747.4h0M644.0 754.5h0M644.9 744.6h0M645.4 771.3h0M645.8 745.3h0M646.7 743.9h0M647.2 756.3h0M648.3 771.5h0M648.5 782.1h0M649.5 792.5h0M649.9 761.8h0M650.5 733.8h0M651.3 748.1h0M651.9 760.1h0M653.0 785.3h0M653.4 766.1h0M654.2 798.1h0M654.6 717.8h0M655.7 778.2h0M656.1 761.8h0M657.0 815.6h0M657.4 802.6h0M658.0 785.9h0M658.7 790.4h0M659.5 736.9h0M660.3 796.5h0M660.7 779.3h0M662.0 770.7h0M662.7 779.4h0M663.4 776.6h0M664.1 781.9h0M665.1 779.2h0M665.4 767.4h0M666.5 781.4h0M667.2 761.5h0M667.8 763.1h0M668.6 802.2h0M668.8 777.8h0M669.9 789.8h0M670.5 809.1h0M671.1 805.9h0M671.6 789.5h0M672.7 712.4h0M673.2 794.3h0M673.8 785.8h0M674.5 764.0h0M675.5 766.8h0M676.7 787.2h0M677.2 794.7h0M678.4 788.3h0M679.1 765.2h0M679.9 723.0h0M680.7 776.3h0M681.5 777.7h0M682.1 810.0h0M682.8 764.3h0M683.1 784.4h0M683.7 756.0h0M684.9 802.7h0M685.5 790.7h0M686.0 753.2h0M687.4 750.3h0M688.1 767.3h0M688.6 780.9h0M689.7 818.1h0M690.5 724.4h0M691.5 773.9h0M692.4 791.3h0M692.8 747.9h0M693.5 748.4h0M694.0 744.8h0M694.7 743.6h0M695.5 759.2h0M695.8 775.1h0M697.0 751.7h0M697.7 784.2h0M698.4 789.2h0M699.1 775.5h0M699.8 756.4h0M701.0 753.9h0M702.4 739.6h0M703.1 800.9h0M703.5 764.9h0M704.2 792.4h0M705.2 752.5h0M705.7 746.7h0M706.5 774.9h0M706.8 805.8h0M707.6 773.8h0M708.6 801.2h0M709.3 757.0h0M709.6 743.7h0M710.6 751.3h0M711.3 808.7h0M711.8 718.1h0M712.4 762.2h0M713.0 818.4h0M713.6 800.7h0M714.5 729.0h0M715.3 805.0h0M715.8 733.7h0M716.2 792.1h0M716.9 755.4h0M718.2 716.9h0M719.0 763.4h0M719.7 725.5h0M720.6 750.6h0M721.0 723.3h0M721.7 752.2h0M722.8 738.6h0M723.4 749.3h0M723.8 758.2h0M724.6 811.9h0M725.3 718.2h0M725.8 731.2h0M726.6 775.0h0M727.4 747.1h0M728.2 718.7h0M728.6 748.1h0M729.4 709.4h0M729.9 755.8h0M730.8 726.8h0M731.3 707.1h0M732.3 742.0h0M732.6 737.8h0M733.3 717.0h0M734.1 707.9h0M734.8 720.7h0M735.7 705.0h0M736.4 709.9h0M736.5 783.2h0M737.6 714.2h0M738.1 734.1h0M739.0 740.1h0M739.6 743.8h0M740.1 696.9h0M740.6 709.0h0M741.7 721.3h0M741.9 728.8h0M742.7 801.4h0M743.3 706.7h0M744.2 716.0h0M744.8 745.4h0M745.4 786.7h0M746.2 713.3h0M747.0 697.8h0M747.7 724.3h0M748.2 720.8h0M749.0 683.4h0M749.6 726.1h0M750.3 712.2h0M750.9 743.3h0M751.9 699.6h0M752.6 754.9h0M753.2 721.9h0M753.8 769.2h0M754.5 696.2h0M754.9 704.5h0M755.5 767.9h0M756.4 706.1h0M757.4 727.8h0M757.9 708.8h0M758.3 755.6h0M759.2 731.6h0M760.0 748.9h0M760.4 721.4h0M761.0 699.5h0M762.0 701.9h0M762.6 681.1h0M763.0 674.3h0M764.1 683.3h0M764.5 671.7h0M765.4 762.2h0M766.0 712.9h0M766.5 692.2h0M767.5 670.6h0M768.0 692.0h0M768.8 723.6h0M769.1 714.6h0M770.2 673.3h0M770.9 737.5h0M771.1 700.4h0M772.0 720.4h0M772.9 692.4h0M773.3 677.5h0M774.0 685.7h0M774.5 712.6h0M775.1 694.4h0M775.8 795.7h0M776.5 689.6h0M777.5 697.9h0M777.9 707.9h0M778.5 727.1h0M779.2 709.1h0M780.0 694.8h0M780.6 667.2h0M781.4 694.1h0M782.0 689.0h0M782.7 692.9h0M783.7 702.7h0M784.4 693.7h0M784.6 708.2h0M785.4 689.5h0M786.0 668.8h0M786.8 690.4h0M787.7 708.2h0M788.4 673.9h0M789.1 685.7h0M789.6 676.7h0M790.1 718.8h0M791.2 735.1h0M791.8 720.0h0M792.4 708.0h0M793.2 711.0h0M793.6 761.4h0M794.8 681.3h0M795.6 702.2h0M796.6 659.0h0M797.0 674.1h0M797.9 673.2h0M798.5 690.8h0M799.2 697.3h0M799.7 789.5h0M800.3 689.2h0M801.2 660.4h0M801.9 696.3h0M802.5 684.7h0M803.1 663.2h0M804.1 633.5h0M804.6 689.3h0M805.2 682.8h0M806.0 679.7h0M806.8 671.0h0M806.9 717.6h0M807.9 705.9h0M808.6 704.9h0M809.0 704.7h0M809.6 695.0h0M810.9 707.5h0M811.4 690.3h0M812.2 653.6h0M812.5 698.3h0M813.2 783.0h0M814.2 692.3h0M814.9 685.8h0M815.3 688.6h0M815.7 774.5h0M816.9 720.8h0M817.3 695.9h0M818.0 758.0h0M818.7 718.1h0M819.1 713.2h0M820.1 661.1h0M820.7 677.6h0M821.6 710.3h0M822.0 688.6h0M823.0 691.8h0M823.7 702.6h0M824.1 687.5h0M824.6 672.5h0M825.5 669.0h0M826.1 686.8h0M826.5 697.9h0M827.5 670.6h0M828.3 691.9h0M829.1 668.6h0M829.7 685.5h0M830.4 762.9h0M831.0 711.9h0M831.5 711.5h0M832.3 697.2h0M832.8 653.3h0M833.4 693.0h0M834.5 687.9h0M835.1 679.7h0M835.5 712.8h0M836.3 696.6h0M837.1 708.1h0M837.8 797.0h0M838.1 684.6h0M839.0 674.5h0M839.5 667.1h0M840.1 681.9h0M841.0 685.5h0M841.6 687.0h0M842.2 669.4h0M843.0 702.4h0M844.0 666.9h0M844.6 688.9h0M845.2 741.6h0M845.9 675.4h0M846.3 691.7h0M847.2 701.6h0M847.8 718.9h0M848.3 719.4h0M849.1 699.6h0M849.6 683.2h0M850.7 686.5h0M851.4 683.0h0M851.8 704.9h0M852.3 688.0h0M852.9 675.5h0M854.0 699.2h0M854.5 677.5h0M855.4 674.8h0M855.8 730.6h0M856.4 686.4h0M857.3 680.4h0M857.9 679.0h0M858.6 699.3h0M859.5 685.5h0M859.9 742.2h0M860.7 688.9h0M861.4 749.0h0M862.1 679.4h0M863.0 709.7h0M863.1 697.8h0M864.0 724.9h0M865.0 699.7h0M865.3 726.5h0M866.0 680.9h0M866.9 724.6h0M867.7 675.6h0M868.2 689.2h0M868.9 693.8h0M869.4 715.5h0M870.4 722.8h0M871.1 727.8h0M871.5 651.0h0M872.1 703.5h0M873.0 684.9h0M873.3 739.5h0M874.5 685.4h0M875.0 692.1h0M875.7 663.2h0M876.1 679.8h0M877.2 660.3h0M877.7 692.0h0M878.2 697.5h0M879.0 599.9h0M879.7 715.5h0M880.3 694.7h0M881.0 687.1h0M881.6 673.0h0M882.3 688.2h0M883.3 699.0h0M883.6 689.1h0M884.6 678.2h0M885.0 703.0h0M885.5 663.7h0M886.6 693.1h0M887.1 693.8h0M887.7 667.4h0M888.7 669.0h0M889.3 664.3h0M889.5 688.0h0M890.3 655.5h0M891.4 669.1h0M892.0 662.9h0M892.2 700.9h0M893.1 702.6h0M893.7 700.1h0M894.3 637.8h0M895.4 704.3h0M895.6 693.7h0M896.6 688.8h0M897.2 711.6h0M897.8 695.7h0M898.6 702.4h0M899.5 748.4h0M900.1 693.1h0M900.4 705.2h0M901.4 699.2h0M902.0 693.1h0M902.5 754.4h0M903.6 674.8h0M904.1 694.2h0M904.8 719.2h0M905.6 710.4h0M906.0 703.1h0M906.5 716.0h0M907.6 696.0h0M907.8 697.7h0M908.5 698.6h0M909.3 691.3h0M910.3 710.7h0M911.0 710.7h0M911.2 692.9h0M912.1 731.0h0M912.7 699.6h0M913.7 694.6h0M914.3 693.9h0M914.8 699.4h0M915.4 695.9h0M916.2 646.4h0M917.1 714.9h0M917.7 666.6h0M917.9 711.4h0M919.1 699.1h0M919.3 652.8h0M920.0 710.9h0M920.9 689.9h0M921.7 670.8h0M922.1 695.4h0M923.0 674.9h0M923.9 682.0h0M924.6 690.7h0M924.8 667.8h0M925.6 678.2h0M926.4 675.3h0M927.3 725.6h0M927.5 672.5h0M928.5 686.7h0M929.0 701.2h0M929.7 660.2h0M930.3 669.6h0M930.8 681.4h0M932.0 673.0h0M932.6 700.2h0M933.3 699.1h0M934.0 693.7h0M934.6 697.9h0M935.1 679.1h0M935.8 681.0h0M936.4 733.5h0M937.0 658.8h0M937.6 672.2h0M938.4 647.9h0M939.4 647.7h0M939.7 664.0h0M940.3 716.1h0M941.3 671.5h0M941.8 697.5h0M942.5 644.5h0M943.0 677.5h0M943.9 657.3h0M944.7 622.3h0M945.3 669.9h0M946.2 676.0h0M946.7 649.4h0M947.2 701.8h0M948.1 709.3h0M948.9 643.7h0M949.6 648.2h0M950.3 581.8h0M950.9 649.5h0M951.3 628.7h0M951.9 629.4h0M952.6 627.1h0M953.2 647.1h0M954.1 620.8h0M954.8 631.7h0M955.5 628.8h0M956.1 595.8h0M956.9 627.8h0M957.7 659.4h0M957.9 611.6h0M959.1 607.0h0M959.7 623.9h0M960.4 616.0h0M961.1 622.8h0M961.4 636.4h0M962.2 631.1h0M962.8 621.7h0M963.8 611.7h0M964.1 631.1h0M964.8 603.0h0M965.9 646.1h0M966.2 626.8h0M966.9 634.5h0M967.5 630.0h0M968.3 593.8h0M968.9 628.8h0M969.8 611.1h0M970.1 634.0h0M971.3 627.7h0M971.8 617.5h0M972.6 616.7h0M973.1 608.0h0M973.8 649.3h0M974.4 595.1h0M975.4 661.9h0M975.9 596.0h0M976.4 608.5h0M977.0 618.4h0M977.8 606.0h0M978.5 618.7h0M979.1 610.9h0M979.6 607.4h0M980.2 612.7h0M981.4 588.5h0M981.6 587.2h0M982.7 602.0h0M983.1 586.0h0M984.1 599.2h0M984.9 590.5h0M985.3 591.0h0M985.9 606.8h0M986.7 588.8h0M987.2 580.2h0M988.1 585.8h0M988.7 598.8h0M989.6 591.5h0M990.0 594.9h0M990.6 591.7h0M991.2 590.3h0M992.0 569.3h0M992.9 607.9h0M993.1 608.6h0M993.8 604.0h0M994.9 604.3h0M995.4 579.1h0M995.9 595.9h0M997.0 604.7h0M997.5 587.6h0M998.4 584.4h0M998.6 597.5h0M999.3 589.2h0M1000.2 569.5h0M1001.1 586.7h0M1001.3 593.3h0M1001.9 608.9h0M1002.6 585.5h0M1003.3 584.9h0M1004.0 608.1h0M1004.8 556.3h0M1005.9 568.8h0M1006.2 600.4h0M1006.8 599.0h0M1007.4 602.0h0M1008.0 598.7h0M1009.0 598.2h0M1009.7 572.7h0M1010.3 586.5h0M1011.2 574.9h0M1011.4 575.9h0M1012.3 590.2h0M1013.0 600.8h0M1013.6 569.2h0M1014.6 598.5h0M1015.0 592.9h0M1015.8 587.2h0M1016.3 567.2h0M1017.3 589.5h0M1017.9 591.2h0M1018.4 583.0h0M1019.2 592.2h0M1019.9 564.2h0M1020.6 577.5h0M1021.2 587.9h0M1021.9 598.9h0M1022.5 579.5h0M1023.0 603.4h0M1023.9 650.5h0M1024.3 589.8h0M1025.4 583.5h0M1025.6 548.7h0M1026.5 564.5h0M1027.2 584.0h0M1028.2 607.0h0M1028.9 592.2h0M1029.4 595.6h0M1029.8 574.6h0M1030.8 578.4h0M1031.6 590.0h0M1031.8 574.1h0M1032.9 586.7h0M1033.1 583.2h0M1033.9 592.4h0M1034.9 591.9h0M1035.4 567.7h0M1036.3 584.9h0M1036.5 605.3h0M1037.1 575.7h0M1038.2 585.5h0M1038.8 595.0h0M1039.7 577.2h0M1040.2 602.4h0M1040.9 589.4h0M1041.6 585.6h0M1042.3 599.2h0M1042.6 601.7h0M1043.7 582.6h0M1044.1 599.3h0M1044.6 594.3h0M1045.3 602.8h0M1046.2 539.5h0M1046.8 594.0h0M1047.4 594.1h0M1048.5 574.7h0M1048.7 605.4h0M1049.9 591.9h0M1050.4 598.5h0M1050.9 579.7h0M1051.4 580.8h0M1052.3 580.7h0M1053.0 581.7h0M1053.8 576.8h0M1054.6 600.2h0M1055.3 608.5h0M1055.8 591.0h0M1056.2 578.8h0M1056.8 601.9h0M1057.7 582.2h0M1058.3 584.5h0M1059.3 618.3h0M1059.7 609.5h0M1060.1 655.7h0M1060.9 577.7h0M1061.5 595.8h0M1062.4 589.7h0M1062.8 589.5h0M1063.6 598.5h0M1064.2 619.5h0M1065.4 595.6h0M1065.8 588.0h0M1066.6 594.0h0M1067.4 632.5h0M1067.8 586.8h0M1068.4 585.3h0M1069.1 623.5h0M1069.7 722.5h0M1070.4 577.7h0M1071.4 610.9h0M1072.2 573.6h0M1072.8 587.1h0M1073.3 576.5h0M1073.8 579.3h0M1074.7 606.6h0M1075.6 649.3h0M1076.2 615.9h0M1076.6 603.8h0M1077.6 640.2h0M1078.2 608.0h0M1078.6 615.6h0M1079.4 612.4h0M1079.9 596.8h0M1080.9 609.6h0M1081.3 596.9h0M1082.2 621.8h0M1083.0 601.8h0M1083.6 602.0h0M1084.1 599.6h0M1084.8 604.1h0M1085.4 688.8h0M1086.3 614.8h0M1086.5 537.1h0M1087.6 637.5h0M1088.0 601.3h0M1089.0 631.8h0M1089.5 597.6h0M1090.2 597.8h0M1090.9 598.1h0M1091.9 633.5h0M1092.2 625.5h0M1092.8 616.1h0M1093.4 594.4h0M1094.1 610.2h0M1094.8 606.2h0M1095.6 611.2h0M1096.0 646.8h0M1096.8 614.0h0M1097.4 601.9h0M1098.4 621.1h0M1098.9 590.0h0M1099.5 626.5h0M1100.3 625.7h0M1101.0 603.1h0M1101.6 619.9h0M1102.5 601.8h0M1102.8 624.1h0M1103.7 613.7h0M1104.7 633.4h0M1105.2 627.3h0M1106.0 608.5h0M1106.6 651.5h0M1107.0 608.6h0M1107.8 631.7h0M1108.8 622.3h0M1109.2 622.6h0M1110.0 633.6h0M1110.6 606.4h0M1110.9 606.7h0M1112.2 617.0h0M1112.3 613.8h0M1113.4 615.7h0M1114.1 595.7h0M1114.5 623.8h0M1115.1 607.0h0M1115.8 639.8h0M1116.5 630.2h0M1117.3 622.3h0M1117.8 634.8h0M1118.7 605.5h0M1119.6 621.1h0M1119.9 623.3h0M1120.5 642.7h0M1121.5 635.8h0M1122.1 615.7h0M1122.5 619.4h0M1123.4 647.9h0M1123.9 714.5h0M1124.9 630.4h0M1125.7 666.0h0M1125.9 610.0h0M1126.7 599.5h0M1127.4 635.5h0M1128.1 642.3h0M1128.7 643.3h0M1129.8 621.7h0M1130.0 631.3h0M1130.8 622.4h0M1131.5 624.9h0M1132.4 657.3h0M1133.1 640.4h0M1133.6 672.4h0M1134.1 640.9h0M1134.6 644.9h0M1135.7 654.1h0M1136.2 642.1h0M1136.8 608.4h0M1137.5 635.8h0M1138.3 638.9h0M1138.9 639.2h0M1139.6 656.1h0M1140.3 622.7h0M1141.0 642.1h0M1141.7 621.2h0M1142.3 643.1h0M1142.9 632.0h0M1143.9 654.2h0M1144.2 663.1h0M1144.8 643.1h0M1145.7 624.7h0M1146.1 676.3h0M1147.3 629.5h0M1147.6 644.3h0M1148.5 663.6h0M1149.3 636.8h0M1149.6 635.5h0M1150.3 656.2h0M1151.4 645.0h0M1152.0 673.5h0" stroke="#d5d5d5" stroke-width="6" stroke-linecap="round" fill="none"/>
<path d="M178.6 684.2C180.4 683.3 185.9 680.7 189.2 678.9C192.4 677.1 195.1 676.5 198.1 673.5C201.1 670.5 203.7 665.5 207.0 661.0C210.3 656.5 214.1 652.1 217.7 646.8C221.3 641.5 225.1 634.0 228.4 629.0C231.7 624.0 234.6 619.5 237.3 616.5C240.0 613.5 241.1 612.6 244.4 611.2C247.7 609.8 252.4 609.0 256.9 608.3C261.4 607.6 266.4 607.3 271.2 606.9C275.9 606.5 280.7 606.6 285.4 605.8C290.1 605.0 294.9 603.3 299.6 602.3C304.4 601.3 309.7 600.2 313.9 599.8C318.1 599.4 321.3 600.4 324.6 599.8C327.9 599.2 330.5 597.3 333.5 596.2C336.5 595.1 339.4 594.8 342.4 593.3C345.4 591.8 348.3 589.3 351.3 586.9C354.3 584.5 357.2 581.3 360.2 579.1C363.2 576.9 366.1 574.5 369.1 573.7C372.1 572.9 375.3 574.9 378.0 574.5C380.7 574.1 382.1 572.4 385.1 571.3C388.1 570.2 391.7 568.8 395.8 567.7C399.9 566.6 406.1 565.0 410.0 564.8C413.9 564.6 416.5 565.7 418.9 566.6C421.3 567.5 422.3 569.0 424.3 570.2C426.3 571.4 428.1 570.7 430.7 573.7C433.2 576.7 436.6 583.5 439.6 588.0C442.6 592.5 445.8 596.9 448.5 600.5C451.2 604.1 453.2 605.5 455.6 609.4C458.0 613.2 460.0 618.5 462.7 623.6C465.4 628.7 468.3 634.9 471.6 639.7C474.9 644.5 478.7 648.4 482.3 652.2C485.9 656.1 489.1 660.1 493.0 662.8C496.9 665.5 502.1 666.1 505.5 668.2C508.9 670.3 510.3 674.3 513.3 675.3C516.3 676.3 519.8 674.7 523.3 674.2C526.8 673.7 530.5 672.8 534.0 672.5C537.5 672.2 541.4 672.8 544.6 672.5C547.9 672.2 550.5 671.0 553.5 671.0C556.5 671.0 559.1 670.7 562.4 672.5C565.7 674.3 569.5 678.3 573.1 681.7C576.7 685.1 580.2 690.3 583.8 693.1C587.4 695.9 591.2 695.5 594.5 698.5C597.8 701.5 600.4 706.9 603.4 711.0C606.4 715.1 609.0 719.9 612.3 723.4C615.6 726.9 619.4 728.4 623.0 732.3C626.6 736.2 630.1 741.9 633.7 746.6C637.3 751.4 640.9 756.0 644.4 760.8C647.9 765.5 651.7 771.1 655.0 775.1C658.3 779.1 660.5 783.4 664.0 785.0C667.5 786.6 672.3 785.6 675.7 785.0C679.1 784.4 681.6 783.0 684.6 781.5C687.6 780.0 690.8 776.9 693.5 775.8C696.2 774.7 697.9 776.4 700.6 775.1C703.3 773.8 706.5 771.3 709.5 768.0C712.5 764.7 715.4 759.7 718.4 755.5C721.4 751.3 724.3 746.6 727.3 743.0C730.3 739.4 733.2 736.8 736.2 734.1C739.2 731.4 741.8 729.7 745.1 727.0C748.4 724.3 752.2 720.4 755.8 718.1C759.4 715.8 762.6 714.6 766.5 713.4C770.4 712.2 775.1 711.3 779.0 711.0C782.9 710.7 786.4 711.2 789.6 711.7C792.9 712.2 795.8 713.3 798.5 713.8C801.2 714.3 803.6 714.9 805.7 714.5C807.8 714.1 808.9 712.9 811.0 711.7C813.1 710.5 815.1 708.0 818.1 707.4C821.1 706.8 824.9 708.0 828.8 708.1C832.7 708.2 837.7 707.6 841.3 708.1C844.9 708.6 847.2 709.9 850.2 711.0C853.2 712.1 856.1 714.0 859.1 714.5C862.1 715.0 865.0 714.7 868.0 713.8C871.0 712.9 873.9 710.6 876.9 709.2C879.9 707.8 882.8 706.2 885.8 705.6C888.8 705.0 891.7 706.2 894.7 705.6C897.7 705.0 900.9 703.3 903.6 702.0C906.3 700.7 908.1 699.0 910.7 697.8C913.3 696.6 916.3 697.5 919.2 694.9C922.1 692.3 925.1 687.1 928.1 682.4C931.1 677.6 933.7 671.4 937.0 666.4C940.3 661.4 944.1 656.7 947.7 652.2C951.3 647.8 955.1 643.6 958.4 639.7C961.7 635.8 964.0 633.2 967.3 629.0C970.6 624.8 974.7 619.2 978.0 614.7C981.3 610.2 983.6 605.6 986.9 602.3C990.2 599.0 993.8 596.8 997.6 595.1C1001.5 593.4 1006.1 592.9 1010.0 592.3C1013.9 591.7 1016.8 591.3 1020.7 591.6C1024.6 591.9 1029.0 593.2 1033.2 594.1C1037.4 595.0 1041.6 595.6 1045.7 597.0C1049.8 598.4 1053.9 600.2 1058.1 602.3C1062.2 604.4 1066.4 607.3 1070.6 609.4C1074.8 611.5 1078.5 612.6 1083.0 614.7C1087.5 616.8 1093.1 620.1 1097.3 621.9C1101.5 623.7 1104.4 623.8 1108.0 625.4C1111.6 627.0 1115.1 629.4 1118.7 631.8C1122.3 634.2 1125.9 636.9 1129.4 639.7C1133.0 642.5 1136.5 645.1 1140.0 648.6C1143.5 652.1 1148.6 658.6 1150.7 661.0C1152.8 663.4 1152.2 662.7 1152.5 663.0" stroke="#5a5a5a" stroke-width="3.2" fill="none" stroke-linejoin="round"/>
<path d="M177.5 736.2 196.4 730.6 217.7 725.2 239.1 716.3 258.7 708.1 278.3 695.6 297.9 683.2 319.2 665.3 338.8 650.4 360.2 632.6 381.6 614.7 402.9 602.3 424.3 589.8 441.4 587.0 462.7 583.7 482.3 589.0 501.9 594.0 523.3 605.8 542.9 615.4 562.4 629.0 583.8 643.2 605.2 655.7 624.8 665.7 646.1 672.5 665.7 678.9 686.4 679.6 706.0 678.9 725.5 673.5 746.9 668.9 768.3 661.0 787.9 654.6 807.5 646.8 828.8 637.9 848.4 630.0 868.0 621.9 889.4 615.4 909.0 609.4 926.4 608.3 949.5 607.6 969.1 613.0 990.5 618.3 1011.8 630.8 1031.4 641.5 1051.0 656.8 1072.4 671.8 1092.0 686.0 1111.6 701.0 1132.9 710.2 1152.5 719.9" stroke="#2174e0" stroke-width="3.2" fill="none" stroke-linejoin="round"/></g>
<path d="M177.5 42.6V363.5M163 42.6H1152.5M163 363.5H1152.5" stroke="#000" stroke-width="3" fill="none"/>
<path d="M163 363.5H177.5M163 283.3H177.5M163 203.1H177.5M163 122.8H177.5M163 42.6H177.5" stroke="#000" stroke-width="3"/>
<path d="M177.5 363.5V378.2M316.8 363.5V378.2M456.1 363.5V378.2M595.4 363.5V378.2M734.6 363.5V378.2M873.9 363.5V378.2M1013.2 363.5V378.2M1152.5 363.5V378.2" stroke="#000" stroke-width="3"/>
<path d="M247.1 363.5V370.5M386.4 363.5V370.5M525.7 363.5V370.5M665.0 363.5V370.5M804.3 363.5V370.5M943.6 363.5V370.5M1082.9 363.5V370.5" stroke="#000" stroke-width="3"/>
<path d="M1152.7 41.300000000000004V364.8M1152.5 363.5H1167.6M1152.5 310.0H1167.6M1152.5 256.5H1167.6M1152.5 203.1H1167.6M1152.5 149.6H1167.6M1152.5 96.1H1167.6M1152.5 42.6H1167.6" stroke="#1a6fe3" stroke-width="2.6" fill="none"/>
<text x="151.5" y="373.3" text-anchor="end" font-family="Liberation Serif" font-size="32.8">2000</text>
<text x="151.5" y="293.1" text-anchor="end" font-family="Liberation Serif" font-size="32.8">2500</text>
<text x="151.5" y="212.9" text-anchor="end" font-family="Liberation Serif" font-size="32.8">3000</text>
<text x="151.5" y="132.6" text-anchor="end" font-family="Liberation Serif" font-size="32.8">3500</text>
<text x="151.5" y="52.4" text-anchor="end" font-family="Liberation Serif" font-size="32.8">4000</text>
<text x="1178" y="373.3" font-family="Liberation Serif" font-size="32.8" fill="#1a6fe3">-100</text>
<text x="1178" y="319.8" font-family="Liberation Serif" font-size="32.8" fill="#1a6fe3">0</text>
<text x="1178" y="266.3" font-family="Liberation Serif" font-size="32.8" fill="#1a6fe3">100</text>
<text x="1178" y="212.9" font-family="Liberation Serif" font-size="32.8" fill="#1a6fe3">200</text>
<text x="1178" y="159.4" font-family="Liberation Serif" font-size="32.8" fill="#1a6fe3">300</text>
<text x="1178" y="105.9" font-family="Liberation Serif" font-size="32.8" fill="#1a6fe3">400</text>
<text x="1178" y="52.4" font-family="Liberation Serif" font-size="32.8" fill="#1a6fe3">500</text>
<text x="177.5" y="413.5" text-anchor="middle" font-family="Liberation Serif" font-size="32.8">D19</text>
<text x="316.8" y="413.5" text-anchor="middle" font-family="Liberation Serif" font-size="32.8">D20</text>
<text x="456.1" y="413.5" text-anchor="middle" font-family="Liberation Serif" font-size="32.8">D21</text>
<text x="595.4" y="413.5" text-anchor="middle" font-family="Liberation Serif" font-size="32.8">D22</text>
<text x="734.6" y="413.5" text-anchor="middle" font-family="Liberation Serif" font-size="32.8">D23</text>
<text x="873.9" y="413.5" text-anchor="middle" font-family="Liberation Serif" font-size="32.8">D24</text>
<text x="1013.2" y="413.5" text-anchor="middle" font-family="Liberation Serif" font-size="32.8">D25</text>
<text x="1152.5" y="413.5" text-anchor="middle" font-family="Liberation Serif" font-size="32.8">D26</text>
<path d="M177.5 495.3V816.0M163 495.3H1152.5M163 816.0H1152.5" stroke="#000" stroke-width="3" fill="none"/>
<path d="M163 816.0H177.5M163 735.8H177.5M163 655.6H177.5M163 575.5H177.5M163 495.3H177.5" stroke="#000" stroke-width="3"/>
<path d="M177.5 816.0V830.7M258.8 816.0V830.7M340.0 816.0V830.7M421.2 816.0V830.7M502.5 816.0V830.7M583.8 816.0V830.7M665.0 816.0V830.7M746.2 816.0V830.7M827.5 816.0V830.7M908.8 816.0V830.7M990.0 816.0V830.7M1071.2 816.0V830.7M1152.5 816.0V830.7" stroke="#000" stroke-width="3"/>
<path d="M218.1 816.0V823.0M299.4 816.0V823.0M380.6 816.0V823.0M461.9 816.0V823.0M543.1 816.0V823.0M624.4 816.0V823.0M705.6 816.0V823.0M786.9 816.0V823.0M868.1 816.0V823.0M949.4 816.0V823.0M1030.6 816.0V823.0M1111.9 816.0V823.0" stroke="#000" stroke-width="3"/>
<path d="M1152.7 494.0V817.3M1152.5 816.0H1167.6M1152.5 762.5H1167.6M1152.5 709.1H1167.6M1152.5 655.6H1167.6M1152.5 602.2H1167.6M1152.5 548.8H1167.6M1152.5 495.3H1167.6" stroke="#1a6fe3" stroke-width="2.6" fill="none"/>
<text x="151.5" y="825.8" text-anchor="end" font-family="Liberation Serif" font-size="32.8">2000</text>
<text x="151.5" y="745.6" text-anchor="end" font-family="Liberation Serif" font-size="32.8">2500</text>
<text x="151.5" y="665.4" text-anchor="end" font-family="Liberation Serif" font-size="32.8">3000</text>
<text x="151.5" y="585.3" text-anchor="end" font-family="Liberation Serif" font-size="32.8">3500</text>
<text x="151.5" y="505.1" text-anchor="end" font-family="Liberation Serif" font-size="32.8">4000</text>
<text x="1178" y="825.8" font-family="Liberation Serif" font-size="32.8" fill="#1a6fe3">-100</text>
<text x="1178" y="772.3" font-family="Liberation Serif" font-size="32.8" fill="#1a6fe3">0</text>
<text x="1178" y="718.9" font-family="Liberation Serif" font-size="32.8" fill="#1a6fe3">100</text>
<text x="1178" y="665.4" font-family="Liberation Serif" font-size="32.8" fill="#1a6fe3">200</text>
<text x="1178" y="612.0" font-family="Liberation Serif" font-size="32.8" fill="#1a6fe3">300</text>
<text x="1178" y="558.5" font-family="Liberation Serif" font-size="32.8" fill="#1a6fe3">400</text>
<text x="1178" y="505.1" font-family="Liberation Serif" font-size="32.8" fill="#1a6fe3">500</text>
<text x="177.5" y="866.3" text-anchor="middle" font-family="Liberation Serif" font-size="32.8">00</text>
<text x="258.8" y="866.3" text-anchor="middle" font-family="Liberation Serif" font-size="32.8">02</text>
<text x="340.0" y="866.3" text-anchor="middle" font-family="Liberation Serif" font-size="32.8">04</text>
<text x="421.2" y="866.3" text-anchor="middle" font-family="Liberation Serif" font-size="32.8">06</text>
<text x="502.5" y="866.3" text-anchor="middle" font-family="Liberation Serif" font-size="32.8">08</text>
<text x="583.8" y="866.3" text-anchor="middle" font-family="Liberation Serif" font-size="32.8">10</text>
<text x="665.0" y="866.3" text-anchor="middle" font-family="Liberation Serif" font-size="32.8">12</text>
<text x="746.2" y="866.3" text-anchor="middle" font-family="Liberation Serif" font-size="32.8">14</text>
<text x="827.5" y="866.3" text-anchor="middle" font-family="Liberation Serif" font-size="32.8">16</text>
<text x="908.8" y="866.3" text-anchor="middle" font-family="Liberation Serif" font-size="32.8">18</text>
<text x="990.0" y="866.3" text-anchor="middle" font-family="Liberation Serif" font-size="32.8">20</text>
<text x="1071.2" y="866.3" text-anchor="middle" font-family="Liberation Serif" font-size="32.8">22</text>
<text x="1152.5" y="866.3" text-anchor="middle" font-family="Liberation Serif" font-size="32.8">00</text>
<text x="-0.5" y="24" font-family="Liberation Sans" font-weight="bold" font-size="30.3">A</text>
<text x="0.5" y="456.3" font-family="Liberation Sans" font-weight="bold" font-size="30.3">B</text>
<text x="665" y="467.5" text-anchor="middle" font-family="Liberation Serif" font-size="44">Local Time (day)</text>
<text x="665" y="917.7" text-anchor="middle" font-family="Liberation Serif" font-size="44">Local Time (h)</text>
<text x="176" y="914.8" text-anchor="middle" font-family="Liberation Serif" font-size="37.5">D23</text>
<text x="1154.3" y="914.8" text-anchor="middle" font-family="Liberation Serif" font-size="38">D24</text>
<text transform="translate(58.8 203.1) rotate(-90)" text-anchor="middle" font-family="Liberation Serif" font-size="43.6">Snap Rate (min<tspan font-size="29" dy="-17.5">-1</tspan><tspan dy="17.5">)</tspan></text>
<text transform="translate(1282 203.1) rotate(-90)" text-anchor="middle" font-family="Liberation Serif" font-size="40">Tide Level (cm)</text>
<text transform="translate(58.8 655.6) rotate(-90)" text-anchor="middle" font-family="Liberation Serif" font-size="43.6">Snap Rate (min<tspan font-size="29" dy="-17.5">-1</tspan><tspan dy="17.5">)</tspan></text>
<text transform="translate(1282 655.6) rotate(-90)" text-anchor="middle" font-family="Liberation Serif" font-size="40">Tide Level (cm)</text>
<text x="375.6" y="541.4" font-family="Liberation Serif" font-size="33" fill="#231815">Peak 1</text>
<text x="634.5" y="737.4" font-family="Liberation Serif" font-size="33.5" fill="#231815">Valley</text>
<text x="976.4" y="567" font-family="Liberation Serif" font-size="33.5" fill="#231815">Peak 2</text>
<path d="M734.6 363.5L177.5 494.8M873.9 363.5L1152.5 494.8" stroke="#ae1420" stroke-width="3.6" fill="none"/>
<path d="M734.64 42.6H873.93M734.64 363.5H873.93" fill="none" stroke="#ae1420" stroke-width="3.3" stroke-dasharray="13.929 13.929" stroke-dashoffset="6.964"/>
<path d="M734.64 42.6V363.5M873.93 42.6V363.5" fill="none" stroke="#ae1420" stroke-width="3.5" stroke-dasharray="14.586 14.586" stroke-dashoffset="7.293"/>
</svg></body></html>
